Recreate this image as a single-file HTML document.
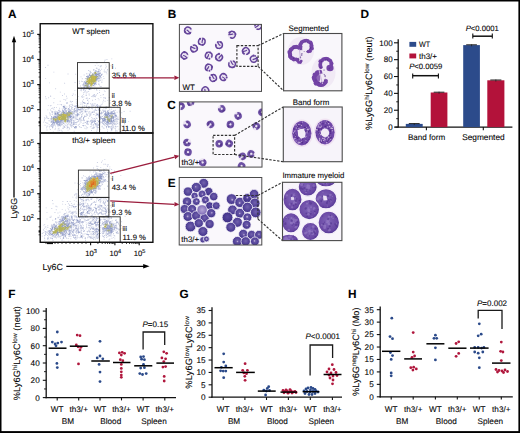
<!DOCTYPE html>
<html><head><meta charset="utf-8"><style>
html,body{margin:0;padding:0;background:#fff;}
svg{display:block;font-family:"Liberation Sans", sans-serif;text-rendering:geometricPrecision;}
text{stroke:#1c1c1c;stroke-width:0.1px;}
</style></head><body>
<svg width="520" height="433" viewBox="0 0 520 433">
<rect width="520" height="433" fill="#fff"/>
<rect x="0" y="0" width="520" height="1.5" fill="#000"/>
<rect x="0" y="0" width="1.5" height="433" fill="#000"/>
<rect x="518.4" y="0" width="1.6" height="433" fill="#000"/>
<rect x="0" y="431.1" width="520" height="1.9" fill="#000"/>
<text x="8.1" y="17.8" font-size="11.8" font-weight="bold" fill="#000">A</text>
<text x="167.7" y="17.7" font-size="11.8" font-weight="bold" fill="#000">B</text>
<text x="167.2" y="109" font-size="11.8" font-weight="bold" fill="#000">C</text>
<text x="167.8" y="187.4" font-size="11.8" font-weight="bold" fill="#000">E</text>
<text x="360.5" y="17.8" font-size="11.8" font-weight="bold" fill="#000">D</text>
<text x="8.3" y="298.1" font-size="11.8" font-weight="bold" fill="#000">F</text>
<text x="179.4" y="298.1" font-size="11.8" font-weight="bold" fill="#000">G</text>
<text x="348" y="298.1" font-size="11.8" font-weight="bold" fill="#000">H</text>
<path d="M93.24 81.78h.9v.9h-.9zM92.81 82.02h.9v.9h-.9zM91.8 75.5h.9v.9h-.9zM87.56 82.99h.9v.9h-.9zM87.49 87.44h.9v.9h-.9zM87.66 82.69h.9v.9h-.9zM84.47 84.56h.9v.9h-.9zM92.35 74.93h.9v.9h-.9zM92.19 73.78h.9v.9h-.9zM92.65 73.79h.9v.9h-.9zM87.87 86.5h.9v.9h-.9zM92.45 83.06h.9v.9h-.9zM93.24 82.15h.9v.9h-.9zM86.22 81.83h.9v.9h-.9zM92.93 74.14h.9v.9h-.9zM90.93 75.52h.9v.9h-.9zM93.05 75.67h.9v.9h-.9zM86.55 83.03h.9v.9h-.9zM97.12 76.4h.9v.9h-.9zM92.01 83.03h.9v.9h-.9zM91.27 75.32h.9v.9h-.9zM92.26 82.56h.9v.9h-.9zM87.57 78.47h.9v.9h-.9zM87.88 86.18h.9v.9h-.9zM86.98 86.51h.9v.9h-.9zM90.27 75.17h.9v.9h-.9zM86.57 78.95h.9v.9h-.9zM90.42 75.42h.9v.9h-.9zM87.38 84.65h.9v.9h-.9zM87.89 77.85h.9v.9h-.9zM87.67 82.07h.9v.9h-.9zM91.61 74.34h.9v.9h-.9zM87.9 83.12h.9v.9h-.9zM86.53 84.15h.9v.9h-.9zM86.06 86.44h.9v.9h-.9zM84.54 84.85h.9v.9h-.9zM86.49 86.08h.9v.9h-.9zM92.1 74.01h.9v.9h-.9zM90.53 75.16h.9v.9h-.9zM87.05 83.03h.9v.9h-.9zM87.3 84.3h.9v.9h-.9zM86.26 82.94h.9v.9h-.9zM86.72 86.46h.9v.9h-.9zM85.17 85.36h.9v.9h-.9zM87.93 83.84h.9v.9h-.9zM92.81 73.99h.9v.9h-.9zM88.04 76.28h.9v.9h-.9zM86.96 79.36h.9v.9h-.9zM89.8 76.81h.9v.9h-.9zM85.09 85.01h.9v.9h-.9zM92.38 74.33h.9v.9h-.9zM90.99 75.1h.9v.9h-.9zM86.44 78.61h.9v.9h-.9zM91.89 75.63h.9v.9h-.9zM96.27 75.91h.9v.9h-.9zM87.28 85.4h.9v.9h-.9zM89.88 75.7h.9v.9h-.9zM96.07 76.33h.9v.9h-.9zM89.23 77.37h.9v.9h-.9zM89.86 76.58h.9v.9h-.9zM87.82 81.79h.9v.9h-.9zM84.33 85.03h.9v.9h-.9zM96.9 76h.9v.9h-.9zM92.28 82.72h.9v.9h-.9zM86.49 83.95h.9v.9h-.9zM92.06 83.13h.9v.9h-.9zM89.55 77.35h.9v.9h-.9zM93.21 82.3h.9v.9h-.9zM88.34 76.7h.9v.9h-.9zM92.79 82.61h.9v.9h-.9zM93.04 75.32h.9v.9h-.9zM96.25 75.81h.9v.9h-.9zM92.56 74.67h.9v.9h-.9zM87.68 77.89h.9v.9h-.9zM85.16 85.24h.9v.9h-.9zM93.53 83.1h.9v.9h-.9zM93.9 82.71h.9v.9h-.9zM93.49 75.3h.9v.9h-.9zM89.86 76.22h.9v.9h-.9zM87.98 82.52h.9v.9h-.9zM87.7 85.89h.9v.9h-.9zM91.21 74.92h.9v.9h-.9zM96.03 77.62h.9v.9h-.9zM87.41 79.7h.9v.9h-.9zM86.35 77.77h.9v.9h-.9zM85.42 84.88h.9v.9h-.9zM86.65 84.51h.9v.9h-.9zM87.39 85.59h.9v.9h-.9zM93.04 82.39h.9v.9h-.9zM84.39 85.67h.9v.9h-.9zM85.21 85.15h.9v.9h-.9zM96.11 77.27h.9v.9h-.9zM96.34 77.25h.9v.9h-.9zM92.74 82.92h.9v.9h-.9zM89.41 77.58h.9v.9h-.9zM92.01 74.36h.9v.9h-.9zM88.98 77.53h.9v.9h-.9zM93.8 75.14h.9v.9h-.9zM86.03 82.41h.9v.9h-.9zM89.85 75.89h.9v.9h-.9zM86.3 87.69h.9v.9h-.9zM86.57 83.29h.9v.9h-.9zM86.79 86.91h.9v.9h-.9zM87.54 78.57h.9v.9h-.9zM86.28 85.36h.9v.9h-.9zM87.72 86.29h.9v.9h-.9zM85.65 84.59h.9v.9h-.9zM92.16 75.2h.9v.9h-.9zM96.52 76.74h.9v.9h-.9zM89.01 76.88h.9v.9h-.9zM87.62 79.67h.9v.9h-.9zM97.31 76.02h.9v.9h-.9zM96.26 76.28h.9v.9h-.9zM87.73 84.87h.9v.9h-.9zM86.74 77.78h.9v.9h-.9zM91.71 75.62h.9v.9h-.9zM55.87 120.82h.9v.9h-.9zM57.1 119.65h.9v.9h-.9zM66.36 113.26h.9v.9h-.9zM66.79 115.96h.9v.9h-.9zM53.77 118h.9v.9h-.9zM57.84 116.48h.9v.9h-.9zM52.53 119.15h.9v.9h-.9zM67.89 116.78h.9v.9h-.9zM57.14 115.73h.9v.9h-.9zM58.24 115.58h.9v.9h-.9zM70.11 111.97h.9v.9h-.9zM55.74 119.98h.9v.9h-.9zM58.64 115.19h.9v.9h-.9zM71.12 113.33h.9v.9h-.9zM68.54 113.05h.9v.9h-.9zM63.98 112.59h.9v.9h-.9zM55.35 120.74h.9v.9h-.9zM63.12 113.24h.9v.9h-.9zM54.79 120.18h.9v.9h-.9zM67.18 114.05h.9v.9h-.9zM62.09 113.61h.9v.9h-.9zM70.95 113.54h.9v.9h-.9zM61.29 113.93h.9v.9h-.9zM53.36 118.64h.9v.9h-.9zM66.5 113.28h.9v.9h-.9zM57.33 116.18h.9v.9h-.9zM60.85 114h.9v.9h-.9zM60.04 114.97h.9v.9h-.9zM60.44 114.43h.9v.9h-.9zM56.27 117.94h.9v.9h-.9zM57.03 116.49h.9v.9h-.9zM67.14 112.29h.9v.9h-.9zM66.11 115.16h.9v.9h-.9zM67.98 119.69h.9v.9h-.9zM59.02 114.92h.9v.9h-.9zM62.18 111.96h.9v.9h-.9zM69.22 111.77h.9v.9h-.9zM55.51 121.61h.9v.9h-.9zM59.81 114.03h.9v.9h-.9zM59.77 114.72h.9v.9h-.9zM57.7 116.8h.9v.9h-.9zM63.34 112.75h.9v.9h-.9zM54.54 120.23h.9v.9h-.9zM71.74 112.55h.9v.9h-.9zM66.94 112.65h.9v.9h-.9zM68.58 113.03h.9v.9h-.9zM67.62 115.36h.9v.9h-.9zM57.75 117.71h.9v.9h-.9zM57.36 118.62h.9v.9h-.9zM70.85 112.3h.9v.9h-.9zM58.3 114.73h.9v.9h-.9zM66.15 118.92h.9v.9h-.9zM69.01 113.68h.9v.9h-.9zM55.75 121.46h.9v.9h-.9zM67.22 114.69h.9v.9h-.9zM59.25 114h.9v.9h-.9zM56.51 116.86h.9v.9h-.9zM67.61 116.1h.9v.9h-.9zM57.48 117.72h.9v.9h-.9zM53.35 118.24h.9v.9h-.9zM57.52 116.05h.9v.9h-.9zM52.46 119.19h.9v.9h-.9zM62.84 112.82h.9v.9h-.9zM70.67 112.33h.9v.9h-.9zM67.5 117.43h.9v.9h-.9zM61.29 113.9h.9v.9h-.9zM53.11 118.55h.9v.9h-.9zM67.76 112.02h.9v.9h-.9zM57.62 117.59h.9v.9h-.9zM58.02 114.11h.9v.9h-.9zM59.28 114.72h.9v.9h-.9zM57.48 118.78h.9v.9h-.9zM57.73 118.51h.9v.9h-.9zM57.34 118.86h.9v.9h-.9zM67.34 116.42h.9v.9h-.9zM55.83 120.85h.9v.9h-.9zM54.62 119.99h.9v.9h-.9zM67.65 113.32h.9v.9h-.9zM70.52 112.53h.9v.9h-.9zM53.11 119.12h.9v.9h-.9zM66.2 114.17h.9v.9h-.9zM66.58 116.82h.9v.9h-.9zM60.65 114.84h.9v.9h-.9zM66.49 113.9h.9v.9h-.9zM54.97 121.37h.9v.9h-.9zM58.68 114.95h.9v.9h-.9zM66.7 112.46h.9v.9h-.9zM55.22 120.93h.9v.9h-.9zM67.47 116.3h.9v.9h-.9zM56.14 117.06h.9v.9h-.9zM60.91 115.49h.9v.9h-.9zM61.17 115.29h.9v.9h-.9zM63.42 112.67h.9v.9h-.9zM67.09 115.1h.9v.9h-.9zM66.34 116.75h.9v.9h-.9zM56.74 118.07h.9v.9h-.9zM69.99 113.34h.9v.9h-.9zM63.19 111.9h.9v.9h-.9zM59.49 114.52h.9v.9h-.9zM66.58 117.34h.9v.9h-.9zM60.82 115.26h.9v.9h-.9zM56.48 118.52h.9v.9h-.9zM54.74 120.86h.9v.9h-.9zM59.9 115.38h.9v.9h-.9zM69.75 113.67h.9v.9h-.9zM66.29 113.16h.9v.9h-.9zM67.39 118.81h.9v.9h-.9zM67.25 113.11h.9v.9h-.9zM56.84 116.95h.9v.9h-.9zM69.99 112.16h.9v.9h-.9zM57.88 119.4h.9v.9h-.9zM67.73 114.07h.9v.9h-.9zM66.65 115.85h.9v.9h-.9zM57.65 116.96h.9v.9h-.9zM67.8 114.05h.9v.9h-.9zM63.79 112.78h.9v.9h-.9zM52.23 117.93h.9v.9h-.9zM59.87 115.11h.9v.9h-.9zM66.52 113.64h.9v.9h-.9zM67.64 117.05h.9v.9h-.9zM57.14 118.53h.9v.9h-.9zM71.59 113.58h.9v.9h-.9zM57.26 118.12h.9v.9h-.9zM63.77 111.95h.9v.9h-.9zM53.73 119.34h.9v.9h-.9zM61.02 114.69h.9v.9h-.9zM70.82 112.27h.9v.9h-.9zM63.19 113.56h.9v.9h-.9zM67.88 119.54h.9v.9h-.9zM66.13 112.47h.9v.9h-.9zM62.81 112.39h.9v.9h-.9zM56.39 118.11h.9v.9h-.9zM69.47 112.55h.9v.9h-.9zM59.18 115.35h.9v.9h-.9zM60.9 114.75h.9v.9h-.9zM53.35 118.33h.9v.9h-.9zM67.79 114.1h.9v.9h-.9zM67.22 112.38h.9v.9h-.9zM67.65 118.37h.9v.9h-.9zM71.73 112.82h.9v.9h-.9zM66.93 116.3h.9v.9h-.9zM67.98 116.64h.9v.9h-.9zM68.97 112.65h.9v.9h-.9zM66.33 119.42h.9v.9h-.9zM67.44 113.9h.9v.9h-.9zM62.82 112.41h.9v.9h-.9zM67.93 117.88h.9v.9h-.9zM67 119.48h.9v.9h-.9zM63.26 111.96h.9v.9h-.9zM68.57 111.84h.9v.9h-.9zM67.33 118.33h.9v.9h-.9zM67.38 119.35h.9v.9h-.9zM67.12 115.28h.9v.9h-.9zM107.12 118.52h.9v.9h-.9zM110.37 114.98h.9v.9h-.9zM106.9 118.94h.9v.9h-.9zM110.47 114.88h.9v.9h-.9zM111.69 114.42h.9v.9h-.9zM109.76 118.67h.9v.9h-.9zM106.95 117.43h.9v.9h-.9zM107.48 118.63h.9v.9h-.9zM106.05 117.29h.9v.9h-.9zM105.65 117.22h.9v.9h-.9zM107.19 119.67h.9v.9h-.9zM106.44 119.2h.9v.9h-.9zM109.2 119.56h.9v.9h-.9zM108.22 120.01h.9v.9h-.9zM111.14 117.06h.9v.9h-.9zM104.54 116.76h.9v.9h-.9zM111.88 116.92h.9v.9h-.9zM109.24 118.91h.9v.9h-.9zM107.92 117.95h.9v.9h-.9zM107.41 119.69h.9v.9h-.9zM105.04 116.75h.9v.9h-.9zM107.19 118.27h.9v.9h-.9zM111.5 114.3h.9v.9h-.9zM105.77 116.35h.9v.9h-.9zM108.44 118.45h.9v.9h-.9zM107.83 119.5h.9v.9h-.9zM109.76 118.32h.9v.9h-.9zM106.98 117.4h.9v.9h-.9zM111.3 116.04h.9v.9h-.9zM111.75 114.96h.9v.9h-.9zM109.58 121.17h.9v.9h-.9zM104.26 116.17h.9v.9h-.9zM109.53 120.64h.9v.9h-.9zM108.95 118.9h.9v.9h-.9zM107.58 116.96h.9v.9h-.9zM107.1 115.73h.9v.9h-.9zM107.77 119.25h.9v.9h-.9zM108.62 119.42h.9v.9h-.9zM110.91 116.5h.9v.9h-.9zM109.82 120.94h.9v.9h-.9zM104.13 116.88h.9v.9h-.9zM109.93 117.83h.9v.9h-.9zM106.42 115.83h.9v.9h-.9zM110.8 116.96h.9v.9h-.9zM109.69 119.56h.9v.9h-.9zM108.72 120.44h.9v.9h-.9zM110.2 115.48h.9v.9h-.9zM109.88 117.78h.9v.9h-.9zM107.75 117.51h.9v.9h-.9zM108.71 121.02h.9v.9h-.9zM111.9 115.58h.9v.9h-.9zM109.63 120.16h.9v.9h-.9zM111.76 114.51h.9v.9h-.9zM104.82 116.86h.9v.9h-.9zM105.36 116.57h.9v.9h-.9zM104.4 116.41h.9v.9h-.9zM111.41 116.38h.9v.9h-.9zM109.01 119.17h.9v.9h-.9zM110.39 116.35h.9v.9h-.9zM110.6 115.93h.9v.9h-.9zM104.25 116.38h.9v.9h-.9zM106.58 119.42h.9v.9h-.9zM108.04 120.74h.9v.9h-.9zM111.83 115.23h.9v.9h-.9zM109.24 120.16h.9v.9h-.9zM108.01 120.27h.9v.9h-.9zM111.17 117.05h.9v.9h-.9zM107.36 119.57h.9v.9h-.9zM107.2 115.97h.9v.9h-.9zM108.13 119.26h.9v.9h-.9zM111.53 116.64h.9v.9h-.9zM106.54 119.62h.9v.9h-.9zM106.12 116.86h.9v.9h-.9zM108.61 119.37h.9v.9h-.9zM109.22 118.16h.9v.9h-.9zM106.85 117.21h.9v.9h-.9zM111.85 117.56h.9v.9h-.9zM106.84 116.36h.9v.9h-.9zM110.4 115.25h.9v.9h-.9zM61.9 113.85h.9v.9h-.9zM53.1 117.78h.9v.9h-.9zM55.13 120.15h.9v.9h-.9zM70.3 112.98h.9v.9h-.9zM66.04 113.75h.9v.9h-.9z" fill="#a4aa88"/>
<path d="M94.03 73.22h.9v.9h-.9zM95.98 75.91h.9v.9h-.9zM90.14 81.31h.9v.9h-.9zM95.84 73.4h.9v.9h-.9zM91.68 81.29h.9v.9h-.9zM94.11 80.04h.9v.9h-.9zM90.08 83.86h.9v.9h-.9zM90.83 79.59h.9v.9h-.9zM90.68 81.34h.9v.9h-.9zM88.61 83.05h.9v.9h-.9zM91.53 77.78h.9v.9h-.9zM95.04 79.82h.9v.9h-.9zM88.45 83.4h.9v.9h-.9zM94.56 80.78h.9v.9h-.9zM90.84 78.12h.9v.9h-.9zM87.27 81.27h.9v.9h-.9zM90.75 85.64h.9v.9h-.9zM92.23 80.22h.9v.9h-.9zM94.43 79.4h.9v.9h-.9zM86.51 81.13h.9v.9h-.9zM94.02 79.91h.9v.9h-.9zM95.88 77.7h.9v.9h-.9zM90.36 77h.9v.9h-.9zM94.68 77.84h.9v.9h-.9zM91.2 75.99h.9v.9h-.9zM89.55 82.34h.9v.9h-.9zM91.79 77.46h.9v.9h-.9zM90.41 80.12h.9v.9h-.9zM89.25 82.45h.9v.9h-.9zM94.38 80.1h.9v.9h-.9zM88.84 83.28h.9v.9h-.9zM93.71 80.36h.9v.9h-.9zM86.18 80.8h.9v.9h-.9zM91.36 77.61h.9v.9h-.9zM87.62 80.36h.9v.9h-.9zM95.9 80.7h.9v.9h-.9zM90.54 79.15h.9v.9h-.9zM94.19 73.61h.9v.9h-.9zM88.7 83.67h.9v.9h-.9zM87.7 81.55h.9v.9h-.9zM90.22 85.11h.9v.9h-.9zM94.1 81.45h.9v.9h-.9zM95.83 77.92h.9v.9h-.9zM88.39 81.78h.9v.9h-.9zM90.69 75.92h.9v.9h-.9zM94.07 73.52h.9v.9h-.9zM90.15 84.12h.9v.9h-.9zM88.2 82.6h.9v.9h-.9zM91.28 84.08h.9v.9h-.9zM93.62 80.6h.9v.9h-.9zM90.03 81.5h.9v.9h-.9zM94.21 81.31h.9v.9h-.9zM94.83 75.86h.9v.9h-.9zM87.85 81.67h.9v.9h-.9zM88.33 83.32h.9v.9h-.9zM92.54 79.98h.9v.9h-.9zM91.08 78.86h.9v.9h-.9zM91.38 85.57h.9v.9h-.9zM93.47 81.34h.9v.9h-.9zM89.57 81.98h.9v.9h-.9zM90.01 76.95h.9v.9h-.9zM94.57 80.5h.9v.9h-.9zM95.65 80.12h.9v.9h-.9zM90.34 84.54h.9v.9h-.9zM90.91 83.86h.9v.9h-.9zM90.54 77.55h.9v.9h-.9zM91.05 84.06h.9v.9h-.9zM92.68 81.21h.9v.9h-.9zM94.81 80.08h.9v.9h-.9zM93.99 80.59h.9v.9h-.9zM95.83 77.7h.9v.9h-.9zM91.53 79.35h.9v.9h-.9zM93.35 79.76h.9v.9h-.9zM91.09 80.97h.9v.9h-.9zM90.83 77.29h.9v.9h-.9zM95.39 72.1h.9v.9h-.9zM94.98 76.85h.9v.9h-.9zM89.03 81.83h.9v.9h-.9zM90.89 80.77h.9v.9h-.9zM93.54 80.95h.9v.9h-.9zM90.11 84.08h.9v.9h-.9zM95.18 77.98h.9v.9h-.9zM91.93 81.01h.9v.9h-.9zM90.42 85.52h.9v.9h-.9zM94.45 78.11h.9v.9h-.9zM95.19 76.44h.9v.9h-.9zM89.08 82.61h.9v.9h-.9zM94.77 80.82h.9v.9h-.9zM87.57 80.85h.9v.9h-.9zM92.19 81.18h.9v.9h-.9zM87.85 80.18h.9v.9h-.9zM88.2 82.3h.9v.9h-.9zM91.21 79.03h.9v.9h-.9zM91.64 78.52h.9v.9h-.9zM91.2 85.14h.9v.9h-.9zM90.12 76.86h.9v.9h-.9zM93.22 80.05h.9v.9h-.9zM91.96 78.93h.9v.9h-.9zM93.97 81.61h.9v.9h-.9zM93.6 79.98h.9v.9h-.9zM95.12 80.49h.9v.9h-.9zM92.58 81.69h.9v.9h-.9zM94.76 71.94h.9v.9h-.9zM89.08 83.2h.9v.9h-.9zM92.99 80.57h.9v.9h-.9zM86.28 81.11h.9v.9h-.9zM90.23 85.63h.9v.9h-.9zM91.53 80.73h.9v.9h-.9zM86.74 81.46h.9v.9h-.9zM91.96 79.39h.9v.9h-.9zM90.22 85.42h.9v.9h-.9zM94.37 78.68h.9v.9h-.9zM91 81.21h.9v.9h-.9zM93.26 80.73h.9v.9h-.9zM94.43 79.35h.9v.9h-.9zM88.58 83.36h.9v.9h-.9zM87.52 80.83h.9v.9h-.9zM87.93 81.68h.9v.9h-.9zM95.42 76.86h.9v.9h-.9zM95.74 76.95h.9v.9h-.9zM94.44 80.03h.9v.9h-.9zM95.74 73h.9v.9h-.9zM90.64 79.49h.9v.9h-.9zM91.23 78.67h.9v.9h-.9zM90.31 76.93h.9v.9h-.9zM95.36 78.61h.9v.9h-.9zM87.12 80.62h.9v.9h-.9zM90.19 79.98h.9v.9h-.9zM87.45 80.75h.9v.9h-.9zM91.27 79.4h.9v.9h-.9zM91.98 79.09h.9v.9h-.9zM91.18 75.86h.9v.9h-.9zM90.81 80.5h.9v.9h-.9zM91.21 77.64h.9v.9h-.9zM95.65 73.24h.9v.9h-.9zM91.49 77.96h.9v.9h-.9zM90.81 76.8h.9v.9h-.9zM94.85 80.86h.9v.9h-.9zM88.35 82.87h.9v.9h-.9zM94.98 79.78h.9v.9h-.9zM90.18 84.94h.9v.9h-.9zM92.49 81.61h.9v.9h-.9zM90.29 80.95h.9v.9h-.9zM91.07 80.83h.9v.9h-.9zM91.15 79.31h.9v.9h-.9zM86.33 80.61h.9v.9h-.9zM94.09 79.34h.9v.9h-.9zM88.29 82.82h.9v.9h-.9zM94.11 76.25h.9v.9h-.9zM91.97 83.92h.9v.9h-.9zM91.09 76.93h.9v.9h-.9zM91.45 76.41h.9v.9h-.9zM91.74 80.79h.9v.9h-.9zM94.12 77.82h.9v.9h-.9zM94.93 72.14h.9v.9h-.9zM94.15 73.36h.9v.9h-.9zM89.61 82.99h.9v.9h-.9zM95.12 79.05h.9v.9h-.9zM95.95 77.21h.9v.9h-.9zM95.39 73.03h.9v.9h-.9zM94.29 75.9h.9v.9h-.9zM92.69 80.72h.9v.9h-.9zM95.71 77.69h.9v.9h-.9zM94.81 79.53h.9v.9h-.9zM95.06 77.41h.9v.9h-.9zM95.4 72.16h.9v.9h-.9zM94.12 71.89h.9v.9h-.9zM95.07 76.55h.9v.9h-.9zM94.41 76.79h.9v.9h-.9zM90.59 76.34h.9v.9h-.9zM94.63 72.66h.9v.9h-.9zM94.53 81.63h.9v.9h-.9zM94.43 79.5h.9v.9h-.9zM91.69 80.24h.9v.9h-.9zM89.77 82.75h.9v.9h-.9zM91.63 79.81h.9v.9h-.9zM94.09 80.15h.9v.9h-.9zM95.87 76.67h.9v.9h-.9zM90.23 78.73h.9v.9h-.9zM95.11 76.76h.9v.9h-.9zM95.05 73.04h.9v.9h-.9zM95.69 75.86h.9v.9h-.9zM93.22 81.11h.9v.9h-.9zM93.06 80.02h.9v.9h-.9zM94.02 81.16h.9v.9h-.9zM91.77 79.36h.9v.9h-.9zM95.58 78.54h.9v.9h-.9zM95.7 77.5h.9v.9h-.9zM95.63 76.93h.9v.9h-.9zM63.44 116.99h.9v.9h-.9zM54.69 118.67h.9v.9h-.9zM61.48 117.76h.9v.9h-.9zM60.76 117.98h.9v.9h-.9zM64.76 115.98h.9v.9h-.9zM62.98 116.01h.9v.9h-.9zM61.7 116.23h.9v.9h-.9zM64.13 120.64h.9v.9h-.9zM60.16 118.87h.9v.9h-.9zM63.39 115.03h.9v.9h-.9zM63.42 115.21h.9v.9h-.9zM69.9 114.65h.9v.9h-.9zM69.14 114.33h.9v.9h-.9zM63.7 114.12h.9v.9h-.9zM64.1 117.26h.9v.9h-.9zM61.26 117.03h.9v.9h-.9zM62.91 117.1h.9v.9h-.9zM64.09 117.63h.9v.9h-.9zM63.75 117.15h.9v.9h-.9zM64.99 119.72h.9v.9h-.9zM64.07 116.33h.9v.9h-.9zM64.32 118.55h.9v.9h-.9zM63.93 114.29h.9v.9h-.9zM64.46 121.36h.9v.9h-.9zM63.89 117.99h.9v.9h-.9zM65.26 117.1h.9v.9h-.9zM60.57 116.07h.9v.9h-.9zM64.02 119.6h.9v.9h-.9zM62.56 117.8h.9v.9h-.9zM64.57 117.91h.9v.9h-.9zM62.23 114.69h.9v.9h-.9zM62.81 115.34h.9v.9h-.9zM61.36 117.03h.9v.9h-.9zM60.97 118.28h.9v.9h-.9zM68.09 115.46h.9v.9h-.9zM62.63 116.18h.9v.9h-.9zM62.63 116.66h.9v.9h-.9zM54.1 118.2h.9v.9h-.9zM60.62 118.38h.9v.9h-.9zM54.26 119.14h.9v.9h-.9zM61.16 118.07h.9v.9h-.9zM62.52 116.49h.9v.9h-.9zM61.71 119.33h.9v.9h-.9zM55.08 118.31h.9v.9h-.9zM62.47 114.71h.9v.9h-.9zM62.11 113.96h.9v.9h-.9zM64.07 120.68h.9v.9h-.9zM62.02 116.69h.9v.9h-.9zM64.94 119.32h.9v.9h-.9zM65.39 120.26h.9v.9h-.9zM64.19 119.99h.9v.9h-.9zM61.44 117.12h.9v.9h-.9zM61.3 117.26h.9v.9h-.9zM62.47 115.96h.9v.9h-.9zM65.53 116.6h.9v.9h-.9zM64.97 118.3h.9v.9h-.9zM63.63 115.98h.9v.9h-.9zM65.13 119.27h.9v.9h-.9zM62.88 119.46h.9v.9h-.9zM55.96 119.57h.9v.9h-.9zM64.28 117.99h.9v.9h-.9zM63.96 119.63h.9v.9h-.9zM68.49 114.93h.9v.9h-.9zM63.58 114.04h.9v.9h-.9zM64.31 120.76h.9v.9h-.9zM65.5 118.05h.9v.9h-.9zM63.7 117.08h.9v.9h-.9zM64.03 118.49h.9v.9h-.9zM65.57 116.24h.9v.9h-.9zM60.11 117.16h.9v.9h-.9zM60.91 118.13h.9v.9h-.9zM64.28 116.28h.9v.9h-.9zM61.42 118.2h.9v.9h-.9zM61.23 115.8h.9v.9h-.9zM61.94 119.07h.9v.9h-.9zM61.86 116.85h.9v.9h-.9zM62.02 117.53h.9v.9h-.9zM64.63 121.38h.9v.9h-.9zM61.47 116.4h.9v.9h-.9zM55.57 118.53h.9v.9h-.9zM61.4 118.43h.9v.9h-.9zM63.34 117.82h.9v.9h-.9zM60.92 119.23h.9v.9h-.9zM62.83 118.4h.9v.9h-.9zM62.44 118.19h.9v.9h-.9zM55.32 119.08h.9v.9h-.9zM64.85 116.88h.9v.9h-.9zM63.28 115.04h.9v.9h-.9zM68.56 115.11h.9v.9h-.9zM62.41 117.8h.9v.9h-.9zM63.87 118.98h.9v.9h-.9zM60.57 118.06h.9v.9h-.9zM64.35 116.26h.9v.9h-.9zM55.51 118.92h.9v.9h-.9zM62.91 115.65h.9v.9h-.9zM55.86 119.15h.9v.9h-.9zM60.96 116.26h.9v.9h-.9zM62.9 117.26h.9v.9h-.9zM62.04 115.61h.9v.9h-.9zM61.87 115.79h.9v.9h-.9zM65 118.59h.9v.9h-.9zM64.57 120.11h.9v.9h-.9zM64.52 115.86h.9v.9h-.9zM54.77 119.09h.9v.9h-.9zM62.95 116.76h.9v.9h-.9zM60.66 118.68h.9v.9h-.9zM64.49 119.61h.9v.9h-.9zM68.36 114.68h.9v.9h-.9zM63.08 118.98h.9v.9h-.9zM55.76 118.6h.9v.9h-.9zM55.54 119.61h.9v.9h-.9zM64.1 120.19h.9v.9h-.9zM63.72 114.38h.9v.9h-.9zM64.74 119.95h.9v.9h-.9zM62.02 114.01h.9v.9h-.9zM63.99 115.58h.9v.9h-.9zM61.33 116.23h.9v.9h-.9zM55.94 119.02h.9v.9h-.9zM61.69 118.6h.9v.9h-.9zM60.21 118.9h.9v.9h-.9zM65.24 118.47h.9v.9h-.9zM63.16 117.74h.9v.9h-.9zM60.07 119.24h.9v.9h-.9zM64.65 116.28h.9v.9h-.9zM62.33 115.02h.9v.9h-.9zM68.03 114.65h.9v.9h-.9zM62.8 118.25h.9v.9h-.9zM65.55 116.58h.9v.9h-.9zM61.7 117.43h.9v.9h-.9zM64.07 116.11h.9v.9h-.9zM61.69 119.61h.9v.9h-.9zM54.57 119.48h.9v.9h-.9zM64.44 121.12h.9v.9h-.9zM61.77 116.95h.9v.9h-.9zM69.65 114.34h.9v.9h-.9zM61.16 116.73h.9v.9h-.9zM62.61 117.06h.9v.9h-.9zM64.51 120.98h.9v.9h-.9zM60.12 116.46h.9v.9h-.9zM69.43 113.81h.9v.9h-.9zM61.45 115.87h.9v.9h-.9zM55.92 118.91h.9v.9h-.9zM65.4 121.59h.9v.9h-.9zM63.46 116.25h.9v.9h-.9zM65.49 119.58h.9v.9h-.9zM61.47 119.02h.9v.9h-.9zM65.84 116.16h.9v.9h-.9zM61.25 118.6h.9v.9h-.9zM68.66 114.54h.9v.9h-.9zM65.07 120.43h.9v.9h-.9zM63.33 118.19h.9v.9h-.9zM62.03 116.12h.9v.9h-.9zM63.56 118.35h.9v.9h-.9zM63.45 115.98h.9v.9h-.9zM69.51 114.38h.9v.9h-.9zM64.09 116.77h.9v.9h-.9zM63.15 117.73h.9v.9h-.9zM68.18 114.97h.9v.9h-.9zM64.73 117.7h.9v.9h-.9zM62.74 115.17h.9v.9h-.9zM64.86 118.55h.9v.9h-.9zM69.38 115.67h.9v.9h-.9zM68.26 114.07h.9v.9h-.9zM63.2 118.28h.9v.9h-.9zM62.93 114h.9v.9h-.9zM68.94 114.84h.9v.9h-.9zM63.12 119.08h.9v.9h-.9zM62.53 115h.9v.9h-.9zM69.99 115.42h.9v.9h-.9zM62.54 119.29h.9v.9h-.9zM65.59 116.2h.9v.9h-.9zM62.64 119.6h.9v.9h-.9zM64.28 115.85h.9v.9h-.9zM64.02 117.71h.9v.9h-.9zM69.61 115.26h.9v.9h-.9z" fill="#b4b25a"/>
<path d="M92.78 85.17h.9v.9h-.9zM85.84 88.28h.9v.9h-.9zM83.71 86.88h.9v.9h-.9zM83.86 85.94h.9v.9h-.9zM98.28 74.02h.9v.9h-.9zM85.54 86.1h.9v.9h-.9zM88.08 86.2h.9v.9h-.9zM88.01 86.47h.9v.9h-.9zM98.27 78.11h.9v.9h-.9zM99.75 69.9h.9v.9h-.9zM92.05 73.28h.9v.9h-.9zM83.84 88.51h.9v.9h-.9zM83.39 83.29h.9v.9h-.9zM84.63 87.72h.9v.9h-.9zM97.61 71.05h.9v.9h-.9zM83.27 83.55h.9v.9h-.9zM93.98 83.84h.9v.9h-.9zM93.4 85.29h.9v.9h-.9zM89.65 84.12h.9v.9h-.9zM82.92 88.94h.9v.9h-.9zM85.33 88.27h.9v.9h-.9zM94.63 71.19h.9v.9h-.9zM101.1 74.93h.9v.9h-.9zM88.56 85.96h.9v.9h-.9zM84.16 87.16h.9v.9h-.9zM88.32 84.98h.9v.9h-.9zM82.7 85.21h.9v.9h-.9zM88.96 86.22h.9v.9h-.9zM90.22 73.39h.9v.9h-.9zM99.02 78.32h.9v.9h-.9zM96.74 71.65h.9v.9h-.9zM93.49 73.18h.9v.9h-.9zM80.73 88.07h.9v.9h-.9zM99.57 75.51h.9v.9h-.9zM83.22 89.51h.9v.9h-.9zM93.65 72.19h.9v.9h-.9zM98.97 78.29h.9v.9h-.9zM83.14 83.3h.9v.9h-.9zM97.94 71.11h.9v.9h-.9zM99.12 74.58h.9v.9h-.9zM83.94 85.64h.9v.9h-.9zM89.78 84.08h.9v.9h-.9zM84.26 87.13h.9v.9h-.9zM84.39 91.64h.9v.9h-.9zM89.75 83.98h.9v.9h-.9zM83.12 83.74h.9v.9h-.9zM85.89 86.18h.9v.9h-.9zM80.65 88.93h.9v.9h-.9zM90.62 71.89h.9v.9h-.9zM93.71 94.03h.9v.9h-.9zM84.4 91.62h.9v.9h-.9zM88.33 85.03h.9v.9h-.9zM96.78 71.42h.9v.9h-.9zM93.7 72.7h.9v.9h-.9zM93.18 84.44h.9v.9h-.9zM99.28 78.33h.9v.9h-.9zM80.84 88.87h.9v.9h-.9zM101.54 74.22h.9v.9h-.9zM95.44 70.11h.9v.9h-.9zM89.56 70.63h.9v.9h-.9zM83.21 85.6h.9v.9h-.9zM97.85 81.2h.9v.9h-.9zM90.38 71.96h.9v.9h-.9zM96.05 79.94h.9v.9h-.9zM82.7 86.89h.9v.9h-.9zM94.83 70.79h.9v.9h-.9zM88.2 69.97h.9v.9h-.9zM92.21 84.94h.9v.9h-.9zM100.32 74.86h.9v.9h-.9zM89.8 71.56h.9v.9h-.9zM85.89 87.18h.9v.9h-.9zM96.37 79.98h.9v.9h-.9zM98.36 70.53h.9v.9h-.9zM84.27 81.58h.9v.9h-.9zM84.24 81.08h.9v.9h-.9zM101 74.11h.9v.9h-.9zM83.19 84.17h.9v.9h-.9zM97.6 70.93h.9v.9h-.9zM98.74 75.11h.9v.9h-.9zM83.59 81.97h.9v.9h-.9zM98.64 71.38h.9v.9h-.9zM85.36 80.49h.9v.9h-.9zM95.85 70.79h.9v.9h-.9zM62.49 121.39h.9v.9h-.9zM56.43 115.38h.9v.9h-.9zM70.47 117.9h.9v.9h-.9zM57.49 123.92h.9v.9h-.9zM50.97 121.77h.9v.9h-.9zM75.81 114.76h.9v.9h-.9zM59.26 109.9h.9v.9h-.9zM60.66 112.79h.9v.9h-.9zM70.5 109.8h.9v.9h-.9zM61.04 113.18h.9v.9h-.9zM71.01 118.53h.9v.9h-.9zM71.27 121.69h.9v.9h-.9zM68.35 121.06h.9v.9h-.9zM58.96 122.92h.9v.9h-.9zM51.33 121.83h.9v.9h-.9zM57.3 115.62h.9v.9h-.9zM71.74 114.43h.9v.9h-.9zM60.22 123.45h.9v.9h-.9zM59.51 111.16h.9v.9h-.9zM75.49 110.11h.9v.9h-.9zM51.51 120.9h.9v.9h-.9zM55.68 114.56h.9v.9h-.9zM50.76 120.61h.9v.9h-.9zM70.01 115h.9v.9h-.9zM51.4 120.56h.9v.9h-.9zM52.56 124.38h.9v.9h-.9zM53.52 124.79h.9v.9h-.9zM55.36 121.86h.9v.9h-.9zM70.13 114.24h.9v.9h-.9zM52.14 126.55h.9v.9h-.9zM57.03 124.71h.9v.9h-.9zM56.92 113.8h.9v.9h-.9zM53.78 124.28h.9v.9h-.9zM62.15 121.88h.9v.9h-.9zM77.24 110.81h.9v.9h-.9zM57.72 124.27h.9v.9h-.9zM61.66 123.98h.9v.9h-.9zM63.31 122.7h.9v.9h-.9zM57.56 114.74h.9v.9h-.9zM72.29 111.14h.9v.9h-.9zM77.17 108.04h.9v.9h-.9zM62.88 122.6h.9v.9h-.9zM52.21 127.29h.9v.9h-.9zM61.36 111.87h.9v.9h-.9zM60.94 122.27h.9v.9h-.9zM54.41 121.87h.9v.9h-.9zM51.07 117.38h.9v.9h-.9zM57.01 115.35h.9v.9h-.9zM70.37 115.21h.9v.9h-.9zM51.97 123.03h.9v.9h-.9zM51.16 124.11h.9v.9h-.9zM50.93 117.86h.9v.9h-.9zM58.13 122.01h.9v.9h-.9zM69.42 121.84h.9v.9h-.9zM74.59 116.79h.9v.9h-.9zM60.77 122.63h.9v.9h-.9zM51.38 117.24h.9v.9h-.9zM51.07 118.77h.9v.9h-.9zM55.38 113.95h.9v.9h-.9zM61.14 113.16h.9v.9h-.9zM73.61 111.18h.9v.9h-.9zM70.83 123.13h.9v.9h-.9zM75.58 114.84h.9v.9h-.9zM51.59 124.34h.9v.9h-.9zM59.1 122.79h.9v.9h-.9zM72.86 122.91h.9v.9h-.9zM87.56 107.41h.9v.9h-.9zM86.06 105.96h.9v.9h-.9zM69.34 121.09h.9v.9h-.9zM50.44 118.61h.9v.9h-.9zM75.76 106.45h.9v.9h-.9zM54.43 113.82h.9v.9h-.9zM51.4 125.49h.9v.9h-.9zM81.55 109.01h.9v.9h-.9zM77.9 113.58h.9v.9h-.9zM73.41 121.32h.9v.9h-.9zM51.65 121.6h.9v.9h-.9zM62.08 120.22h.9v.9h-.9zM79.58 118.19h.9v.9h-.9zM75.81 122.25h.9v.9h-.9zM51.1 116.07h.9v.9h-.9zM50.68 117.92h.9v.9h-.9zM68.14 122.53h.9v.9h-.9zM52.38 124.29h.9v.9h-.9zM80.59 116.97h.9v.9h-.9zM87.43 103.34h.9v.9h-.9zM54.41 123.41h.9v.9h-.9zM55.71 114.03h.9v.9h-.9zM68.89 108.76h.9v.9h-.9zM70.48 120.86h.9v.9h-.9zM74.2 107.98h.9v.9h-.9zM77.44 104.82h.9v.9h-.9zM52.56 126.37h.9v.9h-.9zM61.69 123.7h.9v.9h-.9zM72.35 124.51h.9v.9h-.9zM74.49 109.65h.9v.9h-.9zM58.01 110.17h.9v.9h-.9zM81.92 110.91h.9v.9h-.9zM81.15 116.43h.9v.9h-.9zM63.59 119.76h.9v.9h-.9zM74.57 110.85h.9v.9h-.9zM55.88 122.17h.9v.9h-.9zM80.27 108.83h.9v.9h-.9zM68.67 108.78h.9v.9h-.9zM70.66 118.05h.9v.9h-.9zM51.35 125.33h.9v.9h-.9zM73.58 113.07h.9v.9h-.9zM50.05 125.38h.9v.9h-.9zM75.93 110.67h.9v.9h-.9zM61.35 111.77h.9v.9h-.9zM63.74 126.99h.9v.9h-.9zM60.74 124.53h.9v.9h-.9zM79.68 119.55h.9v.9h-.9zM70.94 120.16h.9v.9h-.9zM60.4 121.8h.9v.9h-.9zM75.72 107.06h.9v.9h-.9zM74.07 108.86h.9v.9h-.9zM73.7 122.33h.9v.9h-.9zM72.94 124.07h.9v.9h-.9zM68.35 120.8h.9v.9h-.9zM54.44 122.07h.9v.9h-.9zM80.83 110.43h.9v.9h-.9zM59.69 123.59h.9v.9h-.9zM58.87 111.6h.9v.9h-.9zM52.65 124.71h.9v.9h-.9zM68.44 122.51h.9v.9h-.9zM75.21 122.33h.9v.9h-.9zM59.11 121.82h.9v.9h-.9zM70.58 105.98h.9v.9h-.9zM74.9 110.64h.9v.9h-.9zM74.58 116.36h.9v.9h-.9zM60.31 122.27h.9v.9h-.9zM74.16 106.18h.9v.9h-.9zM97.42 123.77h.9v.9h-.9zM67.18 126.94h.9v.9h-.9zM91.83 112.09h.9v.9h-.9zM91.12 123.64h.9v.9h-.9zM77.05 112.79h.9v.9h-.9zM99.35 114.43h.9v.9h-.9zM89.22 106.78h.9v.9h-.9zM83.67 107.68h.9v.9h-.9zM99.61 112.65h.9v.9h-.9zM91.21 123.27h.9v.9h-.9zM66.6 127.69h.9v.9h-.9zM75.31 105.74h.9v.9h-.9zM74.67 114.24h.9v.9h-.9zM82.06 107.41h.9v.9h-.9zM72.96 122.61h.9v.9h-.9zM75.8 117.63h.9v.9h-.9zM91.9 111.94h.9v.9h-.9zM98.16 115.39h.9v.9h-.9zM97.75 124.06h.9v.9h-.9zM81.28 115.71h.9v.9h-.9zM73.81 110.52h.9v.9h-.9zM83.61 117.21h.9v.9h-.9zM94.22 123.19h.9v.9h-.9zM70.56 106.15h.9v.9h-.9zM78.77 118.96h.9v.9h-.9zM68.22 109.14h.9v.9h-.9zM87.4 121.09h.9v.9h-.9zM93.54 127.44h.9v.9h-.9zM83.03 116.93h.9v.9h-.9zM92.72 127.48h.9v.9h-.9zM96.77 105.55h.9v.9h-.9zM84.71 111.6h.9v.9h-.9zM76.76 110.63h.9v.9h-.9zM83.09 117.94h.9v.9h-.9zM96.93 106.07h.9v.9h-.9zM62.57 122.48h.9v.9h-.9zM73.81 123.39h.9v.9h-.9zM75.65 108.21h.9v.9h-.9zM90.48 121.14h.9v.9h-.9zM96.85 126.84h.9v.9h-.9zM70.43 120.13h.9v.9h-.9zM80.79 110.66h.9v.9h-.9zM70.44 124.01h.9v.9h-.9zM98.58 112.85h.9v.9h-.9zM83.12 125.28h.9v.9h-.9zM93.65 119.88h.9v.9h-.9zM80.77 110.39h.9v.9h-.9zM95.63 125.2h.9v.9h-.9zM72.69 122.53h.9v.9h-.9zM98.85 108.27h.9v.9h-.9zM62.68 120.76h.9v.9h-.9zM76.33 111.77h.9v.9h-.9zM99.52 108.25h.9v.9h-.9zM72.96 120.14h.9v.9h-.9zM96.89 125.36h.9v.9h-.9zM77.44 109.75h.9v.9h-.9zM94.44 121.05h.9v.9h-.9zM71.24 122.44h.9v.9h-.9zM94.79 123.17h.9v.9h-.9zM87.14 121.69h.9v.9h-.9zM71.33 119.47h.9v.9h-.9zM87.04 120.77h.9v.9h-.9zM97.86 106.64h.9v.9h-.9zM87.22 114.69h.9v.9h-.9zM91.69 121.5h.9v.9h-.9zM96.62 126.55h.9v.9h-.9zM83.24 119.59h.9v.9h-.9zM77 113.44h.9v.9h-.9zM90.28 120.31h.9v.9h-.9zM91.35 105.68h.9v.9h-.9zM94.15 118.34h.9v.9h-.9zM93.37 126.38h.9v.9h-.9zM70.68 111.04h.9v.9h-.9zM90.91 121.94h.9v.9h-.9zM84.89 110.62h.9v.9h-.9zM76.42 105.3h.9v.9h-.9zM91.9 122.07h.9v.9h-.9zM70.01 119.12h.9v.9h-.9zM77.23 118.66h.9v.9h-.9zM79.05 117.77h.9v.9h-.9zM95.65 125.57h.9v.9h-.9zM99.46 110.09h.9v.9h-.9zM98.33 116.61h.9v.9h-.9zM81.78 108.22h.9v.9h-.9zM81.28 116.03h.9v.9h-.9zM85.8 111.46h.9v.9h-.9zM94.25 120.62h.9v.9h-.9zM73 113.39h.9v.9h-.9zM69.32 119.93h.9v.9h-.9zM70.71 125.47h.9v.9h-.9zM91.56 105.32h.9v.9h-.9zM72.89 111.9h.9v.9h-.9zM86.92 107.03h.9v.9h-.9zM86.4 120.85h.9v.9h-.9zM71.91 111.56h.9v.9h-.9zM76.59 109.63h.9v.9h-.9zM68.46 109.57h.9v.9h-.9zM86.38 123.33h.9v.9h-.9zM83.57 107.38h.9v.9h-.9zM86.92 114.61h.9v.9h-.9zM90.46 112.81h.9v.9h-.9zM63.33 123.01h.9v.9h-.9zM72.08 111.18h.9v.9h-.9zM70.36 124.77h.9v.9h-.9zM97.95 124.82h.9v.9h-.9zM62.56 127.69h.9v.9h-.9zM73.82 123.91h.9v.9h-.9zM84.11 115.86h.9v.9h-.9zM66.74 125.85h.9v.9h-.9zM74.08 111.54h.9v.9h-.9zM88.8 107.56h.9v.9h-.9zM93.14 127.53h.9v.9h-.9zM71.16 107.6h.9v.9h-.9zM74.6 105.97h.9v.9h-.9zM71.47 125.61h.9v.9h-.9zM97.33 107.11h.9v.9h-.9zM62.93 120.67h.9v.9h-.9zM82.53 125h.9v.9h-.9zM91.65 111.74h.9v.9h-.9zM94.11 122.15h.9v.9h-.9zM92.58 121.58h.9v.9h-.9zM82.86 118.71h.9v.9h-.9zM63.81 126.12h.9v.9h-.9zM98.6 112.28h.9v.9h-.9zM76.53 119.02h.9v.9h-.9zM80.61 108.21h.9v.9h-.9zM90.35 123.65h.9v.9h-.9zM68.35 119.75h.9v.9h-.9zM96.81 127.51h.9v.9h-.9zM75.54 122.07h.9v.9h-.9zM73.74 121.55h.9v.9h-.9zM80.71 111.52h.9v.9h-.9zM96.14 123.78h.9v.9h-.9zM93.73 110.44h.9v.9h-.9zM86.58 122.53h.9v.9h-.9zM84.17 116.04h.9v.9h-.9zM77.72 108.95h.9v.9h-.9zM96 117.93h.9v.9h-.9zM76.25 105.44h.9v.9h-.9zM68.02 108.11h.9v.9h-.9zM86.21 114.46h.9v.9h-.9zM76.48 109.03h.9v.9h-.9zM96.67 107.11h.9v.9h-.9zM92.86 120.81h.9v.9h-.9zM87.49 123.6h.9v.9h-.9zM95.01 119.61h.9v.9h-.9zM100.76 118.12h.9v.9h-.9zM104.56 110.4h.9v.9h-.9zM112.25 110.91h.9v.9h-.9zM107.8 126.09h.9v.9h-.9zM106.02 127.36h.9v.9h-.9zM109.86 116.15h.9v.9h-.9zM108.35 123.68h.9v.9h-.9zM112.28 124.64h.9v.9h-.9zM101.58 118.42h.9v.9h-.9zM109.11 116.6h.9v.9h-.9zM112.95 118.25h.9v.9h-.9zM102.43 123.16h.9v.9h-.9zM110.79 122.59h.9v.9h-.9zM100.62 117.35h.9v.9h-.9zM106.09 126.08h.9v.9h-.9zM100.12 118.26h.9v.9h-.9zM110.77 123.31h.9v.9h-.9zM108.89 126.25h.9v.9h-.9zM104.87 123.38h.9v.9h-.9zM111.46 111.35h.9v.9h-.9zM103.65 110.98h.9v.9h-.9zM103 123.27h.9v.9h-.9zM98.42 114.73h.9v.9h-.9zM114.62 115.93h.9v.9h-.9zM114.05 112.56h.9v.9h-.9zM105.9 121.53h.9v.9h-.9zM115.82 117.98h.9v.9h-.9zM110.33 126.51h.9v.9h-.9zM112.23 122.5h.9v.9h-.9zM114.76 118.98h.9v.9h-.9zM108.05 116.02h.9v.9h-.9zM108.29 121.74h.9v.9h-.9zM106.53 123.76h.9v.9h-.9zM116.52 119.32h.9v.9h-.9zM105.16 111.6h.9v.9h-.9zM106.05 123.83h.9v.9h-.9zM102.11 122.29h.9v.9h-.9zM112.89 110.41h.9v.9h-.9zM107.85 110.61h.9v.9h-.9zM102.58 110.15h.9v.9h-.9zM101.1 111.98h.9v.9h-.9zM107.11 110.61h.9v.9h-.9zM98.73 110.11h.9v.9h-.9zM115.81 116.34h.9v.9h-.9zM106.8 124.49h.9v.9h-.9zM110.7 111.19h.9v.9h-.9zM103.79 121.79h.9v.9h-.9zM113.94 123.86h.9v.9h-.9zM101.88 116h.9v.9h-.9zM114.4 116.21h.9v.9h-.9zM105.25 110.75h.9v.9h-.9zM114.65 117.24h.9v.9h-.9zM108.73 126.07h.9v.9h-.9zM113.6 111.25h.9v.9h-.9zM106.99 111.31h.9v.9h-.9zM114.73 119.55h.9v.9h-.9zM104.47 121.62h.9v.9h-.9zM112.02 124.19h.9v.9h-.9zM99.8 116.33h.9v.9h-.9zM105.36 122.98h.9v.9h-.9zM112.78 118.04h.9v.9h-.9zM107.26 124.18h.9v.9h-.9zM104.07 123.67h.9v.9h-.9zM112.75 117.71h.9v.9h-.9zM107.56 124.76h.9v.9h-.9zM109.29 122.73h.9v.9h-.9zM112.44 122.16h.9v.9h-.9zM112.7 122.22h.9v.9h-.9zM110.4 111.69h.9v.9h-.9zM98.85 115.21h.9v.9h-.9zM108.45 117.26h.9v.9h-.9zM113.21 123.24h.9v.9h-.9zM111.43 122.44h.9v.9h-.9zM108.61 122.64h.9v.9h-.9zM110.63 128.14h.9v.9h-.9zM114.81 125.76h.9v.9h-.9zM96.17 104.84h.9v.9h-.9zM113.84 122.53h.9v.9h-.9zM98.64 110.58h.9v.9h-.9zM100.04 118.95h.9v.9h-.9zM93.75 111.55h.9v.9h-.9zM99.43 117.19h.9v.9h-.9zM100.03 116.98h.9v.9h-.9zM95.12 121.09h.9v.9h-.9zM117.37 117.87h.9v.9h-.9zM113.57 110.24h.9v.9h-.9zM102.74 110.27h.9v.9h-.9zM100.54 113.03h.9v.9h-.9zM104.83 120.67h.9v.9h-.9zM100.26 117.68h.9v.9h-.9zM116.71 119.02h.9v.9h-.9zM98.9 116.43h.9v.9h-.9zM93.92 120.87h.9v.9h-.9zM108.19 117.69h.9v.9h-.9zM100.46 116.58h.9v.9h-.9zM104.44 110.36h.9v.9h-.9zM111.67 126.58h.9v.9h-.9zM115.65 126.45h.9v.9h-.9zM114.63 113.2h.9v.9h-.9zM110.13 122.31h.9v.9h-.9zM103.05 111.64h.9v.9h-.9zM105.22 120.86h.9v.9h-.9zM113.07 125.68h.9v.9h-.9zM104.76 119.77h.9v.9h-.9zM111.84 122.29h.9v.9h-.9zM109.75 123.1h.9v.9h-.9zM110.75 126.35h.9v.9h-.9zM116.45 119.69h.9v.9h-.9zM101.6 118.02h.9v.9h-.9zM108.31 126.98h.9v.9h-.9zM92.35 95.53h.9v.9h-.9zM86.91 103.07h.9v.9h-.9zM88.37 106.3h.9v.9h-.9zM93.51 95.12h.9v.9h-.9zM87.81 102.69h.9v.9h-.9zM91.54 103.81h.9v.9h-.9zM96.95 103.91h.9v.9h-.9zM82.84 102.04h.9v.9h-.9zM84.81 90.32h.9v.9h-.9zM92.12 120.44h.9v.9h-.9zM82.19 105.83h.9v.9h-.9zM76.42 105.11h.9v.9h-.9zM92.4 111.38h.9v.9h-.9zM91.44 119.72h.9v.9h-.9zM97.96 126.97h.9v.9h-.9zM91.29 119.91h.9v.9h-.9zM101.44 113.13h.9v.9h-.9zM71.81 114h.9v.9h-.9zM113.55 119.31h.9v.9h-.9zM116.37 119.54h.9v.9h-.9zM95.13 123.33h.9v.9h-.9zM66.87 102.56h.9v.9h-.9zM70.88 122.16h.9v.9h-.9zM95.37 122.91h.9v.9h-.9zM51.18 121.28h.9v.9h-.9zM111.5 127.96h.9v.9h-.9zM97.71 105.47h.9v.9h-.9zM78.69 118.94h.9v.9h-.9zM83.71 101.95h.9v.9h-.9zM66.52 102.31h.9v.9h-.9zM85.48 116.08h.9v.9h-.9zM114.73 127.63h.9v.9h-.9zM82.46 125.15h.9v.9h-.9zM94.82 124.2h.9v.9h-.9zM82.91 118.21h.9v.9h-.9zM71.18 120.43h.9v.9h-.9zM85.3 110.81h.9v.9h-.9zM66.29 102.84h.9v.9h-.9zM76.87 118.98h.9v.9h-.9zM83.6 117.22h.9v.9h-.9zM86.05 106.88h.9v.9h-.9zM111.05 128.99h.9v.9h-.9zM98.06 109.24h.9v.9h-.9zM83.83 102.99h.9v.9h-.9zM114.69 112.47h.9v.9h-.9z" fill="#a9b1d3"/>
<path d="M90.83 83.53h.9v.9h-.9zM92.44 77.31h.9v.9h-.9zM93.92 77.87h.9v.9h-.9zM88.49 78.69h.9v.9h-.9zM89.31 81.13h.9v.9h-.9zM93.29 78.82h.9v.9h-.9zM88.31 79h.9v.9h-.9zM89.22 79.46h.9v.9h-.9zM93.94 77.85h.9v.9h-.9zM90.65 82.95h.9v.9h-.9zM93.55 77.28h.9v.9h-.9zM88.6 79.94h.9v.9h-.9zM91.62 82h.9v.9h-.9zM93.9 76.86h.9v.9h-.9zM92.35 76.83h.9v.9h-.9zM92.29 76.86h.9v.9h-.9zM92.51 77.14h.9v.9h-.9zM89.22 81.47h.9v.9h-.9zM93.1 79.49h.9v.9h-.9zM88.79 78.75h.9v.9h-.9zM92.64 78.03h.9v.9h-.9zM93.74 78.23h.9v.9h-.9zM89.8 80.17h.9v.9h-.9zM92.69 77.56h.9v.9h-.9zM92.15 79.33h.9v.9h-.9zM89.63 78.88h.9v.9h-.9zM89.34 79.15h.9v.9h-.9zM89.91 80.35h.9v.9h-.9zM89.09 80.18h.9v.9h-.9zM89.19 80.82h.9v.9h-.9zM92.04 78.65h.9v.9h-.9zM93.38 76.57h.9v.9h-.9zM88.69 78.7h.9v.9h-.9zM91.14 83.54h.9v.9h-.9zM88.69 78.42h.9v.9h-.9zM93.37 78.09h.9v.9h-.9zM93.22 76.71h.9v.9h-.9zM93.46 79.52h.9v.9h-.9zM92.64 78.27h.9v.9h-.9zM92.33 77.28h.9v.9h-.9zM93.18 76.23h.9v.9h-.9zM92.48 79.12h.9v.9h-.9zM88.69 79.07h.9v.9h-.9zM88.96 81.63h.9v.9h-.9zM89.14 78.23h.9v.9h-.9zM88.87 79.46h.9v.9h-.9zM92.23 79.28h.9v.9h-.9zM93.51 76.72h.9v.9h-.9zM88.65 81.42h.9v.9h-.9zM88.7 81.11h.9v.9h-.9zM91.31 82.13h.9v.9h-.9zM93.5 79.13h.9v.9h-.9zM93.25 78.02h.9v.9h-.9zM89.08 79.82h.9v.9h-.9zM88.61 79.33h.9v.9h-.9zM89.65 81.25h.9v.9h-.9zM91.35 83.23h.9v.9h-.9zM93.98 76.1h.9v.9h-.9zM93.65 76.77h.9v.9h-.9zM93.41 77.92h.9v.9h-.9zM93.78 78.98h.9v.9h-.9zM93.36 79.69h.9v.9h-.9zM93.9 78.4h.9v.9h-.9zM92.48 79.49h.9v.9h-.9zM93.65 77.94h.9v.9h-.9zM91.61 82.03h.9v.9h-.9zM92.81 77.85h.9v.9h-.9zM91.55 82.48h.9v.9h-.9zM91.25 83.6h.9v.9h-.9zM90.98 83.57h.9v.9h-.9zM91.55 83.09h.9v.9h-.9zM93.52 79.49h.9v.9h-.9zM93.65 76.15h.9v.9h-.9zM89.7 79.12h.9v.9h-.9zM92.39 78.87h.9v.9h-.9zM89.93 79.58h.9v.9h-.9zM92.84 77.69h.9v.9h-.9zM89.91 80.52h.9v.9h-.9zM92.06 78.35h.9v.9h-.9zM89.08 79.9h.9v.9h-.9zM92.01 77.18h.9v.9h-.9zM92.89 77.71h.9v.9h-.9zM92.4 78.13h.9v.9h-.9zM91.51 83.57h.9v.9h-.9zM93.03 78.61h.9v.9h-.9zM92.35 79h.9v.9h-.9zM92.71 78.03h.9v.9h-.9zM90.66 83.53h.9v.9h-.9zM88.02 81.48h.9v.9h-.9zM90.23 83.08h.9v.9h-.9zM92.05 77.93h.9v.9h-.9zM88.8 81.46h.9v.9h-.9zM89.86 80.43h.9v.9h-.9zM89.84 79.26h.9v.9h-.9zM88.63 81.57h.9v.9h-.9zM93.82 78.28h.9v.9h-.9zM89.41 78.84h.9v.9h-.9zM93.77 77.26h.9v.9h-.9zM90.99 83.45h.9v.9h-.9zM88.84 79.3h.9v.9h-.9zM91.12 82.05h.9v.9h-.9zM91.67 83.04h.9v.9h-.9zM90.46 82.72h.9v.9h-.9zM88.06 79.89h.9v.9h-.9zM88.63 80.03h.9v.9h-.9zM92.23 79.25h.9v.9h-.9zM92.02 75.88h.9v.9h-.9zM89.07 79.62h.9v.9h-.9zM93.29 77.28h.9v.9h-.9zM92.81 76.57h.9v.9h-.9zM92.09 79.38h.9v.9h-.9zM89.19 78.81h.9v.9h-.9zM92.82 76.12h.9v.9h-.9zM93.91 79.22h.9v.9h-.9zM88.69 78.07h.9v.9h-.9zM91.77 83.41h.9v.9h-.9zM93.23 79.26h.9v.9h-.9zM92.7 78.66h.9v.9h-.9zM92.35 75.78h.9v.9h-.9zM92.09 76.92h.9v.9h-.9zM93.25 78.86h.9v.9h-.9zM92.95 77.68h.9v.9h-.9zM92.19 79.04h.9v.9h-.9zM92.95 78.97h.9v.9h-.9zM89.81 79.59h.9v.9h-.9zM89.34 77.89h.9v.9h-.9zM90.97 81.82h.9v.9h-.9zM92.48 79.4h.9v.9h-.9zM89.65 81.39h.9v.9h-.9zM90.49 82.75h.9v.9h-.9zM93.25 76.92h.9v.9h-.9zM93.99 76.44h.9v.9h-.9zM89.83 79.83h.9v.9h-.9zM58.99 118.75h.9v.9h-.9zM58.46 117.63h.9v.9h-.9zM64.48 114.98h.9v.9h-.9zM59.61 118.61h.9v.9h-.9zM64.08 114.22h.9v.9h-.9zM59.21 118.75h.9v.9h-.9zM65.69 114.37h.9v.9h-.9zM64.26 114.76h.9v.9h-.9zM65.34 114.6h.9v.9h-.9zM65.66 115.28h.9v.9h-.9zM58.89 118.58h.9v.9h-.9zM58.56 118.58h.9v.9h-.9zM64.97 115.28h.9v.9h-.9zM65.04 115.6h.9v.9h-.9zM58.62 118.08h.9v.9h-.9zM65.09 114.27h.9v.9h-.9zM58.22 116.96h.9v.9h-.9zM59.63 119.52h.9v.9h-.9zM65.73 114.44h.9v.9h-.9zM65.9 115.37h.9v.9h-.9zM58.77 117.56h.9v.9h-.9zM59.25 119.23h.9v.9h-.9zM59.27 119.62h.9v.9h-.9zM58.31 116.72h.9v.9h-.9zM58.86 117.43h.9v.9h-.9zM59.56 117.85h.9v.9h-.9zM59.1 118.63h.9v.9h-.9zM65.13 114.74h.9v.9h-.9zM64.48 114.99h.9v.9h-.9zM59.56 118.18h.9v.9h-.9zM58.3 116.48h.9v.9h-.9zM65.99 115.05h.9v.9h-.9zM64.17 114.73h.9v.9h-.9zM58.39 117.64h.9v.9h-.9zM58.87 119.63h.9v.9h-.9zM64.17 115.5h.9v.9h-.9zM59.84 116.77h.9v.9h-.9zM58.35 118.23h.9v.9h-.9zM58.46 117.18h.9v.9h-.9zM59.62 117.71h.9v.9h-.9zM58.85 117.73h.9v.9h-.9zM58.26 119.39h.9v.9h-.9zM59.99 116.47h.9v.9h-.9zM58.38 116.57h.9v.9h-.9zM59.44 117.4h.9v.9h-.9zM59.4 116.52h.9v.9h-.9zM58.99 118.08h.9v.9h-.9zM58.48 117.35h.9v.9h-.9zM59.13 116.51h.9v.9h-.9zM58.64 117.85h.9v.9h-.9zM59.74 117.43h.9v.9h-.9zM58.22 117.5h.9v.9h-.9zM64.53 114.62h.9v.9h-.9zM65.27 114.72h.9v.9h-.9zM65.21 114.41h.9v.9h-.9zM59.01 119.44h.9v.9h-.9zM59.47 117.22h.9v.9h-.9zM58.51 116.91h.9v.9h-.9zM65.81 113.79h.9v.9h-.9zM64.46 114.05h.9v.9h-.9zM65.84 115.49h.9v.9h-.9zM58.27 117.58h.9v.9h-.9zM59.91 119.04h.9v.9h-.9zM65.82 114.09h.9v.9h-.9zM58.58 116.2h.9v.9h-.9zM65.7 113.99h.9v.9h-.9zM58.66 118.59h.9v.9h-.9zM64.76 115.13h.9v.9h-.9zM65.47 114.48h.9v.9h-.9zM65.96 114.94h.9v.9h-.9zM58.52 116.27h.9v.9h-.9zM59.84 117.19h.9v.9h-.9zM65.04 115.42h.9v.9h-.9zM65.65 113.82h.9v.9h-.9zM65.27 114.48h.9v.9h-.9zM59.87 116.54h.9v.9h-.9zM64.38 114.93h.9v.9h-.9z" fill="#c4b646"/>
<path d="M96.01 78.74h.9v.9h-.9zM85.59 83.48h.9v.9h-.9zM84.7 83.32h.9v.9h-.9zM95.51 74.36h.9v.9h-.9zM96.01 75.7h.9v.9h-.9zM98.11 77.6h.9v.9h-.9zM98.02 75.72h.9v.9h-.9zM97.64 71.82h.9v.9h-.9zM96 73.45h.9v.9h-.9zM95.53 81.92h.9v.9h-.9zM88.83 88.12h.9v.9h-.9zM94.82 74.1h.9v.9h-.9zM87.74 76.91h.9v.9h-.9zM96.22 79.02h.9v.9h-.9zM97.23 78.49h.9v.9h-.9zM98.79 72.94h.9v.9h-.9zM98.01 73.5h.9v.9h-.9zM89.01 74.42h.9v.9h-.9zM88.98 73.85h.9v.9h-.9zM95.53 83.43h.9v.9h-.9zM84.44 83.39h.9v.9h-.9zM85.9 82.89h.9v.9h-.9zM96.3 75.6h.9v.9h-.9zM94.26 82.88h.9v.9h-.9zM97.9 73.69h.9v.9h-.9zM89.96 75.26h.9v.9h-.9zM89.78 75.63h.9v.9h-.9zM87.81 76.5h.9v.9h-.9zM97.74 74.41h.9v.9h-.9zM97.98 75.48h.9v.9h-.9zM85.58 83.47h.9v.9h-.9zM94.59 74.7h.9v.9h-.9zM94.31 82.66h.9v.9h-.9zM96 73.81h.9v.9h-.9zM88.69 88.98h.9v.9h-.9zM87.99 75.95h.9v.9h-.9zM95.52 74.09h.9v.9h-.9zM85.18 82.89h.9v.9h-.9zM96.14 73.43h.9v.9h-.9zM88.86 75h.9v.9h-.9zM96.55 78.36h.9v.9h-.9zM87.13 75.73h.9v.9h-.9zM88.67 88.02h.9v.9h-.9zM94.86 74.39h.9v.9h-.9zM89.43 89.2h.9v.9h-.9zM95.12 82.68h.9v.9h-.9zM96.03 75.09h.9v.9h-.9zM96.72 73.33h.9v.9h-.9zM84.86 81.89h.9v.9h-.9zM99.89 75.9h.9v.9h-.9zM89.79 88.45h.9v.9h-.9zM96.03 78.84h.9v.9h-.9zM96.68 73.98h.9v.9h-.9zM94.79 73.86h.9v.9h-.9zM99.93 73.22h.9v.9h-.9zM95.06 82.83h.9v.9h-.9zM97.83 79.67h.9v.9h-.9zM85.04 82.34h.9v.9h-.9zM89.02 73.75h.9v.9h-.9zM97.21 73.66h.9v.9h-.9zM94.86 73.93h.9v.9h-.9zM99.57 71.75h.9v.9h-.9zM98.35 77.27h.9v.9h-.9zM96.9 73.69h.9v.9h-.9zM99.22 73.34h.9v.9h-.9zM97.22 74.26h.9v.9h-.9zM87.3 77.11h.9v.9h-.9zM94.77 75.02h.9v.9h-.9zM87.66 77.42h.9v.9h-.9zM89.25 87.81h.9v.9h-.9zM98.14 73.29h.9v.9h-.9zM94.86 74.45h.9v.9h-.9zM96.33 74.99h.9v.9h-.9zM96.9 77.77h.9v.9h-.9zM86.02 75.91h.9v.9h-.9zM98.83 75.7h.9v.9h-.9zM99.65 76.78h.9v.9h-.9zM94.06 83.66h.9v.9h-.9zM89.07 74.45h.9v.9h-.9zM86.75 75.98h.9v.9h-.9zM53.2 122.54h.9v.9h-.9zM68.8 115.79h.9v.9h-.9zM53.36 122.6h.9v.9h-.9zM67.53 120.96h.9v.9h-.9zM60.93 120.47h.9v.9h-.9zM60.52 119.96h.9v.9h-.9zM54.59 117.31h.9v.9h-.9zM60.2 121.53h.9v.9h-.9zM53.14 116.98h.9v.9h-.9zM53.47 117.05h.9v.9h-.9zM68.56 116.12h.9v.9h-.9zM52.56 122h.9v.9h-.9zM70.14 115.71h.9v.9h-.9zM58.83 124.56h.9v.9h-.9zM67.35 120.88h.9v.9h-.9zM56.58 120.32h.9v.9h-.9zM68 111.39h.9v.9h-.9zM57.26 121.12h.9v.9h-.9zM64.41 111.72h.9v.9h-.9zM65.46 111.47h.9v.9h-.9zM58.37 120.92h.9v.9h-.9zM69.69 109.74h.9v.9h-.9zM53.4 116.45h.9v.9h-.9zM58.35 123.89h.9v.9h-.9zM55.21 113.65h.9v.9h-.9zM56.34 123.1h.9v.9h-.9zM56.76 113.37h.9v.9h-.9zM67.9 119.85h.9v.9h-.9zM65.42 111.7h.9v.9h-.9zM57.82 121.76h.9v.9h-.9zM60.3 120.15h.9v.9h-.9zM53.9 121.67h.9v.9h-.9zM57.22 122.38h.9v.9h-.9zM56.72 122.37h.9v.9h-.9zM55.93 116.34h.9v.9h-.9zM57.82 113.34h.9v.9h-.9zM67.04 120h.9v.9h-.9zM54.79 116.31h.9v.9h-.9zM53.5 122.16h.9v.9h-.9zM60.54 119.75h.9v.9h-.9zM59.91 120.57h.9v.9h-.9zM62.39 111.38h.9v.9h-.9zM57.58 113.36h.9v.9h-.9zM56.11 121.37h.9v.9h-.9zM60.57 121.15h.9v.9h-.9zM63.29 107.52h.9v.9h-.9zM54.67 116.85h.9v.9h-.9zM70.15 116.47h.9v.9h-.9zM61.72 120.5h.9v.9h-.9zM56.78 122.08h.9v.9h-.9zM70.6 116.25h.9v.9h-.9zM63.4 111.55h.9v.9h-.9zM52.92 121.32h.9v.9h-.9zM55.11 115.86h.9v.9h-.9zM59.9 120.42h.9v.9h-.9zM53.83 122.79h.9v.9h-.9zM69.45 110.76h.9v.9h-.9zM58.63 124.55h.9v.9h-.9zM65.64 110.73h.9v.9h-.9zM65.08 107.74h.9v.9h-.9zM57.28 120.31h.9v.9h-.9zM58.49 125.02h.9v.9h-.9zM65.81 110.15h.9v.9h-.9zM53.9 115.82h.9v.9h-.9zM67.53 119.83h.9v.9h-.9zM64.78 112.91h.9v.9h-.9zM57.35 120.25h.9v.9h-.9zM52.6 116.8h.9v.9h-.9zM68.67 117.34h.9v.9h-.9zM52.42 120.32h.9v.9h-.9zM58.66 121.01h.9v.9h-.9zM58.12 120.17h.9v.9h-.9zM70.98 115.78h.9v.9h-.9zM56.18 120.81h.9v.9h-.9zM68.87 116.81h.9v.9h-.9zM53.21 122.06h.9v.9h-.9zM60.99 119.71h.9v.9h-.9zM53.38 117.65h.9v.9h-.9zM56.81 112.28h.9v.9h-.9zM53.18 119.93h.9v.9h-.9zM53.9 122.87h.9v.9h-.9zM66.86 120.56h.9v.9h-.9zM77.15 115.46h.9v.9h-.9zM56.52 121.82h.9v.9h-.9zM56.11 122.8h.9v.9h-.9zM54.67 112.65h.9v.9h-.9zM58.84 120.97h.9v.9h-.9zM63.87 106.06h.9v.9h-.9zM55.3 113.17h.9v.9h-.9zM62.77 106.26h.9v.9h-.9zM52.32 120.64h.9v.9h-.9zM55.51 117.17h.9v.9h-.9zM54.24 112.38h.9v.9h-.9zM79.44 109.7h.9v.9h-.9zM64.59 109.9h.9v.9h-.9zM68.54 117.6h.9v.9h-.9zM70.35 115.81h.9v.9h-.9zM56.71 112.59h.9v.9h-.9zM77.24 114.79h.9v.9h-.9zM64.62 108.4h.9v.9h-.9zM62.92 110.53h.9v.9h-.9zM52.67 122.55h.9v.9h-.9zM79.53 109.32h.9v.9h-.9zM68.03 110.63h.9v.9h-.9zM52.79 121.1h.9v.9h-.9zM58.89 121.24h.9v.9h-.9zM55.64 117.38h.9v.9h-.9zM72.25 117.66h.9v.9h-.9zM69.45 116.02h.9v.9h-.9zM62.14 110.34h.9v.9h-.9zM64.02 112.23h.9v.9h-.9zM72.43 117.54h.9v.9h-.9zM55.13 112.44h.9v.9h-.9zM57.55 111.81h.9v.9h-.9zM65.85 113.65h.9v.9h-.9zM53.35 122.39h.9v.9h-.9zM57.52 112.94h.9v.9h-.9zM64.23 112.93h.9v.9h-.9zM56.58 112.95h.9v.9h-.9zM62.02 110.41h.9v.9h-.9zM63.23 110.51h.9v.9h-.9zM64 107.06h.9v.9h-.9zM69.99 117.09h.9v.9h-.9zM65.64 112.86h.9v.9h-.9zM54.71 113.6h.9v.9h-.9zM58.88 123.72h.9v.9h-.9zM64.56 108.36h.9v.9h-.9zM75.35 127.17h.9v.9h-.9zM64.27 108.93h.9v.9h-.9zM98.47 120.46h.9v.9h-.9zM68.26 116.09h.9v.9h-.9zM76.98 114.17h.9v.9h-.9zM63 106.23h.9v.9h-.9zM76.58 115.51h.9v.9h-.9zM66.2 120.65h.9v.9h-.9zM97.67 114.38h.9v.9h-.9zM62.92 106.09h.9v.9h-.9zM68.06 110.76h.9v.9h-.9zM64.51 108.26h.9v.9h-.9zM72.47 117.36h.9v.9h-.9zM74.07 127.33h.9v.9h-.9zM77.87 114.29h.9v.9h-.9zM79.15 108.89h.9v.9h-.9zM96.25 114.68h.9v.9h-.9zM75.12 125.92h.9v.9h-.9zM65.86 111.41h.9v.9h-.9zM75.91 126.89h.9v.9h-.9zM72.72 116.31h.9v.9h-.9zM99.17 120.47h.9v.9h-.9zM79.48 109.17h.9v.9h-.9zM66.25 120.48h.9v.9h-.9zM72.99 116.48h.9v.9h-.9zM71.15 115.92h.9v.9h-.9zM75.56 126.62h.9v.9h-.9zM78.02 108.79h.9v.9h-.9zM70.57 116.88h.9v.9h-.9zM74.29 126.8h.9v.9h-.9zM67.02 121.47h.9v.9h-.9zM76.51 113.84h.9v.9h-.9zM73.26 116.81h.9v.9h-.9zM99.45 121.3h.9v.9h-.9zM68.56 110.75h.9v.9h-.9zM65.66 107.98h.9v.9h-.9zM98.15 121.28h.9v.9h-.9zM75.94 126.23h.9v.9h-.9zM65.42 112.71h.9v.9h-.9zM102.15 119.88h.9v.9h-.9zM110.97 119.61h.9v.9h-.9zM114.21 114.72h.9v.9h-.9zM111.73 112.31h.9v.9h-.9zM108.17 114.23h.9v.9h-.9zM110.23 112.44h.9v.9h-.9zM102.06 120.91h.9v.9h-.9zM110.89 119.48h.9v.9h-.9zM107.5 122.48h.9v.9h-.9zM110.52 118.89h.9v.9h-.9zM105.01 113.63h.9v.9h-.9zM107.18 120.22h.9v.9h-.9zM106.87 122.43h.9v.9h-.9zM102.11 119.44h.9v.9h-.9zM112.9 120.56h.9v.9h-.9zM109.03 114.97h.9v.9h-.9zM107.95 111.98h.9v.9h-.9zM102.1 118.31h.9v.9h-.9zM113.78 112.73h.9v.9h-.9zM109.16 115.35h.9v.9h-.9zM107.24 115.03h.9v.9h-.9zM108.06 112.79h.9v.9h-.9zM104.38 114.25h.9v.9h-.9zM113.18 117.49h.9v.9h-.9zM113.07 119.99h.9v.9h-.9zM110.3 120.66h.9v.9h-.9zM110.65 121.39h.9v.9h-.9zM106.73 115.34h.9v.9h-.9zM107.93 121.99h.9v.9h-.9zM106.54 121.37h.9v.9h-.9zM111.81 112.75h.9v.9h-.9zM110.91 117.73h.9v.9h-.9zM112.61 113.62h.9v.9h-.9zM106.38 114.12h.9v.9h-.9zM107.58 121.78h.9v.9h-.9zM105.01 114.57h.9v.9h-.9zM104.53 115.65h.9v.9h-.9zM99.22 120.34h.9v.9h-.9zM105.96 113.92h.9v.9h-.9zM107.12 122.16h.9v.9h-.9zM104.54 113.96h.9v.9h-.9zM112.12 115.97h.9v.9h-.9zM111.15 120.15h.9v.9h-.9zM103.29 119.71h.9v.9h-.9zM108.01 113.96h.9v.9h-.9zM113.48 120.36h.9v.9h-.9zM110.56 118.09h.9v.9h-.9zM112.13 116.6h.9v.9h-.9zM115.84 115.52h.9v.9h-.9zM107.91 113.48h.9v.9h-.9zM102.48 118.32h.9v.9h-.9zM111.61 118.29h.9v.9h-.9zM115.71 115.11h.9v.9h-.9zM113.55 120.89h.9v.9h-.9zM106.58 115.12h.9v.9h-.9zM107.2 120.73h.9v.9h-.9zM110.77 120.71h.9v.9h-.9zM104.57 118.35h.9v.9h-.9zM107.41 113.69h.9v.9h-.9zM102.65 119.25h.9v.9h-.9zM111.04 117.8h.9v.9h-.9zM104.11 119.57h.9v.9h-.9zM109.55 113.65h.9v.9h-.9zM113.18 119.85h.9v.9h-.9zM107.29 112.21h.9v.9h-.9zM115.1 115.42h.9v.9h-.9zM113.2 116.54h.9v.9h-.9zM102.46 118.64h.9v.9h-.9zM111.44 121.16h.9v.9h-.9zM104.63 117.89h.9v.9h-.9zM110.58 120.51h.9v.9h-.9zM96.64 113.71h.9v.9h-.9zM113.91 120.9h.9v.9h-.9zM113.81 113.68h.9v.9h-.9zM115 114.6h.9v.9h-.9zM112.5 120.5h.9v.9h-.9zM112.86 117.54h.9v.9h-.9zM107.94 114.46h.9v.9h-.9zM107.6 123.11h.9v.9h-.9zM102.92 117.81h.9v.9h-.9zM110.76 119.04h.9v.9h-.9zM113.08 119.81h.9v.9h-.9zM108.67 113.44h.9v.9h-.9zM109.06 113.2h.9v.9h-.9zM103.86 120.35h.9v.9h-.9zM106.92 120.88h.9v.9h-.9zM112.9 116.62h.9v.9h-.9zM105.47 115.18h.9v.9h-.9zM103.69 117.75h.9v.9h-.9zM107.19 120.51h.9v.9h-.9zM106.25 114.75h.9v.9h-.9zM107.22 121.03h.9v.9h-.9zM106.86 114.46h.9v.9h-.9zM104.73 113.19h.9v.9h-.9zM103.7 120.44h.9v.9h-.9zM111.8 120.75h.9v.9h-.9zM107.62 113.59h.9v.9h-.9zM111.4 112.05h.9v.9h-.9zM105.23 112.26h.9v.9h-.9zM110.13 112.7h.9v.9h-.9zM104.88 113.04h.9v.9h-.9zM105.05 119.04h.9v.9h-.9zM105.84 113.49h.9v.9h-.9zM106.51 121.23h.9v.9h-.9zM107.38 119.98h.9v.9h-.9zM104.18 113.59h.9v.9h-.9zM106.16 122.44h.9v.9h-.9zM110.75 112.62h.9v.9h-.9zM102.81 119.77h.9v.9h-.9zM104.01 118.77h.9v.9h-.9zM112.23 113.17h.9v.9h-.9zM99.26 120.31h.9v.9h-.9zM105.47 113.99h.9v.9h-.9zM110.49 120.05h.9v.9h-.9zM97.7 114.2h.9v.9h-.9zM103.89 120.01h.9v.9h-.9zM113.39 117.17h.9v.9h-.9zM105.96 112.39h.9v.9h-.9zM112.64 116.08h.9v.9h-.9zM106.08 114.11h.9v.9h-.9zM105.78 114.38h.9v.9h-.9zM105.56 113.45h.9v.9h-.9zM107.88 122.72h.9v.9h-.9zM97.56 113.84h.9v.9h-.9zM115.41 114.62h.9v.9h-.9zM113.02 113.41h.9v.9h-.9zM110.21 113.67h.9v.9h-.9zM104.83 114.67h.9v.9h-.9zM104.71 119.69h.9v.9h-.9zM106.77 122.24h.9v.9h-.9zM106.45 114.95h.9v.9h-.9zM109.15 115.58h.9v.9h-.9zM111.06 118.12h.9v.9h-.9zM96.49 114.25h.9v.9h-.9zM108 112.23h.9v.9h-.9zM103.13 120.82h.9v.9h-.9zM57.55 122.87h.9v.9h-.9zM110.99 113.51h.9v.9h-.9zM108.46 115.67h.9v.9h-.9zM64.63 109h.9v.9h-.9zM56.79 123.63h.9v.9h-.9zM108.35 112.36h.9v.9h-.9zM69.6 111.68h.9v.9h-.9zM59.75 124.82h.9v.9h-.9zM106.99 112.77h.9v.9h-.9zM113.1 112.98h.9v.9h-.9zM99.12 120.67h.9v.9h-.9zM109.79 113.13h.9v.9h-.9zM79.91 109.45h.9v.9h-.9zM57.71 112.05h.9v.9h-.9z" fill="#909bc6"/>
<path d="M86.3 87.9h.9v.9h-.9zM87.73 88.25h.9v.9h-.9zM81.91 84.26h.9v.9h-.9zM102.84 75.91h.9v.9h-.9zM85.48 78.26h.9v.9h-.9zM89.3 73.59h.9v.9h-.9zM107.01 69.06h.9v.9h-.9zM82.31 81.12h.9v.9h-.9zM101.18 68.79h.9v.9h-.9zM99.05 68.79h.9v.9h-.9zM80.85 90.33h.9v.9h-.9zM94.5 85.61h.9v.9h-.9zM80.5 90.08h.9v.9h-.9zM92.99 68.91h.9v.9h-.9zM80.01 85.48h.9v.9h-.9zM87.41 75.6h.9v.9h-.9zM97.98 69.57h.9v.9h-.9zM103.69 71.18h.9v.9h-.9zM87.86 75.36h.9v.9h-.9zM79.09 82.84h.9v.9h-.9zM81.82 78.3h.9v.9h-.9zM103.96 60.83h.9v.9h-.9zM94.83 65.15h.9v.9h-.9zM100.56 77.51h.9v.9h-.9zM101.62 79.56h.9v.9h-.9zM85.94 95.05h.9v.9h-.9zM77.85 95.88h.9v.9h-.9zM80.57 76.45h.9v.9h-.9zM110.54 65.34h.9v.9h-.9zM99.63 86.15h.9v.9h-.9zM96.07 84.13h.9v.9h-.9zM100.73 77.11h.9v.9h-.9zM76 101.4h.9v.9h-.9zM104.7 59.59h.9v.9h-.9zM80.86 87.17h.9v.9h-.9zM105.7 72.06h.9v.9h-.9zM74.82 94.45h.9v.9h-.9zM114.96 67.84h.9v.9h-.9zM78.86 80.82h.9v.9h-.9zM103.91 69.56h.9v.9h-.9zM98.26 69.08h.9v.9h-.9zM105.38 71.24h.9v.9h-.9zM100.62 64.91h.9v.9h-.9zM100.84 65.55h.9v.9h-.9zM95.05 84.2h.9v.9h-.9zM86.15 73.33h.9v.9h-.9zM84.89 78.11h.9v.9h-.9zM83.18 93.82h.9v.9h-.9zM101.41 82.06h.9v.9h-.9zM82.93 89.7h.9v.9h-.9zM105.87 66.32h.9v.9h-.9zM103.9 71.56h.9v.9h-.9zM100.01 79.76h.9v.9h-.9zM111.36 58.38h.9v.9h-.9zM90.17 86.78h.9v.9h-.9zM96.48 62.52h.9v.9h-.9zM105.45 64.55h.9v.9h-.9zM96.31 67.58h.9v.9h-.9zM99.36 79.99h.9v.9h-.9zM100.67 86.08h.9v.9h-.9zM105.19 67.56h.9v.9h-.9zM103.51 78.08h.9v.9h-.9zM98.04 83.86h.9v.9h-.9zM95.87 67.99h.9v.9h-.9zM98.93 84.55h.9v.9h-.9zM91.44 86.71h.9v.9h-.9zM98.19 83.48h.9v.9h-.9zM100.23 66.3h.9v.9h-.9zM101.38 81.48h.9v.9h-.9zM97.32 68.44h.9v.9h-.9zM98.58 81.35h.9v.9h-.9zM75.8 99.35h.9v.9h-.9zM106.38 73.43h.9v.9h-.9zM94.07 69.4h.9v.9h-.9zM106.5 59.05h.9v.9h-.9zM99.72 65.85h.9v.9h-.9zM97.71 64.97h.9v.9h-.9zM101.71 73.48h.9v.9h-.9zM95 95.59h.9v.9h-.9zM93.05 69.83h.9v.9h-.9zM98.42 83.43h.9v.9h-.9zM77.06 85.93h.9v.9h-.9zM88.6 93.49h.9v.9h-.9zM83.68 74.51h.9v.9h-.9zM87.51 73.45h.9v.9h-.9zM106.79 70.46h.9v.9h-.9zM88.22 91.07h.9v.9h-.9zM81.15 80.84h.9v.9h-.9zM77.97 87.02h.9v.9h-.9zM57.61 125.84h.9v.9h-.9zM43.21 121.65h.9v.9h-.9zM60.19 111.08h.9v.9h-.9zM53.53 115.6h.9v.9h-.9zM55 125.62h.9v.9h-.9zM64.65 107.38h.9v.9h-.9zM59.77 125.89h.9v.9h-.9zM59.85 113.45h.9v.9h-.9zM55.41 110.93h.9v.9h-.9zM67.38 124.09h.9v.9h-.9zM57.75 128.59h.9v.9h-.9zM58.52 127.75h.9v.9h-.9zM72.51 117.75h.9v.9h-.9zM68.57 117.79h.9v.9h-.9zM55.78 123.86h.9v.9h-.9zM47.96 118.09h.9v.9h-.9zM55.07 127.66h.9v.9h-.9zM49.78 114.89h.9v.9h-.9zM52.17 110.99h.9v.9h-.9zM63.47 125.51h.9v.9h-.9zM72.74 114.95h.9v.9h-.9zM47.46 122.69h.9v.9h-.9zM65.36 125.1h.9v.9h-.9zM68.73 118.5h.9v.9h-.9zM46.58 126.34h.9v.9h-.9zM64.63 105.62h.9v.9h-.9zM71.9 95.01h.9v.9h-.9zM60.69 129.76h.9v.9h-.9zM78.9 114.24h.9v.9h-.9zM52.83 131.49h.9v.9h-.9zM45.65 115.17h.9v.9h-.9zM49.74 113.91h.9v.9h-.9zM49.46 120.38h.9v.9h-.9zM85.17 102.87h.9v.9h-.9zM54.11 107.09h.9v.9h-.9zM74.38 105.53h.9v.9h-.9zM62.65 128h.9v.9h-.9zM48.26 118.02h.9v.9h-.9zM69.21 128.56h.9v.9h-.9zM46.09 127.4h.9v.9h-.9zM59.29 112.23h.9v.9h-.9zM69 104.75h.9v.9h-.9zM50.88 126.02h.9v.9h-.9zM69.92 100.71h.9v.9h-.9zM44.22 119.3h.9v.9h-.9zM74.5 112.02h.9v.9h-.9zM72.02 104.84h.9v.9h-.9zM70.96 101.6h.9v.9h-.9zM46.46 122.73h.9v.9h-.9zM45.38 121.98h.9v.9h-.9zM61.21 104.53h.9v.9h-.9zM47.85 105.22h.9v.9h-.9zM46.32 115.98h.9v.9h-.9zM49.65 112.93h.9v.9h-.9zM51.79 114.01h.9v.9h-.9zM75.39 128.01h.9v.9h-.9zM83.63 122.31h.9v.9h-.9zM62.28 108.95h.9v.9h-.9zM81.92 103.48h.9v.9h-.9zM72.16 108.74h.9v.9h-.9zM48.51 120.23h.9v.9h-.9zM61.1 104.06h.9v.9h-.9zM63.52 104.65h.9v.9h-.9zM52.44 107.53h.9v.9h-.9zM66.4 106.62h.9v.9h-.9zM66.09 95.86h.9v.9h-.9zM80.52 102.52h.9v.9h-.9zM53.86 111.37h.9v.9h-.9zM63.54 99.12h.9v.9h-.9zM72.32 115.51h.9v.9h-.9zM51.23 110.65h.9v.9h-.9zM70.47 104.26h.9v.9h-.9zM69.06 107.28h.9v.9h-.9zM44.26 117.34h.9v.9h-.9zM49.15 127.41h.9v.9h-.9zM52.08 111.91h.9v.9h-.9zM71.18 107.74h.9v.9h-.9zM72.49 105.3h.9v.9h-.9zM55.98 107.21h.9v.9h-.9zM44.69 118.14h.9v.9h-.9zM64.61 107.5h.9v.9h-.9zM46 117.38h.9v.9h-.9zM53.38 108.82h.9v.9h-.9zM54.87 110.66h.9v.9h-.9zM44.07 120.42h.9v.9h-.9zM47.37 109.38h.9v.9h-.9zM61.72 108.47h.9v.9h-.9zM75.54 105.18h.9v.9h-.9zM54.6 128.74h.9v.9h-.9zM68.99 104.81h.9v.9h-.9zM44.61 124.78h.9v.9h-.9zM89.94 103.36h.9v.9h-.9zM46.48 117.1h.9v.9h-.9zM62.65 125.42h.9v.9h-.9zM80.8 120h.9v.9h-.9zM67.54 129.64h.9v.9h-.9zM58.72 109.43h.9v.9h-.9zM68.86 105.82h.9v.9h-.9zM69.81 123.81h.9v.9h-.9zM64.6 122.38h.9v.9h-.9zM48.72 124.33h.9v.9h-.9zM51.37 108.09h.9v.9h-.9zM74.44 119.87h.9v.9h-.9zM80.95 114.07h.9v.9h-.9zM59.2 107.82h.9v.9h-.9zM72.78 93.48h.9v.9h-.9zM86.37 104.51h.9v.9h-.9zM65.38 99.46h.9v.9h-.9zM50.1 109.57h.9v.9h-.9zM89.53 113.89h.9v.9h-.9zM52.31 112.66h.9v.9h-.9zM74.79 123.95h.9v.9h-.9zM70.55 126.16h.9v.9h-.9zM56.53 111.34h.9v.9h-.9zM78.93 112.32h.9v.9h-.9zM91.38 107.99h.9v.9h-.9zM80.63 122.16h.9v.9h-.9zM95.03 106.19h.9v.9h-.9zM88.96 115.85h.9v.9h-.9zM84.42 124.94h.9v.9h-.9zM84.02 119.85h.9v.9h-.9zM84.44 115.61h.9v.9h-.9zM87.89 108h.9v.9h-.9zM93.49 114.08h.9v.9h-.9zM80.57 107.1h.9v.9h-.9zM83.23 109.13h.9v.9h-.9zM84.92 108.9h.9v.9h-.9zM92.26 127.73h.9v.9h-.9zM90.61 126.09h.9v.9h-.9zM86.77 108.67h.9v.9h-.9zM90.31 115.46h.9v.9h-.9zM80.82 127.09h.9v.9h-.9zM85.62 108.89h.9v.9h-.9zM84.82 125.45h.9v.9h-.9zM95.63 109.82h.9v.9h-.9zM86.23 113.36h.9v.9h-.9zM76.05 126.57h.9v.9h-.9zM66.82 122.14h.9v.9h-.9zM96.48 122.44h.9v.9h-.9zM68.84 127.51h.9v.9h-.9zM93.23 125.17h.9v.9h-.9zM66.71 124.48h.9v.9h-.9zM87.83 112.69h.9v.9h-.9zM66.46 108.44h.9v.9h-.9zM85.86 114.27h.9v.9h-.9zM67.31 109.5h.9v.9h-.9zM91.26 119.64h.9v.9h-.9zM82.61 123.09h.9v.9h-.9zM76.76 107.63h.9v.9h-.9zM91.29 117.11h.9v.9h-.9zM82.45 112.51h.9v.9h-.9zM77.44 120.96h.9v.9h-.9zM85.31 122.03h.9v.9h-.9zM98.64 106.78h.9v.9h-.9zM95.7 117.57h.9v.9h-.9zM86.73 110.73h.9v.9h-.9zM89.83 126.41h.9v.9h-.9zM79.52 126.87h.9v.9h-.9zM78.14 107.39h.9v.9h-.9zM64.5 124.17h.9v.9h-.9zM76.57 116.51h.9v.9h-.9zM91.52 127.79h.9v.9h-.9zM83.64 105.63h.9v.9h-.9zM80.36 120.82h.9v.9h-.9zM97.76 107.76h.9v.9h-.9zM83.85 110.49h.9v.9h-.9zM93 124.07h.9v.9h-.9zM95.71 105.16h.9v.9h-.9zM94.18 126.91h.9v.9h-.9zM84.12 105.34h.9v.9h-.9zM68.15 126.74h.9v.9h-.9zM87.62 124.12h.9v.9h-.9zM64.54 126.79h.9v.9h-.9zM96.43 109.94h.9v.9h-.9zM84.31 127.68h.9v.9h-.9zM82.52 109.16h.9v.9h-.9zM72.2 106.98h.9v.9h-.9zM78.71 124.1h.9v.9h-.9zM94.71 108.92h.9v.9h-.9zM82.36 120.18h.9v.9h-.9zM89.33 110.91h.9v.9h-.9zM73.1 126.05h.9v.9h-.9zM80.58 119.15h.9v.9h-.9zM95.46 106.77h.9v.9h-.9zM88.22 108.57h.9v.9h-.9zM90.45 113.89h.9v.9h-.9zM84.98 122.01h.9v.9h-.9zM87.18 127.28h.9v.9h-.9zM75.45 118.5h.9v.9h-.9zM81.44 115.48h.9v.9h-.9zM85.6 105.42h.9v.9h-.9zM76.08 124.22h.9v.9h-.9zM89.6 114.87h.9v.9h-.9zM79.82 111.85h.9v.9h-.9zM74.56 118.15h.9v.9h-.9zM92.25 118.3h.9v.9h-.9zM80 117.58h.9v.9h-.9zM74.33 119.73h.9v.9h-.9zM88.1 120.83h.9v.9h-.9zM78.22 119.74h.9v.9h-.9zM83.64 120.24h.9v.9h-.9zM80.53 118.56h.9v.9h-.9zM93.16 114.05h.9v.9h-.9zM68.78 124.45h.9v.9h-.9zM91.52 124.78h.9v.9h-.9zM77.76 121.18h.9v.9h-.9zM93.39 118.56h.9v.9h-.9zM88.79 121.41h.9v.9h-.9zM80.03 112.61h.9v.9h-.9zM79.42 122.69h.9v.9h-.9zM88.99 112.66h.9v.9h-.9zM77.8 124.81h.9v.9h-.9zM88.17 117.85h.9v.9h-.9zM70.74 109.15h.9v.9h-.9zM94.84 109.8h.9v.9h-.9zM78.45 120.57h.9v.9h-.9zM81.96 113.55h.9v.9h-.9zM71.21 127.19h.9v.9h-.9zM72.33 119.59h.9v.9h-.9zM92.08 108.46h.9v.9h-.9zM77.11 121.71h.9v.9h-.9zM105.79 108.09h.9v.9h-.9zM113.63 114.97h.9v.9h-.9zM121.2 116.88h.9v.9h-.9zM117.32 122.68h.9v.9h-.9zM113.22 127.37h.9v.9h-.9zM108.84 108.51h.9v.9h-.9zM116.78 130.59h.9v.9h-.9zM116.93 121.2h.9v.9h-.9zM116.19 123.82h.9v.9h-.9zM96.88 120.06h.9v.9h-.9zM108.79 111.69h.9v.9h-.9zM119.05 111.7h.9v.9h-.9zM109.47 109.53h.9v.9h-.9zM104.78 125.37h.9v.9h-.9zM111.68 124.85h.9v.9h-.9zM102.09 112.32h.9v.9h-.9zM103.31 114.76h.9v.9h-.9zM115.16 109.73h.9v.9h-.9zM103.95 124.72h.9v.9h-.9zM101.11 111.49h.9v.9h-.9zM115 123.85h.9v.9h-.9zM115.81 121.53h.9v.9h-.9zM109.36 123.95h.9v.9h-.9zM111.88 123.9h.9v.9h-.9zM121.45 130.62h.9v.9h-.9zM85.65 128.24h.9v.9h-.9zM110.28 102.61h.9v.9h-.9zM121.95 125.85h.9v.9h-.9zM101.61 121.3h.9v.9h-.9zM121.27 125.38h.9v.9h-.9zM101.05 122.22h.9v.9h-.9zM96.71 129.2h.9v.9h-.9zM115.18 120.78h.9v.9h-.9zM103.59 127.79h.9v.9h-.9zM114.65 128.14h.9v.9h-.9zM118.93 123.6h.9v.9h-.9zM115.59 104.64h.9v.9h-.9zM107.12 131.27h.9v.9h-.9zM121.31 112.3h.9v.9h-.9zM91.07 130.05h.9v.9h-.9zM105.14 108.37h.9v.9h-.9zM104.34 107.02h.9v.9h-.9zM121.18 117.16h.9v.9h-.9zM118.53 128.68h.9v.9h-.9zM124.32 123.69h.9v.9h-.9zM96.27 112.76h.9v.9h-.9zM122.29 129.61h.9v.9h-.9zM96.32 131.24h.9v.9h-.9zM114.75 122.63h.9v.9h-.9zM111.35 130.06h.9v.9h-.9zM109.53 124.15h.9v.9h-.9zM99.54 122.85h.9v.9h-.9zM103.51 108.31h.9v.9h-.9zM95.98 114.04h.9v.9h-.9zM100.2 121.94h.9v.9h-.9zM118.2 119.02h.9v.9h-.9zM108.14 109.97h.9v.9h-.9zM114.32 103.17h.9v.9h-.9zM125.15 130.99h.9v.9h-.9zM110.57 130.42h.9v.9h-.9zM129.69 110.86h.9v.9h-.9zM100.95 113.72h.9v.9h-.9zM103.07 106.88h.9v.9h-.9zM96.5 118.1h.9v.9h-.9zM102.7 127.47h.9v.9h-.9zM103.13 123.99h.9v.9h-.9zM123.65 111.09h.9v.9h-.9zM112.38 126.79h.9v.9h-.9zM125.84 128.23h.9v.9h-.9zM107.13 129.43h.9v.9h-.9zM101.6 126.24h.9v.9h-.9zM99.35 123.68h.9v.9h-.9zM112.1 128.58h.9v.9h-.9zM118.84 110.62h.9v.9h-.9zM117.37 116.46h.9v.9h-.9zM116.64 111.74h.9v.9h-.9zM101.87 125.72h.9v.9h-.9zM128.21 121.21h.9v.9h-.9zM124.05 122.79h.9v.9h-.9zM114.97 129.46h.9v.9h-.9zM114.56 123.09h.9v.9h-.9zM86.95 100.02h.9v.9h-.9zM90.64 88.73h.9v.9h-.9zM99.2 90.21h.9v.9h-.9zM85.51 94.91h.9v.9h-.9zM96.23 88.99h.9v.9h-.9zM86.03 91.68h.9v.9h-.9zM101.87 103.4h.9v.9h-.9zM95.9 88.67h.9v.9h-.9zM102.58 94.42h.9v.9h-.9zM99.22 105.66h.9v.9h-.9zM104.67 90.88h.9v.9h-.9zM93.81 88.69h.9v.9h-.9zM80.37 103.92h.9v.9h-.9zM108.99 103.14h.9v.9h-.9zM86.66 97.43h.9v.9h-.9zM103.89 90.4h.9v.9h-.9zM85.78 93.57h.9v.9h-.9zM94.81 96.44h.9v.9h-.9zM99.05 92.06h.9v.9h-.9zM82.3 100.55h.9v.9h-.9zM82.09 101.43h.9v.9h-.9zM93.39 104.54h.9v.9h-.9zM104.62 100.81h.9v.9h-.9zM83.42 96.4h.9v.9h-.9zM108.8 97.03h.9v.9h-.9zM83.07 99.18h.9v.9h-.9zM89 98.11h.9v.9h-.9zM96.41 89.95h.9v.9h-.9zM100.28 94.92h.9v.9h-.9zM92.16 99.87h.9v.9h-.9zM103.05 93.91h.9v.9h-.9zM82.39 96.5h.9v.9h-.9zM103.85 106.92h.9v.9h-.9zM106.18 88.27h.9v.9h-.9zM87.37 100.15h.9v.9h-.9zM86.89 91.58h.9v.9h-.9zM105.58 106.14h.9v.9h-.9zM92 103.59h.9v.9h-.9zM95.92 94.53h.9v.9h-.9zM103.57 97.62h.9v.9h-.9zM99.42 105.52h.9v.9h-.9zM100.46 96.95h.9v.9h-.9zM92.48 105.86h.9v.9h-.9zM94.9 103.46h.9v.9h-.9zM104.79 97.28h.9v.9h-.9zM105.13 98.01h.9v.9h-.9zM97.73 97.88h.9v.9h-.9zM97.14 93.11h.9v.9h-.9zM88.79 94.65h.9v.9h-.9zM93.93 96.12h.9v.9h-.9zM85.69 98.13h.9v.9h-.9zM94.09 104.64h.9v.9h-.9zM81.74 97.21h.9v.9h-.9zM87.47 98.61h.9v.9h-.9zM88.27 101.43h.9v.9h-.9zM93.74 103.19h.9v.9h-.9zM99.78 106.48h.9v.9h-.9zM98.58 99.38h.9v.9h-.9zM102.48 101.62h.9v.9h-.9zM84.03 102.04h.9v.9h-.9zM82.94 92.16h.9v.9h-.9zM111.03 108.66h.9v.9h-.9zM110.42 105.97h.9v.9h-.9zM115.36 130.73h.9v.9h-.9zM48.83 125.98h.9v.9h-.9zM50.69 105.15h.9v.9h-.9zM46.68 125.57h.9v.9h-.9zM116.97 105.98h.9v.9h-.9zM66.41 122.77h.9v.9h-.9zM50.18 95.47h.9v.9h-.9zM81.07 96.2h.9v.9h-.9zM100.38 104.77h.9v.9h-.9zM95.61 112.87h.9v.9h-.9zM66.52 97.85h.9v.9h-.9zM49.89 105.25h.9v.9h-.9zM73.08 109.58h.9v.9h-.9zM57.42 130.41h.9v.9h-.9zM81.9 95.34h.9v.9h-.9zM50.21 96.16h.9v.9h-.9zM94.96 115.38h.9v.9h-.9zM65.02 99.63h.9v.9h-.9zM96.62 130.14h.9v.9h-.9zM48.2 97.23h.9v.9h-.9zM82.44 110.22h.9v.9h-.9zM116.81 123.08h.9v.9h-.9zM119.32 121.89h.9v.9h-.9zM46.55 129.6h.9v.9h-.9zM51.17 111.64h.9v.9h-.9zM58.63 130.45h.9v.9h-.9zM77.51 107.17h.9v.9h-.9zM109.78 99.97h.9v.9h-.9zM118.01 101.85h.9v.9h-.9zM45.65 98.29h.9v.9h-.9zM47.02 117.97h.9v.9h-.9zM90.98 95.94h.9v.9h-.9zM49.1 112.39h.9v.9h-.9zM76.08 121.78h.9v.9h-.9zM92.82 104.77h.9v.9h-.9zM58.93 129.66h.9v.9h-.9zM56.44 111.69h.9v.9h-.9zM59.7 104.14h.9v.9h-.9zM106.47 106.29h.9v.9h-.9zM73.73 130.86h.9v.9h-.9zM117.44 116.54h.9v.9h-.9zM72.07 101.02h.9v.9h-.9zM62.11 95.01h.9v.9h-.9zM107.29 99.9h.9v.9h-.9zM45.01 96.25h.9v.9h-.9zM101.33 115.65h.9v.9h-.9zM113.52 106.73h.9v.9h-.9zM69.83 101.23h.9v.9h-.9zM102.34 109.39h.9v.9h-.9zM99.48 129.2h.9v.9h-.9zM103.39 97.02h.9v.9h-.9zM94.92 99.02h.9v.9h-.9zM86 126.56h.9v.9h-.9zM53.66 98.16h.9v.9h-.9zM92.67 96.34h.9v.9h-.9zM49.96 121.71h.9v.9h-.9zM53.33 102.27h.9v.9h-.9zM59.73 100.75h.9v.9h-.9zM103.05 99.85h.9v.9h-.9zM49.86 129.04h.9v.9h-.9zM114 102.61h.9v.9h-.9zM116.52 121.24h.9v.9h-.9zM78.92 125.99h.9v.9h-.9zM117.33 126.11h.9v.9h-.9zM93.57 111.93h.9v.9h-.9zM97.28 122.69h.9v.9h-.9zM101.4 103.88h.9v.9h-.9zM117.48 107.42h.9v.9h-.9zM88.44 111.5h.9v.9h-.9zM115.48 130.04h.9v.9h-.9zM61.67 130.74h.9v.9h-.9zM57.42 104.22h.9v.9h-.9zM100.3 106.12h.9v.9h-.9zM95.04 108.6h.9v.9h-.9zM76.17 103.32h.9v.9h-.9zM96.05 110h.9v.9h-.9zM86.26 97.8h.9v.9h-.9zM75.27 73.75h.9v.9h-.9zM71.67 103.75h.9v.9h-.9zM64.11 93.58h.9v.9h-.9zM59.85 91.65h.9v.9h-.9zM45.06 67.11h.9v.9h-.9zM64.2 82.8h.9v.9h-.9zM74.59 82.12h.9v.9h-.9zM75.78 101.66h.9v.9h-.9zM74.45 90.15h.9v.9h-.9zM67.58 73.58h.9v.9h-.9zM53.4 71.66h.9v.9h-.9zM47.53 64.82h.9v.9h-.9zM49.01 82.45h.9v.9h-.9zM55.2 88.24h.9v.9h-.9zM45.18 77.96h.9v.9h-.9z" fill="#c6cbe0"/>
<rect x="77.5" y="62.6" width="31.7" height="25.6" fill="none" stroke="#2a2a2a" stroke-width="0.9"/>
<rect x="77.5" y="88.2" width="31.7" height="19.1" fill="none" stroke="#2a2a2a" stroke-width="0.9"/>
<rect x="99.6" y="107.3" width="20.6" height="25.7" fill="none" stroke="#2a2a2a" stroke-width="0.9"/>
<rect x="40.2" y="23.7" width="112.7" height="109.3" fill="none" stroke="#111" stroke-width="1.4"/>
<line x1="37.2" y1="34.4" x2="40.2" y2="34.4" stroke="#111" stroke-width="1.2"/>
<line x1="38.6" y1="51.94" x2="40.2" y2="51.94" stroke="#111" stroke-width="0.8"/>
<line x1="38.6" y1="47.52" x2="40.2" y2="47.52" stroke="#111" stroke-width="0.8"/>
<line x1="38.6" y1="44.39" x2="40.2" y2="44.39" stroke="#111" stroke-width="0.8"/>
<line x1="38.6" y1="41.96" x2="40.2" y2="41.96" stroke="#111" stroke-width="0.8"/>
<line x1="38.6" y1="39.97" x2="40.2" y2="39.97" stroke="#111" stroke-width="0.8"/>
<line x1="38.6" y1="38.29" x2="40.2" y2="38.29" stroke="#111" stroke-width="0.8"/>
<line x1="38.6" y1="36.83" x2="40.2" y2="36.83" stroke="#111" stroke-width="0.8"/>
<line x1="38.6" y1="35.55" x2="40.2" y2="35.55" stroke="#111" stroke-width="0.8"/>
<text x="22.2" y="36.9" font-size="7.7">10<tspan font-size="5.6" dy="-3.4">5</tspan></text>
<line x1="37.2" y1="59.5" x2="40.2" y2="59.5" stroke="#111" stroke-width="1.2"/>
<line x1="38.6" y1="77.04" x2="40.2" y2="77.04" stroke="#111" stroke-width="0.8"/>
<line x1="38.6" y1="72.62" x2="40.2" y2="72.62" stroke="#111" stroke-width="0.8"/>
<line x1="38.6" y1="69.49" x2="40.2" y2="69.49" stroke="#111" stroke-width="0.8"/>
<line x1="38.6" y1="67.06" x2="40.2" y2="67.06" stroke="#111" stroke-width="0.8"/>
<line x1="38.6" y1="65.07" x2="40.2" y2="65.07" stroke="#111" stroke-width="0.8"/>
<line x1="38.6" y1="63.39" x2="40.2" y2="63.39" stroke="#111" stroke-width="0.8"/>
<line x1="38.6" y1="61.93" x2="40.2" y2="61.93" stroke="#111" stroke-width="0.8"/>
<line x1="38.6" y1="60.65" x2="40.2" y2="60.65" stroke="#111" stroke-width="0.8"/>
<text x="22.2" y="62" font-size="7.7">10<tspan font-size="5.6" dy="-3.4">4</tspan></text>
<line x1="37.2" y1="84.6" x2="40.2" y2="84.6" stroke="#111" stroke-width="1.2"/>
<line x1="38.6" y1="102.14" x2="40.2" y2="102.14" stroke="#111" stroke-width="0.8"/>
<line x1="38.6" y1="97.72" x2="40.2" y2="97.72" stroke="#111" stroke-width="0.8"/>
<line x1="38.6" y1="94.59" x2="40.2" y2="94.59" stroke="#111" stroke-width="0.8"/>
<line x1="38.6" y1="92.16" x2="40.2" y2="92.16" stroke="#111" stroke-width="0.8"/>
<line x1="38.6" y1="90.17" x2="40.2" y2="90.17" stroke="#111" stroke-width="0.8"/>
<line x1="38.6" y1="88.49" x2="40.2" y2="88.49" stroke="#111" stroke-width="0.8"/>
<line x1="38.6" y1="87.03" x2="40.2" y2="87.03" stroke="#111" stroke-width="0.8"/>
<line x1="38.6" y1="85.75" x2="40.2" y2="85.75" stroke="#111" stroke-width="0.8"/>
<text x="22.2" y="87.1" font-size="7.7">10<tspan font-size="5.6" dy="-3.4">3</tspan></text>
<line x1="37.2" y1="109.7" x2="40.2" y2="109.7" stroke="#111" stroke-width="1.2"/>
<text x="22.2" y="112.2" font-size="7.7">10<tspan font-size="5.6" dy="-3.4">2</tspan></text>
<line x1="38.6" y1="117.7" x2="40.2" y2="117.7" stroke="#111" stroke-width="0.8"/>
<line x1="38.6" y1="125.7" x2="40.2" y2="125.7" stroke="#111" stroke-width="0.8"/>
<rect x="38.6" y="121.2" width="1.6" height="2.2" fill="#111"/>
<text x="72.2" y="34.1" font-size="7.9">WT spleen</text>
<text x="111.8" y="69.2" font-size="6.8">i</text>
<text x="111.8" y="77.6" font-size="7.7">35.6 %</text>
<text x="111.8" y="97.6" font-size="6.8">ii</text>
<text x="111.8" y="106" font-size="7.7">3.8 %</text>
<text x="121.4" y="122.9" font-size="6.8">iii</text>
<text x="121.4" y="131.3" font-size="7.7">11.0 %</text>
<path d="M92.9 184.55h.9v.9h-.9zM92.13 184.5h.9v.9h-.9zM92.71 184.47h.9v.9h-.9zM91.36 185.39h.9v.9h-.9zM91.18 183.59h.9v.9h-.9zM91.92 185.52h.9v.9h-.9zM91.53 184.15h.9v.9h-.9zM90.89 184.24h.9v.9h-.9zM92.64 183.58h.9v.9h-.9zM90.27 184.33h.9v.9h-.9zM92.57 181.07h.9v.9h-.9zM92.55 181.52h.9v.9h-.9zM90.85 183.78h.9v.9h-.9zM92.65 184.59h.9v.9h-.9zM92.58 182.54h.9v.9h-.9zM91.78 185.03h.9v.9h-.9zM90.53 186.71h.9v.9h-.9zM93.2 184.45h.9v.9h-.9zM91.56 183.34h.9v.9h-.9zM90.72 186.66h.9v.9h-.9zM92.09 184.61h.9v.9h-.9zM92.97 182.76h.9v.9h-.9zM90.64 185h.9v.9h-.9zM93.56 183h.9v.9h-.9zM93.15 183.16h.9v.9h-.9zM91.36 184.4h.9v.9h-.9zM91.98 186.34h.9v.9h-.9zM92.56 181.93h.9v.9h-.9zM93.61 183.03h.9v.9h-.9zM92.13 181.28h.9v.9h-.9zM92.78 184.7h.9v.9h-.9zM93.43 182.15h.9v.9h-.9zM91.14 184.29h.9v.9h-.9zM92.21 181.91h.9v.9h-.9zM92.63 182.43h.9v.9h-.9zM92.55 181.11h.9v.9h-.9zM90.99 185.19h.9v.9h-.9zM93.95 181.29h.9v.9h-.9zM93.51 184.3h.9v.9h-.9zM91.83 183.63h.9v.9h-.9zM92.96 181.76h.9v.9h-.9zM91.89 185h.9v.9h-.9zM93.86 183.31h.9v.9h-.9zM92.28 184.8h.9v.9h-.9zM92.18 183.29h.9v.9h-.9zM90.58 183.57h.9v.9h-.9zM93.7 183.8h.9v.9h-.9zM90.55 185.68h.9v.9h-.9zM91.38 185.33h.9v.9h-.9zM92.66 183.22h.9v.9h-.9zM90.16 184.28h.9v.9h-.9zM91.98 185.12h.9v.9h-.9zM91.14 183.14h.9v.9h-.9zM93.71 184.72h.9v.9h-.9zM93.69 183.82h.9v.9h-.9zM93.32 181.79h.9v.9h-.9zM92.14 182.5h.9v.9h-.9zM92.19 183.48h.9v.9h-.9zM90.67 186.21h.9v.9h-.9zM93.25 183.81h.9v.9h-.9zM90.64 185.25h.9v.9h-.9zM91.39 185.68h.9v.9h-.9zM91.86 184.24h.9v.9h-.9zM91.34 183.05h.9v.9h-.9zM90.56 183.08h.9v.9h-.9zM93.32 182.62h.9v.9h-.9zM90.02 183.54h.9v.9h-.9zM91.69 185.95h.9v.9h-.9zM93.14 183.37h.9v.9h-.9zM90.26 186.12h.9v.9h-.9zM92.12 184.48h.9v.9h-.9zM92.95 182.08h.9v.9h-.9zM90.02 183.94h.9v.9h-.9zM92.39 182.06h.9v.9h-.9zM93.51 183.1h.9v.9h-.9zM90.46 186.56h.9v.9h-.9zM90.17 186.99h.9v.9h-.9zM93.97 181.64h.9v.9h-.9zM90.17 186.83h.9v.9h-.9zM91.1 183.97h.9v.9h-.9zM90.9 186.35h.9v.9h-.9zM93.98 182.41h.9v.9h-.9zM92.54 184.78h.9v.9h-.9zM92.88 182.87h.9v.9h-.9zM91.75 184.27h.9v.9h-.9zM93.93 182.58h.9v.9h-.9zM90.54 186.41h.9v.9h-.9zM91.67 183.44h.9v.9h-.9zM90.08 185.63h.9v.9h-.9zM91.4 185.07h.9v.9h-.9zM92.97 183.4h.9v.9h-.9zM91.02 183.98h.9v.9h-.9zM92.14 184.8h.9v.9h-.9zM92.45 181.77h.9v.9h-.9zM91.81 186.27h.9v.9h-.9zM90.42 184.26h.9v.9h-.9zM90.84 184.18h.9v.9h-.9zM90.21 183.09h.9v.9h-.9zM90.48 184.08h.9v.9h-.9zM90.38 183.41h.9v.9h-.9zM93.41 183.18h.9v.9h-.9zM92.38 184.41h.9v.9h-.9zM91.48 184.82h.9v.9h-.9zM91.17 183.2h.9v.9h-.9zM93.4 183.68h.9v.9h-.9zM93.28 182.73h.9v.9h-.9zM93.72 183.86h.9v.9h-.9zM93.12 181.16h.9v.9h-.9zM91.97 183.19h.9v.9h-.9zM92.93 184.5h.9v.9h-.9zM91.72 186.48h.9v.9h-.9zM91.61 185.04h.9v.9h-.9zM93.62 184.1h.9v.9h-.9zM90.59 185.89h.9v.9h-.9zM90.4 183.08h.9v.9h-.9zM93.39 183.42h.9v.9h-.9zM93.41 181.71h.9v.9h-.9zM92.67 181.7h.9v.9h-.9zM93.84 183.72h.9v.9h-.9zM93.19 184.3h.9v.9h-.9zM93.58 182.74h.9v.9h-.9zM91.47 183.98h.9v.9h-.9zM93.37 182.7h.9v.9h-.9zM93.32 182.74h.9v.9h-.9zM92.66 181.53h.9v.9h-.9zM91.63 184.19h.9v.9h-.9zM93.74 183.87h.9v.9h-.9zM91.42 183.43h.9v.9h-.9zM92.3 184.86h.9v.9h-.9zM91.64 185.14h.9v.9h-.9zM91.13 185.36h.9v.9h-.9zM93.22 183.28h.9v.9h-.9zM92.63 183.5h.9v.9h-.9zM91.56 184.47h.9v.9h-.9zM90.91 184.93h.9v.9h-.9zM93.4 181.23h.9v.9h-.9zM91.98 185.55h.9v.9h-.9zM91.75 183.15h.9v.9h-.9zM90.98 186.99h.9v.9h-.9zM92.15 182.13h.9v.9h-.9zM93.34 182.23h.9v.9h-.9zM90.9 185.89h.9v.9h-.9zM92.76 184.51h.9v.9h-.9zM90.58 186.06h.9v.9h-.9zM91.34 183.05h.9v.9h-.9zM90.05 186.36h.9v.9h-.9zM92.98 183.83h.9v.9h-.9zM92.84 182.38h.9v.9h-.9zM91.89 186.88h.9v.9h-.9zM92.22 184.13h.9v.9h-.9zM91.24 185.34h.9v.9h-.9zM93.88 182.35h.9v.9h-.9zM90.89 184.87h.9v.9h-.9zM92.09 183.03h.9v.9h-.9zM91.25 186.26h.9v.9h-.9zM93.04 183.31h.9v.9h-.9zM93.99 182.31h.9v.9h-.9zM90.46 186.94h.9v.9h-.9zM91.05 183.25h.9v.9h-.9zM90.71 186.99h.9v.9h-.9zM91.76 184.56h.9v.9h-.9zM92.87 183.48h.9v.9h-.9zM90.23 183.93h.9v.9h-.9zM92.16 181.87h.9v.9h-.9zM91.73 183.11h.9v.9h-.9z" fill="#dc6a24"/>
<path d="M94.55 178.75h.9v.9h-.9zM89.62 189.75h.9v.9h-.9zM88.04 189.19h.9v.9h-.9zM86.47 182.13h.9v.9h-.9zM91.19 178.46h.9v.9h-.9zM90.9 178.6h.9v.9h-.9zM95.03 177.92h.9v.9h-.9zM94.28 178.12h.9v.9h-.9zM91.49 178.34h.9v.9h-.9zM87.36 182.07h.9v.9h-.9zM88.79 179.85h.9v.9h-.9zM94.62 188.65h.9v.9h-.9zM95.03 177.21h.9v.9h-.9zM92.54 187.88h.9v.9h-.9zM85.91 186.5h.9v.9h-.9zM90.65 177.85h.9v.9h-.9zM89.04 189.75h.9v.9h-.9zM93.84 187.59h.9v.9h-.9zM89.65 189.48h.9v.9h-.9zM89.87 180.76h.9v.9h-.9zM94.77 188.41h.9v.9h-.9zM98.24 180.89h.9v.9h-.9zM99.55 180.36h.9v.9h-.9zM87.65 181.31h.9v.9h-.9zM98.45 180.73h.9v.9h-.9zM86.09 181.74h.9v.9h-.9zM90.54 178.08h.9v.9h-.9zM90.27 177.05h.9v.9h-.9zM84.1 185.17h.9v.9h-.9zM92.84 188.23h.9v.9h-.9zM85.03 185.69h.9v.9h-.9zM93.62 188.39h.9v.9h-.9zM87.17 182.93h.9v.9h-.9zM88.43 190.52h.9v.9h-.9zM94.48 177.25h.9v.9h-.9zM89.79 179.94h.9v.9h-.9zM93.42 187.36h.9v.9h-.9zM94.21 177.64h.9v.9h-.9zM89.86 180.09h.9v.9h-.9zM92.05 187.65h.9v.9h-.9zM94.77 178.44h.9v.9h-.9zM95.75 188.42h.9v.9h-.9zM94.35 187.22h.9v.9h-.9zM86.75 182.51h.9v.9h-.9zM90.9 177.79h.9v.9h-.9zM84.89 185.44h.9v.9h-.9zM90.79 178.81h.9v.9h-.9zM84.57 185.15h.9v.9h-.9zM98.15 180.32h.9v.9h-.9zM94.47 188.28h.9v.9h-.9zM88.94 179.78h.9v.9h-.9zM88.35 180.92h.9v.9h-.9zM86.63 182.4h.9v.9h-.9zM98.68 179.58h.9v.9h-.9zM88.46 190.92h.9v.9h-.9zM99.59 179.88h.9v.9h-.9zM88.85 179.54h.9v.9h-.9zM87.17 182.82h.9v.9h-.9zM95.62 187.57h.9v.9h-.9zM89.49 190.32h.9v.9h-.9zM95.19 187.17h.9v.9h-.9zM89.57 179.34h.9v.9h-.9zM85.23 186.93h.9v.9h-.9zM84.6 186.7h.9v.9h-.9zM98.57 180.49h.9v.9h-.9zM87.11 182.34h.9v.9h-.9zM92.4 187.56h.9v.9h-.9zM85.29 186.45h.9v.9h-.9zM89.56 180.24h.9v.9h-.9zM98.39 180.19h.9v.9h-.9zM92.87 188.32h.9v.9h-.9zM95.53 188.03h.9v.9h-.9zM88.88 190.29h.9v.9h-.9zM87.53 182.32h.9v.9h-.9zM94.08 177.6h.9v.9h-.9zM94.06 187.82h.9v.9h-.9zM89.24 180.54h.9v.9h-.9zM91.6 177.26h.9v.9h-.9zM94.24 187.12h.9v.9h-.9zM95.47 187.67h.9v.9h-.9zM84.22 186.76h.9v.9h-.9zM88.73 189.46h.9v.9h-.9zM91.31 177.63h.9v.9h-.9zM93.93 187.98h.9v.9h-.9zM94.66 187.58h.9v.9h-.9zM92.12 187.53h.9v.9h-.9zM98.78 179.2h.9v.9h-.9zM95.24 178.94h.9v.9h-.9zM84.72 186.64h.9v.9h-.9zM94.25 187.36h.9v.9h-.9zM94.57 177.73h.9v.9h-.9zM93.11 188.11h.9v.9h-.9zM89.4 180.14h.9v.9h-.9zM95.72 178.1h.9v.9h-.9zM87.58 182.12h.9v.9h-.9zM95.19 178.6h.9v.9h-.9zM90.87 177.91h.9v.9h-.9zM88.1 190.59h.9v.9h-.9zM94.83 178.02h.9v.9h-.9zM98.54 179.79h.9v.9h-.9zM89.19 190.44h.9v.9h-.9zM89.38 179.65h.9v.9h-.9zM99.98 179.82h.9v.9h-.9zM87.38 182.28h.9v.9h-.9zM65.93 225.11h.9v.9h-.9zM55.28 228.17h.9v.9h-.9zM56.6 227.8h.9v.9h-.9zM68.43 226.34h.9v.9h-.9zM68.61 225.93h.9v.9h-.9zM57.75 228.31h.9v.9h-.9zM62.35 224.65h.9v.9h-.9zM68.52 225.73h.9v.9h-.9zM54.09 227.95h.9v.9h-.9zM65.61 227.99h.9v.9h-.9zM63.94 223.38h.9v.9h-.9zM56.99 228.43h.9v.9h-.9zM57.5 227.13h.9v.9h-.9zM60.55 225.45h.9v.9h-.9zM62.96 224.84h.9v.9h-.9zM62.39 229.74h.9v.9h-.9zM65.91 227.35h.9v.9h-.9zM63.72 223.88h.9v.9h-.9zM63.86 229.62h.9v.9h-.9zM55.27 228.36h.9v.9h-.9zM61.26 226.39h.9v.9h-.9zM58.44 232.06h.9v.9h-.9zM60.58 225.82h.9v.9h-.9zM65.02 224.67h.9v.9h-.9zM62.85 230.61h.9v.9h-.9zM59.86 232.24h.9v.9h-.9zM69.99 225.32h.9v.9h-.9zM56.77 227.82h.9v.9h-.9zM65.18 226.12h.9v.9h-.9zM64.24 226.65h.9v.9h-.9zM61.5 225.44h.9v.9h-.9zM63.55 224.67h.9v.9h-.9zM64.31 228.53h.9v.9h-.9zM61.65 225.28h.9v.9h-.9zM65.89 226.88h.9v.9h-.9zM65.35 224.61h.9v.9h-.9zM65.04 228.9h.9v.9h-.9zM63.58 222.82h.9v.9h-.9zM63.99 230.95h.9v.9h-.9zM55.27 227.66h.9v.9h-.9zM64.94 223.43h.9v.9h-.9zM59.22 232.21h.9v.9h-.9zM63.77 223.69h.9v.9h-.9zM57.67 228.17h.9v.9h-.9zM64.04 223.85h.9v.9h-.9zM59.52 231.18h.9v.9h-.9zM59.08 231.97h.9v.9h-.9zM57.75 228.54h.9v.9h-.9zM62.34 221.24h.9v.9h-.9zM54.39 228.28h.9v.9h-.9zM63.86 229.02h.9v.9h-.9zM56.99 228.52h.9v.9h-.9zM65.25 223.99h.9v.9h-.9zM59.89 233h.9v.9h-.9zM63.52 230.19h.9v.9h-.9zM62.52 221.23h.9v.9h-.9zM64.19 228.01h.9v.9h-.9zM63.05 222.76h.9v.9h-.9zM56.64 227.75h.9v.9h-.9zM55.69 227.19h.9v.9h-.9zM60.82 225.63h.9v.9h-.9zM64.07 223.74h.9v.9h-.9zM57 228.52h.9v.9h-.9zM55.66 228.52h.9v.9h-.9zM62.46 229.41h.9v.9h-.9zM55.07 228.05h.9v.9h-.9zM60.4 225.98h.9v.9h-.9zM64.73 228.28h.9v.9h-.9zM63.58 224.61h.9v.9h-.9zM68.81 226.33h.9v.9h-.9zM62.44 222.26h.9v.9h-.9zM69.92 226h.9v.9h-.9zM68.05 226.34h.9v.9h-.9zM59.25 231.53h.9v.9h-.9zM59.86 231.48h.9v.9h-.9zM65.74 223.64h.9v.9h-.9zM64.38 224.21h.9v.9h-.9zM54.08 228.77h.9v.9h-.9zM58.84 231.4h.9v.9h-.9zM62.04 222.87h.9v.9h-.9zM56.92 228.07h.9v.9h-.9zM58 232.39h.9v.9h-.9zM61.46 226.75h.9v.9h-.9zM64.28 226.63h.9v.9h-.9zM63.05 221.57h.9v.9h-.9zM61.94 226.85h.9v.9h-.9zM60.96 226.49h.9v.9h-.9zM59.55 231.16h.9v.9h-.9zM54.46 227.25h.9v.9h-.9zM65 227.64h.9v.9h-.9zM62.37 221.72h.9v.9h-.9zM63.88 221.13h.9v.9h-.9zM61.11 225.45h.9v.9h-.9zM65.02 226.84h.9v.9h-.9zM64.75 227.78h.9v.9h-.9zM56.67 227.53h.9v.9h-.9zM68.61 225.43h.9v.9h-.9zM62.17 224.23h.9v.9h-.9zM64.63 218.1h.9v.9h-.9zM65.64 223.87h.9v.9h-.9zM62.45 223.72h.9v.9h-.9zM62.66 222.73h.9v.9h-.9zM64.24 223.92h.9v.9h-.9zM59.75 231.53h.9v.9h-.9zM64.25 217.48h.9v.9h-.9zM55.93 228.31h.9v.9h-.9zM65.94 226.78h.9v.9h-.9zM64.99 228.49h.9v.9h-.9zM62.78 230.38h.9v.9h-.9zM65.15 227.27h.9v.9h-.9zM64.47 226.93h.9v.9h-.9zM65.8 218.89h.9v.9h-.9zM62.7 223.18h.9v.9h-.9zM68.94 226.29h.9v.9h-.9zM63.03 230.73h.9v.9h-.9zM64.7 218.18h.9v.9h-.9zM64.36 217.07h.9v.9h-.9zM63.48 229.07h.9v.9h-.9zM64.16 226.56h.9v.9h-.9zM68.96 225.65h.9v.9h-.9zM63.01 222.4h.9v.9h-.9zM65.67 228.88h.9v.9h-.9zM65.56 218.65h.9v.9h-.9zM64.25 225.85h.9v.9h-.9zM68.89 226.95h.9v.9h-.9zM65.55 217.78h.9v.9h-.9zM108.26 229.7h.9v.9h-.9zM110.85 223.54h.9v.9h-.9zM111.59 223.81h.9v.9h-.9zM107.17 224.5h.9v.9h-.9zM105.58 224.34h.9v.9h-.9zM108.61 230.64h.9v.9h-.9zM108.6 229.8h.9v.9h-.9zM111.22 223.22h.9v.9h-.9zM110.77 226.31h.9v.9h-.9zM109.8 229.78h.9v.9h-.9zM106.75 229.36h.9v.9h-.9zM107.84 225h.9v.9h-.9zM104.31 223.9h.9v.9h-.9zM111.36 225.07h.9v.9h-.9zM107.38 230.9h.9v.9h-.9zM107.92 230.78h.9v.9h-.9zM110.5 223.86h.9v.9h-.9zM108.47 229.05h.9v.9h-.9zM106.73 223.6h.9v.9h-.9zM105.23 224.19h.9v.9h-.9zM107.17 229.66h.9v.9h-.9zM106.3 229.96h.9v.9h-.9zM108.47 229.32h.9v.9h-.9zM104.47 224.41h.9v.9h-.9zM111.62 225.24h.9v.9h-.9zM110.22 225.23h.9v.9h-.9zM110.67 223.98h.9v.9h-.9zM110.24 223.39h.9v.9h-.9zM108.8 230.29h.9v.9h-.9zM109.9 230.41h.9v.9h-.9zM109.25 229.17h.9v.9h-.9zM110.07 226.82h.9v.9h-.9zM107.93 230.07h.9v.9h-.9zM108.69 230.97h.9v.9h-.9zM107.71 224.58h.9v.9h-.9zM111.01 223.59h.9v.9h-.9zM107.51 230.08h.9v.9h-.9zM105.03 223.6h.9v.9h-.9zM111.36 223.88h.9v.9h-.9zM106.65 224.61h.9v.9h-.9zM105.58 223.66h.9v.9h-.9zM109.56 230.26h.9v.9h-.9zM111.88 226.52h.9v.9h-.9zM107.77 230.79h.9v.9h-.9zM105.35 224.26h.9v.9h-.9zM108.35 229.36h.9v.9h-.9zM111.44 225.67h.9v.9h-.9zM106.65 224.37h.9v.9h-.9zM106.98 223.13h.9v.9h-.9zM111.9 226.75h.9v.9h-.9zM106.43 224.59h.9v.9h-.9zM106.68 229.81h.9v.9h-.9zM105.92 224.02h.9v.9h-.9zM104.44 223.86h.9v.9h-.9zM110.4 225.98h.9v.9h-.9zM106.41 223.78h.9v.9h-.9zM108.4 229.23h.9v.9h-.9zM105.23 223.89h.9v.9h-.9zM107.61 229.7h.9v.9h-.9zM110.07 225.9h.9v.9h-.9zM111.49 224.22h.9v.9h-.9zM110.82 224.4h.9v.9h-.9zM64.97 228.03h.9v.9h-.9zM106.72 224.41h.9v.9h-.9zM105.84 223.5h.9v.9h-.9zM65 226.48h.9v.9h-.9zM64 223.34h.9v.9h-.9zM64.37 217.26h.9v.9h-.9zM65.11 218.44h.9v.9h-.9zM65.13 217.06h.9v.9h-.9zM64.62 226.7h.9v.9h-.9z" fill="#a4aa88"/>
<path d="M94.53 180.89h.9v.9h-.9zM93.27 177.81h.9v.9h-.9zM90.36 188.38h.9v.9h-.9zM88.17 184.05h.9v.9h-.9zM88.83 184.64h.9v.9h-.9zM94.29 180.06h.9v.9h-.9zM89.23 184.69h.9v.9h-.9zM95.91 186.15h.9v.9h-.9zM95.22 180.09h.9v.9h-.9zM88.94 181.45h.9v.9h-.9zM89.55 183.91h.9v.9h-.9zM91.82 187.27h.9v.9h-.9zM95.56 179.53h.9v.9h-.9zM95.04 186.62h.9v.9h-.9zM92.3 186.14h.9v.9h-.9zM94.1 180.57h.9v.9h-.9zM90.74 187.53h.9v.9h-.9zM90.61 180.28h.9v.9h-.9zM95.32 179.92h.9v.9h-.9zM88.81 182.35h.9v.9h-.9zM90.12 180.43h.9v.9h-.9zM88.4 182.32h.9v.9h-.9zM89.09 181.73h.9v.9h-.9zM88.55 181.99h.9v.9h-.9zM94.22 186.24h.9v.9h-.9zM94.59 180.86h.9v.9h-.9zM91.2 188.93h.9v.9h-.9zM92.3 185.11h.9v.9h-.9zM93.65 186.03h.9v.9h-.9zM88.94 184.84h.9v.9h-.9zM91.16 180.06h.9v.9h-.9zM94.36 186.73h.9v.9h-.9zM91.89 180.63h.9v.9h-.9zM94.9 186.05h.9v.9h-.9zM93.84 178.75h.9v.9h-.9zM94.95 180.67h.9v.9h-.9zM90.7 187.34h.9v.9h-.9zM89.05 184.78h.9v.9h-.9zM97.87 178.72h.9v.9h-.9zM92.68 186.19h.9v.9h-.9zM89.74 181.93h.9v.9h-.9zM89.86 182.07h.9v.9h-.9zM92.76 178.05h.9v.9h-.9zM95.54 179.54h.9v.9h-.9zM92.37 186.19h.9v.9h-.9zM94.33 185.49h.9v.9h-.9zM89.53 181.21h.9v.9h-.9zM90.28 188.15h.9v.9h-.9zM88.96 182.61h.9v.9h-.9zM94.64 180.15h.9v.9h-.9zM88.23 181.67h.9v.9h-.9zM89.81 183.83h.9v.9h-.9zM89.19 184.4h.9v.9h-.9zM88.24 183.95h.9v.9h-.9zM93.03 186.35h.9v.9h-.9zM90.67 187.61h.9v.9h-.9zM97.38 177.02h.9v.9h-.9zM95.57 185.69h.9v.9h-.9zM96.49 178.21h.9v.9h-.9zM93.87 178.04h.9v.9h-.9zM94.84 180.13h.9v.9h-.9zM94.08 185.56h.9v.9h-.9zM91.65 179.89h.9v.9h-.9zM92.9 177.98h.9v.9h-.9zM90.84 179.71h.9v.9h-.9zM97.65 177.65h.9v.9h-.9zM93.5 178.86h.9v.9h-.9zM97.55 177.98h.9v.9h-.9zM92.89 185.98h.9v.9h-.9zM94.44 185.12h.9v.9h-.9zM95.06 179.79h.9v.9h-.9zM91.01 187.26h.9v.9h-.9zM88.03 183.09h.9v.9h-.9zM89.77 184.43h.9v.9h-.9zM90.94 188.18h.9v.9h-.9zM88.54 184.89h.9v.9h-.9zM96 180.95h.9v.9h-.9zM97.28 177.25h.9v.9h-.9zM90.13 188.98h.9v.9h-.9zM94.93 179.47h.9v.9h-.9zM93.78 186.22h.9v.9h-.9zM97.13 177.94h.9v.9h-.9zM91.22 187.1h.9v.9h-.9zM88.45 183.11h.9v.9h-.9zM89.76 183.59h.9v.9h-.9zM90.04 179.19h.9v.9h-.9zM94.91 179.51h.9v.9h-.9zM92.47 185.43h.9v.9h-.9zM93.94 178.69h.9v.9h-.9zM89.64 184.14h.9v.9h-.9zM91.28 187.84h.9v.9h-.9zM90.98 179.99h.9v.9h-.9zM91.03 179.65h.9v.9h-.9zM95.52 179.71h.9v.9h-.9zM89.8 184.05h.9v.9h-.9zM94.4 180.25h.9v.9h-.9zM93.52 185.37h.9v.9h-.9zM91.53 188.34h.9v.9h-.9zM92.27 178.25h.9v.9h-.9zM90.14 179.71h.9v.9h-.9zM94.71 179.3h.9v.9h-.9zM93.6 185.47h.9v.9h-.9zM90.56 180.06h.9v.9h-.9zM90.45 188.68h.9v.9h-.9zM90.52 187.88h.9v.9h-.9zM91.09 179.71h.9v.9h-.9zM88.3 181.85h.9v.9h-.9zM89.97 183.54h.9v.9h-.9zM93.31 186.71h.9v.9h-.9zM97.09 178.76h.9v.9h-.9zM88.18 182.99h.9v.9h-.9zM90.43 180.29h.9v.9h-.9zM96.37 178.37h.9v.9h-.9zM96.41 177.21h.9v.9h-.9zM93.26 178.18h.9v.9h-.9zM90.15 187.06h.9v.9h-.9zM90.15 187.74h.9v.9h-.9zM96.2 177.21h.9v.9h-.9zM94.63 185.73h.9v.9h-.9zM97.53 178.88h.9v.9h-.9zM96.96 177.88h.9v.9h-.9zM90.62 179.81h.9v.9h-.9zM91.89 188.84h.9v.9h-.9zM92.35 186.5h.9v.9h-.9zM89.05 184.4h.9v.9h-.9zM96.69 177.7h.9v.9h-.9zM89.98 182.13h.9v.9h-.9zM92.78 185.33h.9v.9h-.9zM97.06 178.32h.9v.9h-.9zM88.67 183.81h.9v.9h-.9zM95.6 180.92h.9v.9h-.9zM88.58 183.41h.9v.9h-.9zM91.86 179.25h.9v.9h-.9zM89.02 181.23h.9v.9h-.9zM91.81 180.93h.9v.9h-.9zM93.13 178.15h.9v.9h-.9zM93.19 186.53h.9v.9h-.9zM90.72 188.58h.9v.9h-.9zM89.63 183.2h.9v.9h-.9zM94.32 179.4h.9v.9h-.9zM89.29 184.76h.9v.9h-.9zM93.79 178.25h.9v.9h-.9zM91.76 187.65h.9v.9h-.9zM88.18 183.85h.9v.9h-.9zM88.44 184.87h.9v.9h-.9zM90.32 180.76h.9v.9h-.9zM96.09 177.71h.9v.9h-.9zM93.62 177.41h.9v.9h-.9zM90.29 187.22h.9v.9h-.9zM88.93 184.19h.9v.9h-.9zM95.73 186.79h.9v.9h-.9zM95.03 186.47h.9v.9h-.9zM93.55 178.26h.9v.9h-.9zM88.18 182.39h.9v.9h-.9zM95.94 185.27h.9v.9h-.9zM91.93 188.35h.9v.9h-.9zM88.45 182.64h.9v.9h-.9zM93.16 177.88h.9v.9h-.9zM88.76 181.01h.9v.9h-.9zM92.74 186.94h.9v.9h-.9zM93.18 185.27h.9v.9h-.9zM94.51 180.13h.9v.9h-.9zM92.31 177.52h.9v.9h-.9zM90.24 180.98h.9v.9h-.9zM94.92 186.53h.9v.9h-.9zM89.45 182.33h.9v.9h-.9zM95.03 180.06h.9v.9h-.9zM93 185.37h.9v.9h-.9zM91 180.17h.9v.9h-.9zM92.26 185.48h.9v.9h-.9zM90.68 188.94h.9v.9h-.9zM92.48 178.11h.9v.9h-.9zM96.69 177.92h.9v.9h-.9zM94.69 186.05h.9v.9h-.9zM97.33 178.93h.9v.9h-.9zM93.82 177.98h.9v.9h-.9zM88.81 181.58h.9v.9h-.9zM92.78 185.76h.9v.9h-.9zM96.56 178.1h.9v.9h-.9zM91.44 179.86h.9v.9h-.9zM88.1 181.9h.9v.9h-.9zM96.11 178.11h.9v.9h-.9zM94.44 180.29h.9v.9h-.9zM94.78 185.24h.9v.9h-.9zM95.76 186.08h.9v.9h-.9zM90.8 179.55h.9v.9h-.9zM94.97 186.06h.9v.9h-.9zM95.6 181h.9v.9h-.9zM89.17 182.27h.9v.9h-.9zM95.41 179.25h.9v.9h-.9zM93.65 177.08h.9v.9h-.9zM91.55 179.85h.9v.9h-.9zM97.23 178.46h.9v.9h-.9zM89.82 181.24h.9v.9h-.9zM93.5 177.68h.9v.9h-.9zM92.76 177.39h.9v.9h-.9zM94.76 186.46h.9v.9h-.9zM94.26 185.23h.9v.9h-.9zM89.58 182.21h.9v.9h-.9zM97.61 178.5h.9v.9h-.9zM93 186.88h.9v.9h-.9zM91.95 179.46h.9v.9h-.9zM91.39 180.19h.9v.9h-.9zM92.76 186.05h.9v.9h-.9zM94.56 185.5h.9v.9h-.9z" fill="#ccae40"/>
<path d="M95.52 182h.9v.9h-.9zM89.61 185.64h.9v.9h-.9zM95.12 183.21h.9v.9h-.9zM94.43 184.99h.9v.9h-.9zM90.8 182.81h.9v.9h-.9zM94.44 181.7h.9v.9h-.9zM95.62 182.57h.9v.9h-.9zM88.27 185.02h.9v.9h-.9zM93.51 179.69h.9v.9h-.9zM89.92 185.29h.9v.9h-.9zM94.9 182.3h.9v.9h-.9zM91.89 182.18h.9v.9h-.9zM94.79 182.13h.9v.9h-.9zM94.24 182.49h.9v.9h-.9zM94.64 184.57h.9v.9h-.9zM94.93 181.83h.9v.9h-.9zM92.99 180.39h.9v.9h-.9zM95.23 181.1h.9v.9h-.9zM95.48 182.86h.9v.9h-.9zM88.34 185.39h.9v.9h-.9zM92.4 180.2h.9v.9h-.9zM94.81 181.75h.9v.9h-.9zM92.4 180.83h.9v.9h-.9zM88.17 186.06h.9v.9h-.9zM92.77 180.27h.9v.9h-.9zM92.37 179.32h.9v.9h-.9zM91.93 181.21h.9v.9h-.9zM93.32 179.07h.9v.9h-.9zM94.7 181.54h.9v.9h-.9zM93.41 179.18h.9v.9h-.9zM93.72 179.69h.9v.9h-.9zM95.75 183.73h.9v.9h-.9zM91.46 182.36h.9v.9h-.9zM92.6 180.38h.9v.9h-.9zM88.68 185.52h.9v.9h-.9zM89.44 185.06h.9v.9h-.9zM91.95 182.48h.9v.9h-.9zM95.16 181.1h.9v.9h-.9zM95.09 184.44h.9v.9h-.9zM93.39 180.06h.9v.9h-.9zM91.09 181h.9v.9h-.9zM95.88 184.5h.9v.9h-.9zM95.56 181.59h.9v.9h-.9zM88.92 186.36h.9v.9h-.9zM91.01 181.81h.9v.9h-.9zM94.75 184.51h.9v.9h-.9zM93.15 180.6h.9v.9h-.9zM90.2 182.69h.9v.9h-.9zM95.72 182.98h.9v.9h-.9zM94.19 184.12h.9v.9h-.9zM95.51 181.14h.9v.9h-.9zM91.18 182.63h.9v.9h-.9zM93.47 180.62h.9v.9h-.9zM91.36 181.97h.9v.9h-.9zM94.89 184.26h.9v.9h-.9zM91.97 182.02h.9v.9h-.9zM90.89 181.1h.9v.9h-.9zM95.69 182.02h.9v.9h-.9zM93.15 179.15h.9v.9h-.9zM95.41 184.6h.9v.9h-.9zM95.37 183.43h.9v.9h-.9zM94.83 183.25h.9v.9h-.9zM94.47 183.61h.9v.9h-.9zM88.45 185.85h.9v.9h-.9zM90.26 182.33h.9v.9h-.9zM88.98 186.41h.9v.9h-.9zM94.01 181.17h.9v.9h-.9zM93.64 180.32h.9v.9h-.9zM90.02 182.62h.9v.9h-.9zM94.21 181.34h.9v.9h-.9zM94.07 181.43h.9v.9h-.9zM90.3 181.69h.9v.9h-.9zM90.45 182.27h.9v.9h-.9zM95.69 181.72h.9v.9h-.9zM95.66 184.4h.9v.9h-.9zM95.61 184.56h.9v.9h-.9zM95.73 183.62h.9v.9h-.9zM91.59 181.65h.9v.9h-.9zM95.3 183.9h.9v.9h-.9zM88.14 186.8h.9v.9h-.9zM88.44 185.59h.9v.9h-.9zM94.37 182.36h.9v.9h-.9zM91.13 182.49h.9v.9h-.9zM93.44 180.89h.9v.9h-.9zM93.72 179.85h.9v.9h-.9zM91.08 181.27h.9v.9h-.9zM94.91 183.37h.9v.9h-.9zM92.31 180.06h.9v.9h-.9zM89.31 186.36h.9v.9h-.9zM95.46 181.5h.9v.9h-.9zM94.79 183.8h.9v.9h-.9zM94.95 183.32h.9v.9h-.9zM95.72 184.71h.9v.9h-.9zM90.38 181.66h.9v.9h-.9zM91.2 182.37h.9v.9h-.9zM91.83 181.6h.9v.9h-.9zM93.85 180.44h.9v.9h-.9zM92.99 180.07h.9v.9h-.9zM88.62 186.83h.9v.9h-.9zM94.06 183.19h.9v.9h-.9zM95.12 183.07h.9v.9h-.9zM94.14 183.68h.9v.9h-.9zM91.04 182.44h.9v.9h-.9zM92.99 180h.9v.9h-.9zM91.93 181.4h.9v.9h-.9zM94.36 183.71h.9v.9h-.9zM94.58 183.88h.9v.9h-.9zM95.46 184.83h.9v.9h-.9zM90.68 182.38h.9v.9h-.9zM88.53 185.01h.9v.9h-.9zM93.98 179.03h.9v.9h-.9zM88.67 185.78h.9v.9h-.9zM95.2 182.23h.9v.9h-.9zM90.32 182.46h.9v.9h-.9zM93.67 180.03h.9v.9h-.9zM91.4 182.16h.9v.9h-.9zM91.53 182.19h.9v.9h-.9zM95.28 183.47h.9v.9h-.9zM91.67 181.51h.9v.9h-.9zM89.11 186.79h.9v.9h-.9zM89.58 186.56h.9v.9h-.9zM89.89 185.81h.9v.9h-.9zM91.58 181.98h.9v.9h-.9zM92.66 180.25h.9v.9h-.9zM92.96 180.26h.9v.9h-.9zM90.74 181.05h.9v.9h-.9zM89.07 186.15h.9v.9h-.9zM89.41 185.34h.9v.9h-.9zM88.47 186.17h.9v.9h-.9zM95.19 184.84h.9v.9h-.9zM88.7 186.23h.9v.9h-.9zM93.83 179.06h.9v.9h-.9zM94.55 182.02h.9v.9h-.9zM89.9 186.33h.9v.9h-.9zM93.44 179.37h.9v.9h-.9zM88.58 186.45h.9v.9h-.9zM94.72 184.6h.9v.9h-.9zM95.72 184.9h.9v.9h-.9zM94.91 182.2h.9v.9h-.9zM93.74 179.76h.9v.9h-.9zM89.56 185.54h.9v.9h-.9zM95.03 181.01h.9v.9h-.9zM93.55 180.95h.9v.9h-.9zM90.88 181.16h.9v.9h-.9zM95.26 183.64h.9v.9h-.9zM89.98 185.85h.9v.9h-.9zM95.29 181.42h.9v.9h-.9zM94.22 182.38h.9v.9h-.9zM89.23 185.77h.9v.9h-.9zM88.79 185.69h.9v.9h-.9z" fill="#dc8a2c"/>
<path d="M98.61 178.76h.9v.9h-.9zM91.42 192.36h.9v.9h-.9zM97 176.04h.9v.9h-.9zM96.89 185.6h.9v.9h-.9zM85.97 180.26h.9v.9h-.9zM95.6 175.73h.9v.9h-.9zM85.06 183.08h.9v.9h-.9zM90.83 190.17h.9v.9h-.9zM84.49 188.48h.9v.9h-.9zM94.53 176.62h.9v.9h-.9zM84.51 187.89h.9v.9h-.9zM98.5 182.64h.9v.9h-.9zM97.61 186.02h.9v.9h-.9zM84.66 184.33h.9v.9h-.9zM84.29 183.04h.9v.9h-.9zM99.3 183.14h.9v.9h-.9zM101.16 177.99h.9v.9h-.9zM81.22 188.67h.9v.9h-.9zM87.45 180.23h.9v.9h-.9zM84.11 180.09h.9v.9h-.9zM98.45 178.74h.9v.9h-.9zM98.61 183.03h.9v.9h-.9zM95.12 176.84h.9v.9h-.9zM91.18 189.32h.9v.9h-.9zM98.87 176.08h.9v.9h-.9zM95.21 176.1h.9v.9h-.9zM99.11 183.11h.9v.9h-.9zM100.31 176.79h.9v.9h-.9zM87.5 179.05h.9v.9h-.9zM88.43 193.31h.9v.9h-.9zM98.85 175.37h.9v.9h-.9zM94.52 176.76h.9v.9h-.9zM88 178.53h.9v.9h-.9zM80.53 187.71h.9v.9h-.9zM95.53 176.33h.9v.9h-.9zM98.96 184.96h.9v.9h-.9zM100.44 175.58h.9v.9h-.9zM91.13 191.31h.9v.9h-.9zM92.5 175.5h.9v.9h-.9zM98.35 178.23h.9v.9h-.9zM90.92 189.18h.9v.9h-.9zM90.92 190.27h.9v.9h-.9zM85.23 183.61h.9v.9h-.9zM90.96 190.46h.9v.9h-.9zM89.76 177.48h.9v.9h-.9zM98.35 178.28h.9v.9h-.9zM85.51 184.55h.9v.9h-.9zM99.61 181.47h.9v.9h-.9zM96.02 186.54h.9v.9h-.9zM99.79 176.19h.9v.9h-.9zM94.05 176.33h.9v.9h-.9zM99.77 177.56h.9v.9h-.9zM98.97 182.06h.9v.9h-.9zM97.32 185.76h.9v.9h-.9zM90.91 191.27h.9v.9h-.9zM99.78 177.99h.9v.9h-.9zM100.74 175.06h.9v.9h-.9zM101.19 173.94h.9v.9h-.9zM92.24 176.2h.9v.9h-.9zM85.87 188.02h.9v.9h-.9zM98.88 177.73h.9v.9h-.9zM85.12 188.18h.9v.9h-.9zM99.28 182.2h.9v.9h-.9zM98.46 181.36h.9v.9h-.9zM97.62 185.23h.9v.9h-.9zM100.17 177.5h.9v.9h-.9zM101.09 176.01h.9v.9h-.9zM100.65 176.55h.9v.9h-.9zM84.55 187.72h.9v.9h-.9zM100.2 177.78h.9v.9h-.9zM86 188.93h.9v.9h-.9zM86.74 179.74h.9v.9h-.9zM100.25 175.3h.9v.9h-.9zM85.63 188.81h.9v.9h-.9zM93.66 175.48h.9v.9h-.9zM93.18 176.6h.9v.9h-.9zM90.07 192.72h.9v.9h-.9zM89.99 178.1h.9v.9h-.9zM89.18 178.86h.9v.9h-.9zM85.5 184.88h.9v.9h-.9zM97.95 175.51h.9v.9h-.9zM99 176.52h.9v.9h-.9zM85.26 180.68h.9v.9h-.9zM88.35 177.13h.9v.9h-.9zM101.4 176.76h.9v.9h-.9zM88.89 194.73h.9v.9h-.9zM88.49 178.64h.9v.9h-.9zM100.7 178.18h.9v.9h-.9zM90.64 192.14h.9v.9h-.9zM99.48 176.62h.9v.9h-.9zM89.37 177.47h.9v.9h-.9zM98.3 184.43h.9v.9h-.9zM87.34 180.92h.9v.9h-.9zM84.54 188.52h.9v.9h-.9zM100.69 174.03h.9v.9h-.9zM88.72 193.31h.9v.9h-.9zM88.45 194.92h.9v.9h-.9zM101.57 178.79h.9v.9h-.9zM93.54 176.76h.9v.9h-.9zM99.26 181.7h.9v.9h-.9zM98.06 183h.9v.9h-.9zM97.87 175.98h.9v.9h-.9zM80.73 187.68h.9v.9h-.9zM98.96 175.64h.9v.9h-.9zM99.78 175.55h.9v.9h-.9zM90.49 190.18h.9v.9h-.9zM87.44 179.13h.9v.9h-.9zM96.86 175.61h.9v.9h-.9zM101.53 176.55h.9v.9h-.9zM89.3 194.1h.9v.9h-.9zM91.89 191.94h.9v.9h-.9zM97.26 186.34h.9v.9h-.9zM94.16 175.61h.9v.9h-.9zM100.11 173.51h.9v.9h-.9zM88.91 177.63h.9v.9h-.9zM98.25 177.45h.9v.9h-.9zM98.32 183.22h.9v.9h-.9zM88.41 193.87h.9v.9h-.9zM101.95 174.53h.9v.9h-.9zM91.96 192.35h.9v.9h-.9zM90.06 191.28h.9v.9h-.9zM101.63 173.56h.9v.9h-.9zM98.72 182.76h.9v.9h-.9zM99.39 175.72h.9v.9h-.9zM95.94 175.69h.9v.9h-.9zM88.67 177.96h.9v.9h-.9zM97.92 176.53h.9v.9h-.9zM84.1 187.46h.9v.9h-.9zM100.44 175.05h.9v.9h-.9zM85.98 183.23h.9v.9h-.9zM97.22 175.27h.9v.9h-.9zM96.85 185.2h.9v.9h-.9zM99.09 181.79h.9v.9h-.9zM80.5 188.88h.9v.9h-.9zM93.9 176.69h.9v.9h-.9zM99.92 177.8h.9v.9h-.9zM91.5 192.65h.9v.9h-.9zM81.83 187.5h.9v.9h-.9zM85.83 179.93h.9v.9h-.9zM99.14 183.17h.9v.9h-.9zM101.33 178.19h.9v.9h-.9zM84.77 180.26h.9v.9h-.9zM81.42 188.61h.9v.9h-.9zM84.21 180.09h.9v.9h-.9zM87.29 180.72h.9v.9h-.9zM100.25 174.52h.9v.9h-.9zM51.76 230.97h.9v.9h-.9zM56.75 233.93h.9v.9h-.9zM50.53 230.34h.9v.9h-.9zM55.07 225.44h.9v.9h-.9zM64.21 221.51h.9v.9h-.9zM56.32 231.53h.9v.9h-.9zM57.85 232.38h.9v.9h-.9zM65.81 221.59h.9v.9h-.9zM65.74 221.27h.9v.9h-.9zM67.6 224.87h.9v.9h-.9zM64.98 221.02h.9v.9h-.9zM54.96 226.26h.9v.9h-.9zM66.06 224.18h.9v.9h-.9zM54.72 225.74h.9v.9h-.9zM63.73 225.23h.9v.9h-.9zM61.34 231.75h.9v.9h-.9zM66.07 224.68h.9v.9h-.9zM60.48 231.49h.9v.9h-.9zM64.02 229.2h.9v.9h-.9zM53.87 228.96h.9v.9h-.9zM66.62 220.94h.9v.9h-.9zM62.07 225.01h.9v.9h-.9zM61.51 232.83h.9v.9h-.9zM64.51 230.98h.9v.9h-.9zM64.22 222h.9v.9h-.9zM70.78 221.59h.9v.9h-.9zM64.8 222.9h.9v.9h-.9zM56.01 234.29h.9v.9h-.9zM49.66 231.02h.9v.9h-.9zM67.02 220.97h.9v.9h-.9zM54.79 226.54h.9v.9h-.9zM57.39 231.8h.9v.9h-.9zM68.5 223.09h.9v.9h-.9zM68.23 224.68h.9v.9h-.9zM55.71 225.55h.9v.9h-.9zM49.89 231.27h.9v.9h-.9zM51.87 234.29h.9v.9h-.9zM53.95 227.05h.9v.9h-.9zM62.25 233.32h.9v.9h-.9zM67.02 225.01h.9v.9h-.9zM52.34 228.49h.9v.9h-.9zM66.35 225.48h.9v.9h-.9zM51.86 229.39h.9v.9h-.9zM57.09 231.75h.9v.9h-.9zM49.43 232.61h.9v.9h-.9zM66.63 223.13h.9v.9h-.9zM56.89 233.55h.9v.9h-.9zM52.15 227.62h.9v.9h-.9zM60.44 231.19h.9v.9h-.9zM51.64 228.61h.9v.9h-.9zM66.31 223.12h.9v.9h-.9zM53.7 227.14h.9v.9h-.9zM57.75 232.07h.9v.9h-.9zM67.41 225.64h.9v.9h-.9zM50.18 228.34h.9v.9h-.9zM68.14 224.4h.9v.9h-.9zM62.47 226.79h.9v.9h-.9zM51.12 234.28h.9v.9h-.9zM63.31 225.43h.9v.9h-.9zM56.34 234.16h.9v.9h-.9zM61.29 233h.9v.9h-.9zM65.25 229.86h.9v.9h-.9zM56.27 234.68h.9v.9h-.9zM68.49 229.32h.9v.9h-.9zM51.14 230.38h.9v.9h-.9zM64.61 230.23h.9v.9h-.9zM68.71 223.94h.9v.9h-.9zM50.75 228.81h.9v.9h-.9zM72.47 219.88h.9v.9h-.9zM72.48 224.52h.9v.9h-.9zM57.1 232.6h.9v.9h-.9zM50.43 233.02h.9v.9h-.9zM62.2 218.2h.9v.9h-.9zM66.35 226.87h.9v.9h-.9zM61.84 219.38h.9v.9h-.9zM57.11 231.1h.9v.9h-.9zM73.84 223.21h.9v.9h-.9zM51.76 230.9h.9v.9h-.9zM61.06 220.54h.9v.9h-.9zM50.76 233.88h.9v.9h-.9zM62.44 234.66h.9v.9h-.9zM68.75 230.24h.9v.9h-.9zM59.71 222.45h.9v.9h-.9zM63.18 219.7h.9v.9h-.9zM67.22 220.51h.9v.9h-.9zM50.21 230.44h.9v.9h-.9zM67.49 223.45h.9v.9h-.9zM67.07 225.74h.9v.9h-.9zM49.67 232.44h.9v.9h-.9zM50.08 227.88h.9v.9h-.9zM48.87 231.75h.9v.9h-.9zM68.17 223.72h.9v.9h-.9zM69.3 233.07h.9v.9h-.9zM65.56 221.19h.9v.9h-.9zM51.9 233.27h.9v.9h-.9zM62.06 218.97h.9v.9h-.9zM65.78 216.35h.9v.9h-.9zM51.26 228.96h.9v.9h-.9zM57.19 233.61h.9v.9h-.9zM62.17 225.94h.9v.9h-.9zM58.66 221.11h.9v.9h-.9zM66.03 215.15h.9v.9h-.9zM63.13 233.45h.9v.9h-.9zM63.12 219.4h.9v.9h-.9zM67.75 215.97h.9v.9h-.9zM69.98 230.65h.9v.9h-.9zM64.24 222.96h.9v.9h-.9zM73.4 224.09h.9v.9h-.9zM66.96 215.34h.9v.9h-.9zM76.61 220.58h.9v.9h-.9zM67.43 215.65h.9v.9h-.9zM73.88 224.67h.9v.9h-.9zM78 231.55h.9v.9h-.9zM60.35 219.58h.9v.9h-.9zM52.09 227.12h.9v.9h-.9zM67.32 226.37h.9v.9h-.9zM51.84 227.24h.9v.9h-.9zM51.68 229.27h.9v.9h-.9zM60.6 219.63h.9v.9h-.9zM52.32 227.92h.9v.9h-.9zM51.97 233.75h.9v.9h-.9zM58.46 222.43h.9v.9h-.9zM51.17 229.27h.9v.9h-.9zM80.95 213.78h.9v.9h-.9zM56.35 233.22h.9v.9h-.9zM48.84 231.43h.9v.9h-.9zM67.77 225.08h.9v.9h-.9zM63.55 234.52h.9v.9h-.9zM54.07 226.9h.9v.9h-.9zM56.45 232.11h.9v.9h-.9zM80.9 213.73h.9v.9h-.9zM71.79 222.07h.9v.9h-.9zM76.75 219.85h.9v.9h-.9zM63.75 225.74h.9v.9h-.9zM63.06 217.05h.9v.9h-.9zM67.78 224.87h.9v.9h-.9zM60.84 231.15h.9v.9h-.9zM76.98 220.15h.9v.9h-.9zM69.35 233.52h.9v.9h-.9zM55.75 225.39h.9v.9h-.9zM59.88 222.72h.9v.9h-.9zM87.65 212.9h.9v.9h-.9zM58.45 222.81h.9v.9h-.9zM68.46 230.76h.9v.9h-.9zM67.22 220.81h.9v.9h-.9zM66.5 220.18h.9v.9h-.9zM72.47 223.5h.9v.9h-.9zM70.63 222.63h.9v.9h-.9zM60.23 231.78h.9v.9h-.9zM62.09 217.39h.9v.9h-.9zM51.71 230.77h.9v.9h-.9zM71.87 222.72h.9v.9h-.9zM60.17 219.32h.9v.9h-.9zM50.46 233.72h.9v.9h-.9zM69.1 223.15h.9v.9h-.9zM62.09 234.25h.9v.9h-.9zM98.2 230.01h.9v.9h-.9zM98.99 226.43h.9v.9h-.9zM68.26 234.16h.9v.9h-.9zM97.25 233.56h.9v.9h-.9zM62.5 226.74h.9v.9h-.9zM80.63 235.24h.9v.9h-.9zM76.92 219.47h.9v.9h-.9zM77.44 220.08h.9v.9h-.9zM81.18 236.61h.9v.9h-.9zM64.62 216.99h.9v.9h-.9zM99.59 230.67h.9v.9h-.9zM81 235.69h.9v.9h-.9zM80.4 236.49h.9v.9h-.9zM71.48 222.13h.9v.9h-.9zM99.94 219.09h.9v.9h-.9zM81.12 235.61h.9v.9h-.9zM68.28 234.1h.9v.9h-.9zM64.22 230.87h.9v.9h-.9zM67.06 226.39h.9v.9h-.9zM72.16 219.16h.9v.9h-.9zM73.78 219.21h.9v.9h-.9zM98.51 220.98h.9v.9h-.9zM63.79 218.36h.9v.9h-.9zM81.11 236.09h.9v.9h-.9zM78.7 232.1h.9v.9h-.9zM67.25 225.01h.9v.9h-.9zM77.84 220.67h.9v.9h-.9zM68.82 234.38h.9v.9h-.9zM62.09 233.33h.9v.9h-.9zM78.34 232.14h.9v.9h-.9zM73.91 219.08h.9v.9h-.9zM63.8 219.1h.9v.9h-.9zM69.2 233.48h.9v.9h-.9zM77.12 220.4h.9v.9h-.9zM68.35 223.51h.9v.9h-.9zM99.61 229.42h.9v.9h-.9zM99.85 220.44h.9v.9h-.9zM94.63 222.05h.9v.9h-.9zM78.89 232.07h.9v.9h-.9zM77.5 219.75h.9v.9h-.9zM62.73 226.71h.9v.9h-.9zM94.2 222.48h.9v.9h-.9zM65.15 216.46h.9v.9h-.9zM98.56 226.66h.9v.9h-.9zM94.96 221.29h.9v.9h-.9zM98.74 226.56h.9v.9h-.9zM66.62 220.03h.9v.9h-.9zM66.84 216.31h.9v.9h-.9zM80.89 236.57h.9v.9h-.9zM98.66 229.75h.9v.9h-.9zM70.52 221.38h.9v.9h-.9zM67.51 220.24h.9v.9h-.9zM62.26 217.91h.9v.9h-.9zM98.21 230.28h.9v.9h-.9zM62.21 219.96h.9v.9h-.9zM77.46 219.76h.9v.9h-.9zM68.18 233.65h.9v.9h-.9zM99.94 219.31h.9v.9h-.9zM64.57 216.07h.9v.9h-.9zM78.47 231.98h.9v.9h-.9zM67.54 224h.9v.9h-.9zM78.15 231.25h.9v.9h-.9zM67.19 223.8h.9v.9h-.9zM94.44 221.82h.9v.9h-.9zM95.37 221.89h.9v.9h-.9zM73.32 220.15h.9v.9h-.9zM62.14 234.9h.9v.9h-.9zM68.68 233.72h.9v.9h-.9zM72.82 224.82h.9v.9h-.9zM96.61 234.03h.9v.9h-.9zM64 219.05h.9v.9h-.9zM73.02 219.79h.9v.9h-.9zM63.41 234.15h.9v.9h-.9zM99.1 219.99h.9v.9h-.9zM110.92 227.63h.9v.9h-.9zM107 227.43h.9v.9h-.9zM111.58 231.1h.9v.9h-.9zM102.61 227.33h.9v.9h-.9zM111.67 228.49h.9v.9h-.9zM111.92 231.55h.9v.9h-.9zM109.15 232.38h.9v.9h-.9zM111.91 228.34h.9v.9h-.9zM110.68 231.54h.9v.9h-.9zM108.32 227.31h.9v.9h-.9zM111.3 230.32h.9v.9h-.9zM108.49 227.87h.9v.9h-.9zM106.65 227.3h.9v.9h-.9zM104.61 230.26h.9v.9h-.9zM110.86 232.33h.9v.9h-.9zM108.76 232.38h.9v.9h-.9zM108.27 232.75h.9v.9h-.9zM111.25 231.15h.9v.9h-.9zM106.7 226.85h.9v.9h-.9zM105.24 222.74h.9v.9h-.9zM111.57 228.51h.9v.9h-.9zM108.26 231.04h.9v.9h-.9zM106.35 227.6h.9v.9h-.9zM107.39 226.41h.9v.9h-.9zM99.51 226.57h.9v.9h-.9zM107.61 227.65h.9v.9h-.9zM110.51 229.7h.9v.9h-.9zM109.66 227.8h.9v.9h-.9zM109.51 226.59h.9v.9h-.9zM105.97 227.73h.9v.9h-.9zM102.35 228.76h.9v.9h-.9zM105.7 228.4h.9v.9h-.9zM108.51 221.24h.9v.9h-.9zM111.36 231.9h.9v.9h-.9zM103.19 227.13h.9v.9h-.9zM108.1 225.51h.9v.9h-.9zM109.29 222.42h.9v.9h-.9zM105.96 230.66h.9v.9h-.9zM109.07 222.19h.9v.9h-.9zM105.89 227.37h.9v.9h-.9zM108.38 228.31h.9v.9h-.9zM105.78 222.21h.9v.9h-.9zM107.49 225.16h.9v.9h-.9zM109.7 227.28h.9v.9h-.9zM110.57 230.32h.9v.9h-.9zM104.23 221.46h.9v.9h-.9zM105.34 227.93h.9v.9h-.9zM102.25 228.35h.9v.9h-.9zM107.6 228.74h.9v.9h-.9zM110.2 231.77h.9v.9h-.9zM105.91 221.75h.9v.9h-.9zM108.14 231.16h.9v.9h-.9zM108.6 226.41h.9v.9h-.9zM108.53 227.33h.9v.9h-.9zM108.11 227.41h.9v.9h-.9zM110.63 229.81h.9v.9h-.9zM110.26 229.58h.9v.9h-.9zM109.89 231.23h.9v.9h-.9zM104.35 221.27h.9v.9h-.9zM103.63 228.05h.9v.9h-.9zM108.97 222.93h.9v.9h-.9zM109.31 222.35h.9v.9h-.9zM106.87 228.08h.9v.9h-.9zM107.55 228.05h.9v.9h-.9zM106.92 227.73h.9v.9h-.9zM109.38 225.11h.9v.9h-.9zM111.99 229.51h.9v.9h-.9zM109.44 225.38h.9v.9h-.9zM103.56 227.28h.9v.9h-.9zM110.68 228.42h.9v.9h-.9zM110.23 229.91h.9v.9h-.9zM109.77 228.66h.9v.9h-.9zM110.08 228.44h.9v.9h-.9zM104.55 228.31h.9v.9h-.9zM106.82 226.72h.9v.9h-.9zM110.57 231.7h.9v.9h-.9zM108.89 227.83h.9v.9h-.9zM98.64 225.77h.9v.9h-.9zM109.6 231.96h.9v.9h-.9zM105.43 221.13h.9v.9h-.9zM98 229.13h.9v.9h-.9zM104.42 222.48h.9v.9h-.9zM106.68 225.85h.9v.9h-.9zM109.78 221.31h.9v.9h-.9zM98.84 229.54h.9v.9h-.9zM105.83 229.02h.9v.9h-.9zM111.22 227.27h.9v.9h-.9zM96.68 234.61h.9v.9h-.9zM109.82 221.35h.9v.9h-.9zM104.21 230.65h.9v.9h-.9zM99.04 226.49h.9v.9h-.9zM111.02 229.55h.9v.9h-.9zM108.16 231.27h.9v.9h-.9zM109.93 221.27h.9v.9h-.9zM106.29 225.15h.9v.9h-.9zM109.01 225.63h.9v.9h-.9zM97.38 233.15h.9v.9h-.9zM104.08 228.05h.9v.9h-.9zM96.52 234.58h.9v.9h-.9zM110.72 228.14h.9v.9h-.9zM103.01 228.76h.9v.9h-.9zM105.56 229.93h.9v.9h-.9zM86.84 211.78h.9v.9h-.9zM80.25 213.39h.9v.9h-.9zM80.07 212.97h.9v.9h-.9zM87.08 211.12h.9v.9h-.9zM81.13 212.38h.9v.9h-.9zM81.98 212.36h.9v.9h-.9zM80.75 212.12h.9v.9h-.9zM87.25 212.8h.9v.9h-.9zM81.05 212.26h.9v.9h-.9zM86.5 211.92h.9v.9h-.9zM80.41 214.16h.9v.9h-.9zM81.31 214.42h.9v.9h-.9zM97.44 234.25h.9v.9h-.9zM80.94 211.96h.9v.9h-.9zM52.26 228.21h.9v.9h-.9zM87.55 212.46h.9v.9h-.9zM69.63 229.79h.9v.9h-.9zM65.33 215.58h.9v.9h-.9zM68.81 230.64h.9v.9h-.9zM81.62 213.15h.9v.9h-.9zM110.39 227.77h.9v.9h-.9zM63.42 217.93h.9v.9h-.9zM57.72 231.75h.9v.9h-.9zM95.72 222.18h.9v.9h-.9zM98.64 220.32h.9v.9h-.9zM54.41 226.53h.9v.9h-.9zM65.86 230.3h.9v.9h-.9zM105.43 229.25h.9v.9h-.9zM67.7 215.3h.9v.9h-.9zM61.93 220.07h.9v.9h-.9zM66.49 220.23h.9v.9h-.9zM65.29 215.99h.9v.9h-.9zM62.12 226.04h.9v.9h-.9zM59.58 221.38h.9v.9h-.9zM63.17 220.19h.9v.9h-.9z" fill="#909bc6"/>
<path d="M85.23 190.34h.9v.9h-.9zM91.56 176.45h.9v.9h-.9zM94.79 189.91h.9v.9h-.9zM102.78 181.51h.9v.9h-.9zM86.58 191.83h.9v.9h-.9zM99.02 174.68h.9v.9h-.9zM84.08 181.92h.9v.9h-.9zM84.14 189.06h.9v.9h-.9zM83.44 185.73h.9v.9h-.9zM85.1 192.16h.9v.9h-.9zM91.33 175.71h.9v.9h-.9zM102.8 179.72h.9v.9h-.9zM103 176.13h.9v.9h-.9zM100.66 180.63h.9v.9h-.9zM82.29 188.84h.9v.9h-.9zM97.76 188.95h.9v.9h-.9zM82.95 191.39h.9v.9h-.9zM82.8 186.29h.9v.9h-.9zM85.13 182.22h.9v.9h-.9zM96.43 174.99h.9v.9h-.9zM96.9 174.86h.9v.9h-.9zM81.76 189.83h.9v.9h-.9zM84.92 189.37h.9v.9h-.9zM86.49 191.76h.9v.9h-.9zM84.91 182.59h.9v.9h-.9zM88.44 192.8h.9v.9h-.9zM102.41 181.22h.9v.9h-.9zM102.25 174.55h.9v.9h-.9zM85.79 192.67h.9v.9h-.9zM84.6 191.33h.9v.9h-.9zM99.6 185.51h.9v.9h-.9zM83.8 192.23h.9v.9h-.9zM93.14 190.2h.9v.9h-.9zM96.22 187.88h.9v.9h-.9zM87.37 196.19h.9v.9h-.9zM88.19 176.64h.9v.9h-.9zM100.73 181.05h.9v.9h-.9zM86.65 191.12h.9v.9h-.9zM85.59 181.24h.9v.9h-.9zM95.54 174.06h.9v.9h-.9zM91.27 175.75h.9v.9h-.9zM81.85 189.22h.9v.9h-.9zM101.03 179.17h.9v.9h-.9zM93.12 189.22h.9v.9h-.9zM82.65 187.25h.9v.9h-.9zM95.61 174.47h.9v.9h-.9zM85.73 190.35h.9v.9h-.9zM81.32 189.46h.9v.9h-.9zM102.31 173.67h.9v.9h-.9zM100.47 181.19h.9v.9h-.9zM95.24 192.86h.9v.9h-.9zM97.5 174.41h.9v.9h-.9zM84.63 192.48h.9v.9h-.9zM88.34 176.57h.9v.9h-.9zM93.2 191.16h.9v.9h-.9zM95.71 191.61h.9v.9h-.9zM95.3 172.75h.9v.9h-.9zM87.45 192.74h.9v.9h-.9zM100.13 179.46h.9v.9h-.9zM98.98 188.51h.9v.9h-.9zM85.81 191.75h.9v.9h-.9zM94.35 174.09h.9v.9h-.9zM82.02 187.36h.9v.9h-.9zM84.88 181.1h.9v.9h-.9zM98.39 187.95h.9v.9h-.9zM102.39 176h.9v.9h-.9zM93.28 189.09h.9v.9h-.9zM83.71 186.36h.9v.9h-.9zM102.54 180.78h.9v.9h-.9zM89.42 192.27h.9v.9h-.9zM91.03 176.79h.9v.9h-.9zM87.77 191.07h.9v.9h-.9zM94.43 190.14h.9v.9h-.9zM95.31 191.17h.9v.9h-.9zM103.95 180.65h.9v.9h-.9zM98.03 185.92h.9v.9h-.9zM95.62 172.17h.9v.9h-.9zM95.98 172.78h.9v.9h-.9zM98.82 173.79h.9v.9h-.9zM108.36 172.72h.9v.9h-.9zM92.18 191.99h.9v.9h-.9zM99.86 170.38h.9v.9h-.9zM92.91 189.39h.9v.9h-.9zM102.68 181.76h.9v.9h-.9zM97.81 188.93h.9v.9h-.9zM86.36 195.38h.9v.9h-.9zM86.79 178.04h.9v.9h-.9zM75.68 193.48h.9v.9h-.9zM102.63 181.22h.9v.9h-.9zM99.21 173.29h.9v.9h-.9zM96.03 173.95h.9v.9h-.9zM86.86 197.4h.9v.9h-.9zM89.26 191.33h.9v.9h-.9zM95.44 189.97h.9v.9h-.9zM101.79 181.42h.9v.9h-.9zM93.79 189.6h.9v.9h-.9zM75.39 193.52h.9v.9h-.9zM87.53 195.24h.9v.9h-.9zM84.3 193.64h.9v.9h-.9zM103.87 179.81h.9v.9h-.9zM98.13 187.16h.9v.9h-.9zM82.98 188.35h.9v.9h-.9zM98.77 188.22h.9v.9h-.9zM105.45 180.37h.9v.9h-.9zM94.91 191.61h.9v.9h-.9zM84.46 193.29h.9v.9h-.9zM98.9 170.24h.9v.9h-.9zM88.98 175.82h.9v.9h-.9zM93.91 192.23h.9v.9h-.9zM86.6 197.33h.9v.9h-.9zM102.11 172.44h.9v.9h-.9zM99.12 170.81h.9v.9h-.9zM108.47 171.79h.9v.9h-.9zM103.58 171.38h.9v.9h-.9zM86.05 178.65h.9v.9h-.9zM108.63 172.6h.9v.9h-.9zM81.55 198.91h.9v.9h-.9zM99.96 188.62h.9v.9h-.9zM83.29 191.06h.9v.9h-.9zM95.45 189.59h.9v.9h-.9zM74.19 194.54h.9v.9h-.9zM103.92 172.59h.9v.9h-.9zM81.88 193.76h.9v.9h-.9zM83.5 186.77h.9v.9h-.9zM81.99 193.67h.9v.9h-.9zM100.06 180.83h.9v.9h-.9zM97.75 173.44h.9v.9h-.9zM85.84 193.93h.9v.9h-.9zM85.67 199.08h.9v.9h-.9zM86.44 177.04h.9v.9h-.9zM81.83 189.04h.9v.9h-.9zM80.95 194.73h.9v.9h-.9zM98.95 186.66h.9v.9h-.9zM103.46 179.14h.9v.9h-.9zM103.1 173.11h.9v.9h-.9zM100.88 182.47h.9v.9h-.9zM103.2 176.87h.9v.9h-.9zM100.32 181.64h.9v.9h-.9zM92.05 191.02h.9v.9h-.9zM104.47 180.73h.9v.9h-.9zM104.82 179.08h.9v.9h-.9zM97.47 187.49h.9v.9h-.9zM58.7 224.08h.9v.9h-.9zM55.99 224.7h.9v.9h-.9zM48.69 230.65h.9v.9h-.9zM58.38 235.77h.9v.9h-.9zM53.38 226.35h.9v.9h-.9zM59.89 220.97h.9v.9h-.9zM55.71 233.65h.9v.9h-.9zM54.65 224.93h.9v.9h-.9zM61.3 233.36h.9v.9h-.9zM48.1 230.81h.9v.9h-.9zM54.66 233.41h.9v.9h-.9zM60.55 221.37h.9v.9h-.9zM49.89 234.71h.9v.9h-.9zM55.26 235.36h.9v.9h-.9zM45.53 234.09h.9v.9h-.9zM62.99 232.59h.9v.9h-.9zM55.99 235.19h.9v.9h-.9zM65.1 233.2h.9v.9h-.9zM53.74 224.97h.9v.9h-.9zM60.3 233.64h.9v.9h-.9zM55.35 236.86h.9v.9h-.9zM65.73 220.2h.9v.9h-.9zM57.36 226.74h.9v.9h-.9zM55.1 233.41h.9v.9h-.9zM52.11 235.5h.9v.9h-.9zM64.44 231.57h.9v.9h-.9zM51.48 226.73h.9v.9h-.9zM51.99 238.26h.9v.9h-.9zM53.45 233.33h.9v.9h-.9zM53.75 234.68h.9v.9h-.9zM58.12 234.91h.9v.9h-.9zM48.95 233.57h.9v.9h-.9zM50.82 225.63h.9v.9h-.9zM71.32 228.86h.9v.9h-.9zM53.42 226.73h.9v.9h-.9zM60.89 221.04h.9v.9h-.9zM61.71 222.74h.9v.9h-.9zM56.36 226.31h.9v.9h-.9zM59.39 223.47h.9v.9h-.9zM61.79 233.66h.9v.9h-.9zM48.08 233.49h.9v.9h-.9zM45.02 233.39h.9v.9h-.9zM56.1 225.46h.9v.9h-.9zM71.23 226.49h.9v.9h-.9zM53.01 234.78h.9v.9h-.9zM60.49 221.68h.9v.9h-.9zM66.05 230.91h.9v.9h-.9zM59.61 224.4h.9v.9h-.9zM49.28 234.58h.9v.9h-.9zM54.15 233.76h.9v.9h-.9zM44.7 231.3h.9v.9h-.9zM62.06 231.58h.9v.9h-.9zM70.99 224.91h.9v.9h-.9zM54.48 233.52h.9v.9h-.9zM53.05 225.46h.9v.9h-.9zM58.08 233.72h.9v.9h-.9zM66.29 221.37h.9v.9h-.9zM65.5 219.76h.9v.9h-.9zM68.86 220.48h.9v.9h-.9zM60.55 217.66h.9v.9h-.9zM47.04 238.62h.9v.9h-.9zM64.51 231.55h.9v.9h-.9zM54.94 235.63h.9v.9h-.9zM52.56 235.61h.9v.9h-.9zM70.56 223.08h.9v.9h-.9zM59.43 224.74h.9v.9h-.9zM52.05 225.91h.9v.9h-.9zM61.47 234.9h.9v.9h-.9zM75.44 238.86h.9v.9h-.9zM69.06 222.05h.9v.9h-.9zM72.68 230.31h.9v.9h-.9zM45.04 233.18h.9v.9h-.9zM71.66 217.04h.9v.9h-.9zM75.22 227.59h.9v.9h-.9zM55.4 221.54h.9v.9h-.9zM47.32 237.4h.9v.9h-.9zM67.39 218.25h.9v.9h-.9zM76.85 221.2h.9v.9h-.9zM74.01 216.4h.9v.9h-.9zM83.27 209.71h.9v.9h-.9zM70.88 216.49h.9v.9h-.9zM63.95 213.26h.9v.9h-.9zM68.91 232.55h.9v.9h-.9zM70.44 232.71h.9v.9h-.9zM64.93 219.93h.9v.9h-.9zM71.34 226.05h.9v.9h-.9zM64.83 234.52h.9v.9h-.9zM59.77 235.67h.9v.9h-.9zM47.7 238.09h.9v.9h-.9zM45.36 231.58h.9v.9h-.9zM77.48 229.3h.9v.9h-.9zM70.78 218.75h.9v.9h-.9zM51.66 225.09h.9v.9h-.9zM69.23 219.72h.9v.9h-.9zM67.55 222.35h.9v.9h-.9zM78.66 220.74h.9v.9h-.9zM85.56 215.08h.9v.9h-.9zM66.74 232.92h.9v.9h-.9zM65.87 232.09h.9v.9h-.9zM69.18 231.26h.9v.9h-.9zM73.24 231.66h.9v.9h-.9zM64.02 234.11h.9v.9h-.9zM66.2 221.25h.9v.9h-.9zM66.79 229.12h.9v.9h-.9zM88.33 229.63h.9v.9h-.9zM44.41 234.98h.9v.9h-.9zM61.31 217.46h.9v.9h-.9zM82.11 221.16h.9v.9h-.9zM72.59 212.73h.9v.9h-.9zM76.93 228.49h.9v.9h-.9zM76.07 231.24h.9v.9h-.9zM53.7 223.46h.9v.9h-.9zM49.37 229.98h.9v.9h-.9zM73.4 235h.9v.9h-.9zM71.63 212.53h.9v.9h-.9zM61.26 221.2h.9v.9h-.9zM80.61 225.02h.9v.9h-.9zM71.45 217.62h.9v.9h-.9zM64.89 232.89h.9v.9h-.9zM65.05 236.03h.9v.9h-.9zM63.69 232.51h.9v.9h-.9zM77.85 227.29h.9v.9h-.9zM55.16 221.53h.9v.9h-.9zM53.71 235.97h.9v.9h-.9zM64.43 232.36h.9v.9h-.9zM77.8 228.31h.9v.9h-.9zM79.32 220.57h.9v.9h-.9zM72.49 222.27h.9v.9h-.9zM59.7 220.16h.9v.9h-.9zM75.9 225.01h.9v.9h-.9zM66.33 231.64h.9v.9h-.9zM76.01 228.08h.9v.9h-.9zM56.21 225.43h.9v.9h-.9zM54.28 224.01h.9v.9h-.9zM71.74 215.73h.9v.9h-.9zM81.51 221.76h.9v.9h-.9zM56.12 225.17h.9v.9h-.9zM62.56 215.84h.9v.9h-.9zM51.93 238.11h.9v.9h-.9zM71.09 224.91h.9v.9h-.9zM58.18 234.51h.9v.9h-.9zM50.64 237.92h.9v.9h-.9zM55.08 218.57h.9v.9h-.9zM48.42 233.34h.9v.9h-.9zM70.72 223.74h.9v.9h-.9zM61.45 234.68h.9v.9h-.9zM48.96 230.15h.9v.9h-.9zM50.26 237.61h.9v.9h-.9zM76.39 221.64h.9v.9h-.9zM74.39 228.65h.9v.9h-.9zM55.92 222.72h.9v.9h-.9zM90.39 208.15h.9v.9h-.9zM68.73 228.46h.9v.9h-.9zM59.53 236.48h.9v.9h-.9zM63.22 238.02h.9v.9h-.9zM69.58 218.71h.9v.9h-.9zM63.19 216.62h.9v.9h-.9zM96.53 227.99h.9v.9h-.9zM99.4 232.76h.9v.9h-.9zM79.69 219.49h.9v.9h-.9zM92.17 237.83h.9v.9h-.9zM62.83 216.24h.9v.9h-.9zM93.43 228.71h.9v.9h-.9zM66.2 217.57h.9v.9h-.9zM80.67 231.49h.9v.9h-.9zM75.44 225.25h.9v.9h-.9zM78.59 222.1h.9v.9h-.9zM63.48 236.34h.9v.9h-.9zM67.28 230.17h.9v.9h-.9zM90.08 237.32h.9v.9h-.9zM93.45 237.25h.9v.9h-.9zM96.06 217.62h.9v.9h-.9zM96.85 230.88h.9v.9h-.9zM65.24 235.21h.9v.9h-.9zM87.77 219.38h.9v.9h-.9zM66.75 218.97h.9v.9h-.9zM89.7 236.72h.9v.9h-.9zM96.53 236.3h.9v.9h-.9zM89.55 235.88h.9v.9h-.9zM90.2 222.94h.9v.9h-.9zM95.46 219.31h.9v.9h-.9zM74.99 237.01h.9v.9h-.9zM86.36 233.95h.9v.9h-.9zM77.21 231.66h.9v.9h-.9zM81.02 226.44h.9v.9h-.9zM81.38 226.86h.9v.9h-.9zM92.97 223.71h.9v.9h-.9zM65 233.32h.9v.9h-.9zM68.43 228.46h.9v.9h-.9zM90.72 223.56h.9v.9h-.9zM74.72 225.11h.9v.9h-.9zM97.69 237.31h.9v.9h-.9zM80.16 227.14h.9v.9h-.9zM95.84 219.25h.9v.9h-.9zM63 237.05h.9v.9h-.9zM96.87 227.65h.9v.9h-.9zM71.65 231.37h.9v.9h-.9zM80.61 228.63h.9v.9h-.9zM95.63 227.99h.9v.9h-.9zM84.5 220.66h.9v.9h-.9zM94.63 228.86h.9v.9h-.9zM84.49 219.23h.9v.9h-.9zM96.43 224.51h.9v.9h-.9zM75.94 216.01h.9v.9h-.9zM73.28 230.18h.9v.9h-.9zM72.89 222.24h.9v.9h-.9zM82.71 227.06h.9v.9h-.9zM70.44 224.98h.9v.9h-.9zM82.85 221.67h.9v.9h-.9zM97.05 218.33h.9v.9h-.9zM92.75 217.2h.9v.9h-.9zM82.96 230.68h.9v.9h-.9zM83.95 230.14h.9v.9h-.9zM93.97 217.64h.9v.9h-.9zM92.96 216.18h.9v.9h-.9zM78.78 217.08h.9v.9h-.9zM90.13 221.59h.9v.9h-.9zM85.55 216.87h.9v.9h-.9zM95.81 216.68h.9v.9h-.9zM83.52 231h.9v.9h-.9zM71.99 231.88h.9v.9h-.9zM84.66 237.82h.9v.9h-.9zM99.99 232.95h.9v.9h-.9zM85.14 237.56h.9v.9h-.9zM72.85 229.24h.9v.9h-.9zM75.46 222.41h.9v.9h-.9zM97.72 229.66h.9v.9h-.9zM88.54 236.51h.9v.9h-.9zM62.14 232.29h.9v.9h-.9zM95 223.82h.9v.9h-.9zM97.05 231.56h.9v.9h-.9zM75.75 226.37h.9v.9h-.9zM91.39 223.35h.9v.9h-.9zM96.06 235.38h.9v.9h-.9zM88.36 222.67h.9v.9h-.9zM89.39 221.47h.9v.9h-.9zM63.3 232.32h.9v.9h-.9zM93.4 227.82h.9v.9h-.9zM72.25 235h.9v.9h-.9zM93.72 232.33h.9v.9h-.9zM91.96 228.64h.9v.9h-.9zM92.55 228.06h.9v.9h-.9zM92.16 231.27h.9v.9h-.9zM98.2 233.06h.9v.9h-.9zM95.45 230.99h.9v.9h-.9zM95.53 229.86h.9v.9h-.9zM95.9 229.83h.9v.9h-.9zM99.12 234.41h.9v.9h-.9zM92.97 228.94h.9v.9h-.9zM73.2 221.54h.9v.9h-.9zM91.54 227.75h.9v.9h-.9zM92.37 224.11h.9v.9h-.9zM93.91 223.11h.9v.9h-.9zM72.95 222.81h.9v.9h-.9zM75.63 227.12h.9v.9h-.9zM79.88 220.76h.9v.9h-.9zM92.33 233.95h.9v.9h-.9zM87.59 219.09h.9v.9h-.9zM79.9 218.95h.9v.9h-.9zM82.75 221.34h.9v.9h-.9zM73.1 236.73h.9v.9h-.9zM93.7 217.42h.9v.9h-.9zM98.33 231.39h.9v.9h-.9zM91.31 223.99h.9v.9h-.9zM70.8 226.88h.9v.9h-.9zM82.86 228.58h.9v.9h-.9zM90.84 226.85h.9v.9h-.9zM64.99 235.15h.9v.9h-.9zM69.12 218.51h.9v.9h-.9zM74.08 234.21h.9v.9h-.9zM95.21 229.23h.9v.9h-.9zM69.74 232.07h.9v.9h-.9zM75.23 216.15h.9v.9h-.9zM80.56 226.18h.9v.9h-.9zM79.5 218.91h.9v.9h-.9zM77.75 222.05h.9v.9h-.9zM63.6 235.45h.9v.9h-.9zM77.33 230.33h.9v.9h-.9zM80.15 231.7h.9v.9h-.9zM87.44 220.07h.9v.9h-.9zM95.38 216.69h.9v.9h-.9zM74.44 228.78h.9v.9h-.9zM90.43 225.39h.9v.9h-.9zM73.04 236.38h.9v.9h-.9zM96.15 228.01h.9v.9h-.9zM81.09 232.84h.9v.9h-.9zM92.33 220.29h.9v.9h-.9zM76.11 229.84h.9v.9h-.9zM99.68 222.18h.9v.9h-.9zM86.84 233.87h.9v.9h-.9zM72.87 232.71h.9v.9h-.9zM69.77 227.43h.9v.9h-.9zM81.81 227.85h.9v.9h-.9zM75.99 219.19h.9v.9h-.9zM62.22 216.39h.9v.9h-.9zM87.96 234.07h.9v.9h-.9zM91.1 221.38h.9v.9h-.9zM77.83 230.29h.9v.9h-.9zM89.89 229.12h.9v.9h-.9zM97.57 228.92h.9v.9h-.9zM96.18 231.01h.9v.9h-.9zM95.88 223.94h.9v.9h-.9zM69.97 227.31h.9v.9h-.9zM96.21 235.63h.9v.9h-.9zM99.33 235.59h.9v.9h-.9zM97.42 237.63h.9v.9h-.9zM77.84 228.49h.9v.9h-.9zM74.34 237.78h.9v.9h-.9zM80.91 228.46h.9v.9h-.9zM98.79 223.97h.9v.9h-.9zM71.1 225.88h.9v.9h-.9zM70.09 227.08h.9v.9h-.9zM96.07 217.91h.9v.9h-.9zM74.46 222.89h.9v.9h-.9zM94.23 223.14h.9v.9h-.9zM81.15 221.79h.9v.9h-.9zM89.41 230.68h.9v.9h-.9zM69.76 231.9h.9v.9h-.9zM98.49 224.2h.9v.9h-.9zM96.84 222.07h.9v.9h-.9zM64.81 220.66h.9v.9h-.9zM68.37 227.58h.9v.9h-.9zM88.17 224.75h.9v.9h-.9zM99.4 222.98h.9v.9h-.9zM93.68 219.64h.9v.9h-.9zM75.6 216.83h.9v.9h-.9zM79.24 221.6h.9v.9h-.9zM89.96 222.59h.9v.9h-.9zM72.46 234.07h.9v.9h-.9zM84.71 237.89h.9v.9h-.9zM82.52 222.07h.9v.9h-.9zM74.68 234.8h.9v.9h-.9zM75.36 234.67h.9v.9h-.9zM78.11 220.85h.9v.9h-.9zM85.83 220.08h.9v.9h-.9zM76.28 232.83h.9v.9h-.9zM98.36 235.67h.9v.9h-.9zM62.58 237.71h.9v.9h-.9zM97.58 222.07h.9v.9h-.9zM86.12 233.72h.9v.9h-.9zM93 218.78h.9v.9h-.9zM90.34 228.22h.9v.9h-.9zM66.77 221.87h.9v.9h-.9zM96.89 222.81h.9v.9h-.9zM90.41 237.15h.9v.9h-.9zM96.48 232.44h.9v.9h-.9zM78.23 221.81h.9v.9h-.9zM96.69 237.92h.9v.9h-.9zM88.76 224.69h.9v.9h-.9zM65.89 220.99h.9v.9h-.9zM96.02 230.99h.9v.9h-.9zM79.15 217.27h.9v.9h-.9zM95.9 228.93h.9v.9h-.9zM98.78 235.05h.9v.9h-.9zM89.05 230.8h.9v.9h-.9zM96.41 232.39h.9v.9h-.9zM71.3 216.44h.9v.9h-.9zM92.07 223.49h.9v.9h-.9zM75.89 221.81h.9v.9h-.9zM74.12 234.29h.9v.9h-.9zM75.68 219.31h.9v.9h-.9zM81.62 221.09h.9v.9h-.9zM95.2 223.22h.9v.9h-.9zM66.25 232.63h.9v.9h-.9zM70.79 227.61h.9v.9h-.9zM80.25 225.18h.9v.9h-.9zM94.23 216.23h.9v.9h-.9zM68.05 218.76h.9v.9h-.9zM79.18 217.35h.9v.9h-.9zM99.27 235.59h.9v.9h-.9zM92.56 231.07h.9v.9h-.9zM98.26 221.82h.9v.9h-.9zM93.02 233.08h.9v.9h-.9zM96.47 237.71h.9v.9h-.9zM107.95 231.3h.9v.9h-.9zM106.61 233.1h.9v.9h-.9zM117.53 221.74h.9v.9h-.9zM102.85 236.07h.9v.9h-.9zM116.27 222.55h.9v.9h-.9zM106.55 221.28h.9v.9h-.9zM109.72 233.18h.9v.9h-.9zM103.74 236.89h.9v.9h-.9zM114.6 224.96h.9v.9h-.9zM113.74 226.05h.9v.9h-.9zM117.88 228.7h.9v.9h-.9zM113.79 227.49h.9v.9h-.9zM115.58 227.88h.9v.9h-.9zM96.6 228.82h.9v.9h-.9zM103.7 231.16h.9v.9h-.9zM115.16 227.23h.9v.9h-.9zM103.54 230.61h.9v.9h-.9zM112.73 229.48h.9v.9h-.9zM113.64 227.69h.9v.9h-.9zM98.6 236.48h.9v.9h-.9zM102.74 223.47h.9v.9h-.9zM104.36 219.11h.9v.9h-.9zM108.57 233.38h.9v.9h-.9zM115.79 226.86h.9v.9h-.9zM112.67 227.09h.9v.9h-.9zM112.61 224.63h.9v.9h-.9zM113.6 225.94h.9v.9h-.9zM113.12 223.86h.9v.9h-.9zM116.56 228.51h.9v.9h-.9zM102.64 222.17h.9v.9h-.9zM109.56 223.28h.9v.9h-.9zM106.38 219.94h.9v.9h-.9zM107.63 233.97h.9v.9h-.9zM106.8 233.91h.9v.9h-.9zM102.64 230.46h.9v.9h-.9zM97.61 224.28h.9v.9h-.9zM110.49 222.84h.9v.9h-.9zM106.06 231.66h.9v.9h-.9zM114.02 227.09h.9v.9h-.9zM108.67 235.04h.9v.9h-.9zM114.54 223.14h.9v.9h-.9zM114.1 228.27h.9v.9h-.9zM110.97 217.2h.9v.9h-.9zM110.7 218.17h.9v.9h-.9zM108.46 224.97h.9v.9h-.9zM102.21 235.42h.9v.9h-.9zM115.78 219.38h.9v.9h-.9zM106.8 222.19h.9v.9h-.9zM112.54 224.15h.9v.9h-.9zM103.24 232.88h.9v.9h-.9zM115.4 225.19h.9v.9h-.9zM95.97 224.85h.9v.9h-.9zM105.58 219.97h.9v.9h-.9zM107.72 219.92h.9v.9h-.9zM109.92 224.91h.9v.9h-.9zM114.51 224.52h.9v.9h-.9zM110.34 222.6h.9v.9h-.9zM115.43 219.83h.9v.9h-.9zM116.9 231.2h.9v.9h-.9zM112.31 227.75h.9v.9h-.9zM113.99 229.21h.9v.9h-.9zM113.34 225.34h.9v.9h-.9zM109.97 233.62h.9v.9h-.9zM103.43 231.47h.9v.9h-.9zM105.8 220.94h.9v.9h-.9zM107.55 232.65h.9v.9h-.9zM103.25 216.35h.9v.9h-.9zM110.12 222.39h.9v.9h-.9zM106.35 220.98h.9v.9h-.9zM102.18 232.9h.9v.9h-.9zM107.83 220.4h.9v.9h-.9zM115.1 225.35h.9v.9h-.9zM99.99 224.97h.9v.9h-.9zM95.27 232.91h.9v.9h-.9zM109.74 233.66h.9v.9h-.9zM102.63 223.53h.9v.9h-.9zM96.13 224.81h.9v.9h-.9zM112.76 223.86h.9v.9h-.9zM108.54 217.22h.9v.9h-.9zM116.69 227.79h.9v.9h-.9zM96.66 224.52h.9v.9h-.9zM108.28 218.57h.9v.9h-.9zM111.34 222.77h.9v.9h-.9zM105.91 220.82h.9v.9h-.9zM95.38 231.83h.9v.9h-.9zM109.8 235.27h.9v.9h-.9zM116.64 221.62h.9v.9h-.9zM116.04 221.59h.9v.9h-.9zM109.57 223.96h.9v.9h-.9zM102.1 222.99h.9v.9h-.9zM111.39 222.94h.9v.9h-.9zM106.99 222.5h.9v.9h-.9zM103.96 229.32h.9v.9h-.9zM112.28 224.71h.9v.9h-.9zM107.3 220.74h.9v.9h-.9zM90.17 225.25h.9v.9h-.9zM87.22 234.1h.9v.9h-.9zM108.78 224.4h.9v.9h-.9zM94.89 231.55h.9v.9h-.9zM108.42 235.67h.9v.9h-.9zM102.65 229.43h.9v.9h-.9zM115.77 226.52h.9v.9h-.9zM102.3 230.82h.9v.9h-.9zM110.78 217.41h.9v.9h-.9zM102.97 221.95h.9v.9h-.9zM103.93 235.19h.9v.9h-.9zM109.44 216.26h.9v.9h-.9zM103.61 210.68h.9v.9h-.9zM115.86 224.68h.9v.9h-.9zM106.09 234.83h.9v.9h-.9zM116.5 222.09h.9v.9h-.9zM102.94 232.48h.9v.9h-.9zM108.08 216.74h.9v.9h-.9zM106.66 222.91h.9v.9h-.9zM112.36 230.59h.9v.9h-.9zM114.55 226.81h.9v.9h-.9zM104.65 208.23h.9v.9h-.9zM86.03 206.51h.9v.9h-.9zM95.46 207.83h.9v.9h-.9zM99.75 205.03h.9v.9h-.9zM83.31 200.13h.9v.9h-.9zM91.2 198.85h.9v.9h-.9zM95.81 210.41h.9v.9h-.9zM90.63 197.38h.9v.9h-.9zM94.28 211.45h.9v.9h-.9zM101.66 214.2h.9v.9h-.9zM86.93 216.6h.9v.9h-.9zM85.13 215.9h.9v.9h-.9zM82.39 203.25h.9v.9h-.9zM107.66 200.26h.9v.9h-.9zM89.1 208.34h.9v.9h-.9zM82.99 211.62h.9v.9h-.9zM104.7 204.72h.9v.9h-.9zM99.94 199.71h.9v.9h-.9zM99.61 199.08h.9v.9h-.9zM86.71 216.12h.9v.9h-.9zM86.76 215.71h.9v.9h-.9zM88.52 210.86h.9v.9h-.9zM83.83 206.29h.9v.9h-.9zM89.04 207.48h.9v.9h-.9zM101.05 212.42h.9v.9h-.9zM83.77 214.95h.9v.9h-.9zM101.14 206.27h.9v.9h-.9zM89.29 207.07h.9v.9h-.9zM104.71 212.98h.9v.9h-.9zM102.63 210.58h.9v.9h-.9zM94.01 212.46h.9v.9h-.9zM95.91 210.74h.9v.9h-.9zM102.58 216.7h.9v.9h-.9zM100.82 211.38h.9v.9h-.9zM92.18 210.27h.9v.9h-.9zM99.76 208.3h.9v.9h-.9zM105.09 204.9h.9v.9h-.9zM90.29 198.64h.9v.9h-.9zM100.89 205.06h.9v.9h-.9zM103.43 202.61h.9v.9h-.9zM105.41 208.71h.9v.9h-.9zM99.35 205.51h.9v.9h-.9zM92.75 209.65h.9v.9h-.9zM105.98 211.84h.9v.9h-.9zM81.62 208.97h.9v.9h-.9zM90.12 207.96h.9v.9h-.9zM98.08 199.83h.9v.9h-.9zM82.43 205.38h.9v.9h-.9zM98.75 206.64h.9v.9h-.9zM99.86 205.61h.9v.9h-.9zM99.69 212.36h.9v.9h-.9zM95.19 203.96h.9v.9h-.9zM83.78 214.86h.9v.9h-.9zM104.06 203.66h.9v.9h-.9zM83.3 204.38h.9v.9h-.9zM87.96 198.72h.9v.9h-.9zM86.37 206.4h.9v.9h-.9zM92.42 216.7h.9v.9h-.9zM104.97 209.34h.9v.9h-.9zM85.82 199.92h.9v.9h-.9zM107.1 215.38h.9v.9h-.9zM94.58 211.62h.9v.9h-.9zM82.52 199.58h.9v.9h-.9zM83.11 206.71h.9v.9h-.9zM108.29 212.04h.9v.9h-.9zM99.03 212.96h.9v.9h-.9zM102.57 202.46h.9v.9h-.9zM106.34 215.08h.9v.9h-.9zM94.96 204.59h.9v.9h-.9zM87.79 206.73h.9v.9h-.9zM96.21 207.97h.9v.9h-.9zM101.46 205.33h.9v.9h-.9zM88.27 207.14h.9v.9h-.9zM107.1 200.99h.9v.9h-.9zM101.46 213.34h.9v.9h-.9zM85.93 205.31h.9v.9h-.9zM107.8 215.28h.9v.9h-.9zM90.54 207.56h.9v.9h-.9zM80.24 207.48h.9v.9h-.9zM96.06 208.5h.9v.9h-.9zM95.52 209.45h.9v.9h-.9zM85.52 200.3h.9v.9h-.9zM104.48 207.75h.9v.9h-.9zM105.21 211.41h.9v.9h-.9zM86.43 208.36h.9v.9h-.9zM87.6 207.72h.9v.9h-.9zM89.24 208.17h.9v.9h-.9zM105.54 212.7h.9v.9h-.9zM93.22 216.86h.9v.9h-.9zM99.37 211.93h.9v.9h-.9zM97.57 207.05h.9v.9h-.9zM103.02 216.24h.9v.9h-.9zM84.49 205.63h.9v.9h-.9zM105.92 211.43h.9v.9h-.9zM99.62 208.76h.9v.9h-.9zM90.31 204.62h.9v.9h-.9zM88.17 209.84h.9v.9h-.9zM83.99 209.37h.9v.9h-.9zM94.41 207.2h.9v.9h-.9zM96.23 212.35h.9v.9h-.9zM103.48 202.3h.9v.9h-.9zM91.26 208.72h.9v.9h-.9zM80.07 215.39h.9v.9h-.9zM98.44 208.91h.9v.9h-.9zM99.6 207.49h.9v.9h-.9zM83 209.49h.9v.9h-.9zM103.28 216.19h.9v.9h-.9zM80.13 198.22h.9v.9h-.9zM89.3 209.76h.9v.9h-.9zM89.09 212.73h.9v.9h-.9zM81.58 215.54h.9v.9h-.9zM79.9 204.1h.9v.9h-.9zM96.66 212.37h.9v.9h-.9zM81.52 216.56h.9v.9h-.9zM79.34 203.51h.9v.9h-.9zM98.05 205.74h.9v.9h-.9zM89.93 209.55h.9v.9h-.9zM91.67 197.44h.9v.9h-.9zM100.51 212.45h.9v.9h-.9zM80.27 208.2h.9v.9h-.9zM104.93 207.39h.9v.9h-.9zM83.29 203.01h.9v.9h-.9zM106.08 209.75h.9v.9h-.9zM103.07 216.37h.9v.9h-.9zM90.76 208.65h.9v.9h-.9zM107.18 216.56h.9v.9h-.9zM81.73 208.92h.9v.9h-.9zM101.31 213.02h.9v.9h-.9zM87.44 205.5h.9v.9h-.9zM83.13 212.43h.9v.9h-.9zM88.49 212.83h.9v.9h-.9zM102.36 210.3h.9v.9h-.9zM82.97 200.18h.9v.9h-.9zM83.14 205.83h.9v.9h-.9zM86.82 216.68h.9v.9h-.9zM108.46 211.49h.9v.9h-.9zM81.82 215.41h.9v.9h-.9zM80.66 198.84h.9v.9h-.9zM82.63 211.27h.9v.9h-.9zM87.8 205.32h.9v.9h-.9zM95.11 209.72h.9v.9h-.9zM99.1 199.05h.9v.9h-.9zM84.6 206.43h.9v.9h-.9zM104.13 207.6h.9v.9h-.9zM107.91 209.87h.9v.9h-.9zM95.33 204.03h.9v.9h-.9zM106.74 200.04h.9v.9h-.9zM102.99 201.15h.9v.9h-.9zM79.14 204.54h.9v.9h-.9zM83.65 214.18h.9v.9h-.9zM53.22 224.02h.9v.9h-.9zM88.93 222.81h.9v.9h-.9zM70.7 215.58h.9v.9h-.9zM94.96 207.99h.9v.9h-.9zM77.43 222.16h.9v.9h-.9zM98.54 200.38h.9v.9h-.9zM91.14 237.59h.9v.9h-.9zM91.12 204.19h.9v.9h-.9zM84.66 216.51h.9v.9h-.9zM89.35 223.02h.9v.9h-.9zM87.76 208.36h.9v.9h-.9zM75.7 237.39h.9v.9h-.9zM80.36 222.46h.9v.9h-.9zM97.79 212.91h.9v.9h-.9zM45.89 231.65h.9v.9h-.9zM96.99 224.26h.9v.9h-.9zM80.32 215.83h.9v.9h-.9zM72.44 231.3h.9v.9h-.9zM82.17 214.47h.9v.9h-.9zM83.24 211.74h.9v.9h-.9zM90.53 223.27h.9v.9h-.9zM109.86 216.33h.9v.9h-.9zM75.41 228.43h.9v.9h-.9zM109.15 218.44h.9v.9h-.9zM99.1 234.37h.9v.9h-.9zM51.02 225.66h.9v.9h-.9zM62.49 235.21h.9v.9h-.9zM92.54 219.13h.9v.9h-.9zM94.21 229.75h.9v.9h-.9zM113.36 229.16h.9v.9h-.9zM68.67 232.46h.9v.9h-.9zM90.19 237.25h.9v.9h-.9zM82.04 204.81h.9v.9h-.9zM106.6 221.38h.9v.9h-.9zM82.33 227.92h.9v.9h-.9zM106.4 210.94h.9v.9h-.9zM116.5 227.9h.9v.9h-.9zM93.3 231.26h.9v.9h-.9zM95.94 220.11h.9v.9h-.9zM109.77 211.56h.9v.9h-.9zM73.87 234.67h.9v.9h-.9zM61.92 218.07h.9v.9h-.9zM75.79 206.16h.9v.9h-.9zM117.34 231.93h.9v.9h-.9zM55.24 218.08h.9v.9h-.9zM116.08 232.03h.9v.9h-.9zM74.8 206.52h.9v.9h-.9zM104.66 210.74h.9v.9h-.9zM104.33 203.19h.9v.9h-.9zM93.12 209.37h.9v.9h-.9zM103.15 223.8h.9v.9h-.9zM48.86 230.54h.9v.9h-.9zM105.18 210.8h.9v.9h-.9zM88.38 211.17h.9v.9h-.9zM71.36 217.4h.9v.9h-.9zM93.56 234.1h.9v.9h-.9zM91.42 203.02h.9v.9h-.9zM55.23 218.48h.9v.9h-.9zM115.31 220.04h.9v.9h-.9zM96.66 229.34h.9v.9h-.9zM104.02 219.47h.9v.9h-.9zM67.19 218.32h.9v.9h-.9zM93.25 238.84h.9v.9h-.9zM73.84 211.55h.9v.9h-.9zM59.04 219.16h.9v.9h-.9zM73.06 205.97h.9v.9h-.9zM71.12 216.14h.9v.9h-.9zM75.6 219.66h.9v.9h-.9zM67.71 218.63h.9v.9h-.9zM72.88 206.54h.9v.9h-.9zM83.13 203.92h.9v.9h-.9zM84.35 206.46h.9v.9h-.9zM71.58 211.87h.9v.9h-.9zM69.22 219.01h.9v.9h-.9zM68.46 221.26h.9v.9h-.9zM70.57 212.73h.9v.9h-.9zM75.33 205.97h.9v.9h-.9zM61.52 218.94h.9v.9h-.9zM73.44 206.05h.9v.9h-.9zM63.9 214.71h.9v.9h-.9zM63.44 214.18h.9v.9h-.9zM72.62 211.59h.9v.9h-.9zM69.2 222.9h.9v.9h-.9zM74.86 206.28h.9v.9h-.9zM70.91 217.34h.9v.9h-.9z" fill="#a9b1d3"/>
<path d="M96.46 181.79h.9v.9h-.9zM86.68 189.57h.9v.9h-.9zM87.8 183.82h.9v.9h-.9zM96.39 181.06h.9v.9h-.9zM96.36 179.71h.9v.9h-.9zM86.54 189.13h.9v.9h-.9zM86.01 188.47h.9v.9h-.9zM97.24 180.15h.9v.9h-.9zM97.13 184.4h.9v.9h-.9zM88.02 187.94h.9v.9h-.9zM97.56 183.61h.9v.9h-.9zM96.19 184.57h.9v.9h-.9zM96.11 179.41h.9v.9h-.9zM97.51 183.81h.9v.9h-.9zM87.43 189.17h.9v.9h-.9zM86.66 183.28h.9v.9h-.9zM96.97 184.94h.9v.9h-.9zM86.51 189.26h.9v.9h-.9zM89.53 188.51h.9v.9h-.9zM96.9 182.24h.9v.9h-.9zM86.98 189h.9v.9h-.9zM87.88 184.3h.9v.9h-.9zM97.69 180.16h.9v.9h-.9zM88.6 188.25h.9v.9h-.9zM86.31 184.26h.9v.9h-.9zM86.44 188.27h.9v.9h-.9zM87.61 184.97h.9v.9h-.9zM88.19 187.69h.9v.9h-.9zM87.34 183.67h.9v.9h-.9zM96.15 179.61h.9v.9h-.9zM87.22 190.66h.9v.9h-.9zM86.58 187.12h.9v.9h-.9zM86.33 185.99h.9v.9h-.9zM96.81 183.96h.9v.9h-.9zM96.36 184.69h.9v.9h-.9zM87.76 188.75h.9v.9h-.9zM96.13 179.59h.9v.9h-.9zM86.94 184.03h.9v.9h-.9zM87.79 185.81h.9v.9h-.9zM87.96 186.29h.9v.9h-.9zM87.98 185.88h.9v.9h-.9zM87.58 189.11h.9v.9h-.9zM96.06 179.79h.9v.9h-.9zM97.67 181.41h.9v.9h-.9zM96.3 182.79h.9v.9h-.9zM96.77 184.81h.9v.9h-.9zM97.66 183.46h.9v.9h-.9zM97.73 182.75h.9v.9h-.9zM97.03 182.54h.9v.9h-.9zM87.04 189.86h.9v.9h-.9zM97.98 180.13h.9v.9h-.9zM97.54 182.19h.9v.9h-.9zM96.41 180.89h.9v.9h-.9zM97.06 182.76h.9v.9h-.9zM86.19 187.46h.9v.9h-.9zM86.38 189.2h.9v.9h-.9zM86.05 190.88h.9v.9h-.9zM87.73 187.01h.9v.9h-.9zM86.49 187.36h.9v.9h-.9zM87.86 186.92h.9v.9h-.9zM86.56 187.06h.9v.9h-.9zM88.49 188.78h.9v.9h-.9zM97.73 182.5h.9v.9h-.9zM86.57 184.26h.9v.9h-.9zM97.92 179.21h.9v.9h-.9zM89.1 187.26h.9v.9h-.9zM86.04 184.72h.9v.9h-.9zM87.96 187.01h.9v.9h-.9zM86.73 189.84h.9v.9h-.9zM86.77 187.35h.9v.9h-.9zM96.24 182.38h.9v.9h-.9zM96.44 183.91h.9v.9h-.9zM96.61 182.11h.9v.9h-.9zM87.26 183.13h.9v.9h-.9zM96.08 180.27h.9v.9h-.9zM96.68 181.81h.9v.9h-.9zM97.2 182.72h.9v.9h-.9zM87.85 185.11h.9v.9h-.9zM88.66 187.84h.9v.9h-.9zM87.1 187.68h.9v.9h-.9zM86.18 186.12h.9v.9h-.9zM87.56 186.59h.9v.9h-.9zM86.69 186.99h.9v.9h-.9zM87.26 190.43h.9v.9h-.9zM88.23 187.84h.9v.9h-.9zM87.68 186.34h.9v.9h-.9zM87.6 190.63h.9v.9h-.9zM89.83 188.3h.9v.9h-.9zM86.96 185.38h.9v.9h-.9zM97.13 183.66h.9v.9h-.9zM89.59 187.74h.9v.9h-.9zM87.19 190.69h.9v.9h-.9zM89.41 187.54h.9v.9h-.9zM86.51 184.28h.9v.9h-.9zM86.19 186.29h.9v.9h-.9zM87.9 186.32h.9v.9h-.9zM96.41 182.25h.9v.9h-.9zM89.86 187.57h.9v.9h-.9zM87.52 189.95h.9v.9h-.9zM87.86 188.88h.9v.9h-.9zM87.35 186.25h.9v.9h-.9zM97.5 184.02h.9v.9h-.9zM96.27 179.29h.9v.9h-.9zM87.49 190.47h.9v.9h-.9zM89.25 187.54h.9v.9h-.9zM87.91 188.35h.9v.9h-.9zM87.96 183.53h.9v.9h-.9zM89.98 188.87h.9v.9h-.9zM87.2 185.05h.9v.9h-.9zM87.43 190.46h.9v.9h-.9zM87.05 183.07h.9v.9h-.9zM89.29 188.93h.9v.9h-.9zM88.54 188.66h.9v.9h-.9zM89.6 187.2h.9v.9h-.9zM86.35 183.73h.9v.9h-.9zM96.12 182.87h.9v.9h-.9zM86.53 189.73h.9v.9h-.9zM89.56 187.35h.9v.9h-.9zM86.89 183.56h.9v.9h-.9zM88.18 187.46h.9v.9h-.9zM86.23 186.14h.9v.9h-.9zM87.24 184.86h.9v.9h-.9zM96.8 180.58h.9v.9h-.9zM86.43 184.74h.9v.9h-.9zM86.15 190.9h.9v.9h-.9zM86.85 185.82h.9v.9h-.9zM97.34 183.3h.9v.9h-.9zM87.07 183.96h.9v.9h-.9zM86.61 187.57h.9v.9h-.9zM97.16 181.12h.9v.9h-.9zM86.84 188.55h.9v.9h-.9zM87.36 186.86h.9v.9h-.9zM96.47 179.94h.9v.9h-.9zM96.48 183.11h.9v.9h-.9zM97.97 182.12h.9v.9h-.9zM57.49 230.65h.9v.9h-.9zM67.97 227.19h.9v.9h-.9zM53.46 231.66h.9v.9h-.9zM52.28 232.76h.9v.9h-.9zM56.51 230.7h.9v.9h-.9zM58.11 227.68h.9v.9h-.9zM60.14 230.01h.9v.9h-.9zM60.19 228.59h.9v.9h-.9zM59.05 227.2h.9v.9h-.9zM57.55 229.6h.9v.9h-.9zM61.73 227.17h.9v.9h-.9zM62.48 227.78h.9v.9h-.9zM55.86 231.22h.9v.9h-.9zM61.76 228h.9v.9h-.9zM55.53 232.28h.9v.9h-.9zM63.79 228.31h.9v.9h-.9zM60.16 227.03h.9v.9h-.9zM60.69 227.77h.9v.9h-.9zM60.92 230.77h.9v.9h-.9zM59.53 229.15h.9v.9h-.9zM57.68 229.21h.9v.9h-.9zM58.93 230.97h.9v.9h-.9zM60.42 229.96h.9v.9h-.9zM58.92 229.81h.9v.9h-.9zM59.53 227.15h.9v.9h-.9zM60.07 228.65h.9v.9h-.9zM58.92 226.1h.9v.9h-.9zM56.36 229.23h.9v.9h-.9zM60.28 223.71h.9v.9h-.9zM58.03 226.13h.9v.9h-.9zM59.64 230.19h.9v.9h-.9zM62.98 227.32h.9v.9h-.9zM61.75 229.52h.9v.9h-.9zM59.96 225.49h.9v.9h-.9zM58.47 227.91h.9v.9h-.9zM63.77 227.61h.9v.9h-.9zM67.59 228.53h.9v.9h-.9zM63.8 228.23h.9v.9h-.9zM59.74 225.03h.9v.9h-.9zM57.22 229.03h.9v.9h-.9zM59.44 229.61h.9v.9h-.9zM55.91 229.09h.9v.9h-.9zM67.33 227.89h.9v.9h-.9zM55.08 229.73h.9v.9h-.9zM55.33 230.95h.9v.9h-.9zM55.86 229.11h.9v.9h-.9zM52.98 232.61h.9v.9h-.9zM63.72 227.37h.9v.9h-.9zM61.93 227.31h.9v.9h-.9zM55.52 229.4h.9v.9h-.9zM56.54 230.84h.9v.9h-.9zM67.83 227.03h.9v.9h-.9zM55.49 232.48h.9v.9h-.9zM59.61 227.39h.9v.9h-.9zM52.52 232.83h.9v.9h-.9zM58.71 225.75h.9v.9h-.9zM55.65 231.81h.9v.9h-.9zM66.48 227.06h.9v.9h-.9zM60.01 228.9h.9v.9h-.9zM60.79 230.89h.9v.9h-.9zM55.84 230.16h.9v.9h-.9zM60.76 228.13h.9v.9h-.9zM60.16 230.93h.9v.9h-.9zM58.74 227.81h.9v.9h-.9zM60.76 229.95h.9v.9h-.9zM52.9 231.67h.9v.9h-.9zM61.17 227.15h.9v.9h-.9zM59.81 225.02h.9v.9h-.9zM58.54 230.41h.9v.9h-.9zM54.62 230.15h.9v.9h-.9zM60.5 229.18h.9v.9h-.9zM59.69 228.05h.9v.9h-.9zM61.24 230.37h.9v.9h-.9zM66.4 228.99h.9v.9h-.9zM60.26 224.83h.9v.9h-.9zM61.64 228.21h.9v.9h-.9zM54.4 229.75h.9v.9h-.9zM54.2 232.34h.9v.9h-.9zM54.94 231.32h.9v.9h-.9zM58.94 228.28h.9v.9h-.9zM59.76 226.77h.9v.9h-.9zM61.64 230.69h.9v.9h-.9zM57.65 229.9h.9v.9h-.9zM66.24 227.35h.9v.9h-.9zM60.8 224.13h.9v.9h-.9zM59.37 226.77h.9v.9h-.9zM61.16 223.26h.9v.9h-.9zM59.01 229.01h.9v.9h-.9zM62.88 227.12h.9v.9h-.9zM59.96 227.32h.9v.9h-.9zM59.43 229.17h.9v.9h-.9zM60 227.72h.9v.9h-.9zM58.83 229.98h.9v.9h-.9zM61 223.88h.9v.9h-.9zM67.29 228.09h.9v.9h-.9zM57.42 229.11h.9v.9h-.9zM55.16 230.79h.9v.9h-.9zM62.97 228.97h.9v.9h-.9zM67.62 228.57h.9v.9h-.9zM53.3 231.46h.9v.9h-.9zM54.04 231.17h.9v.9h-.9zM66.37 227.02h.9v.9h-.9zM60.15 224.55h.9v.9h-.9zM54.67 230.7h.9v.9h-.9zM55.98 232.23h.9v.9h-.9zM59.01 225.37h.9v.9h-.9zM54.46 231.44h.9v.9h-.9zM53.6 231.58h.9v.9h-.9zM55.11 231.37h.9v.9h-.9zM61.08 228.27h.9v.9h-.9zM55.24 232.46h.9v.9h-.9zM63.65 227.04h.9v.9h-.9zM62.65 227.53h.9v.9h-.9zM56.25 230.26h.9v.9h-.9zM60.54 228.31h.9v.9h-.9zM56.46 230.2h.9v.9h-.9zM53.72 232.57h.9v.9h-.9zM61.21 227.63h.9v.9h-.9zM56.46 229.81h.9v.9h-.9zM53.07 231.85h.9v.9h-.9zM59.81 226.56h.9v.9h-.9zM60.7 229.84h.9v.9h-.9zM60.18 224.03h.9v.9h-.9zM59.68 228.51h.9v.9h-.9zM54.41 230.96h.9v.9h-.9zM61.54 223.2h.9v.9h-.9zM61.88 229.94h.9v.9h-.9zM58.88 229.91h.9v.9h-.9zM62.17 227.33h.9v.9h-.9zM60.88 224.37h.9v.9h-.9zM54.92 231.94h.9v.9h-.9zM54.75 232.62h.9v.9h-.9zM53.45 231.17h.9v.9h-.9zM61.85 227.71h.9v.9h-.9zM56.18 230.78h.9v.9h-.9zM59.31 225.87h.9v.9h-.9zM61.11 229.15h.9v.9h-.9zM61.8 228.17h.9v.9h-.9zM53.7 231.8h.9v.9h-.9zM59.03 227.09h.9v.9h-.9zM56.37 230.86h.9v.9h-.9zM60.18 229.69h.9v.9h-.9zM54.74 229.67h.9v.9h-.9zM58.94 228.06h.9v.9h-.9zM58.63 230.89h.9v.9h-.9zM60.25 229.77h.9v.9h-.9zM56.73 229.52h.9v.9h-.9zM58.59 228.7h.9v.9h-.9zM59.72 226.24h.9v.9h-.9zM60.96 227.24h.9v.9h-.9zM53.76 231.59h.9v.9h-.9zM61.4 228.34h.9v.9h-.9zM54.41 231.86h.9v.9h-.9zM58.3 225.57h.9v.9h-.9zM58.82 226.02h.9v.9h-.9zM61.89 229.05h.9v.9h-.9zM59.72 229.01h.9v.9h-.9zM55.71 229.15h.9v.9h-.9zM58.96 225.84h.9v.9h-.9zM59.52 230.71h.9v.9h-.9zM54.69 230.87h.9v.9h-.9zM58.61 227.8h.9v.9h-.9zM57.66 229.76h.9v.9h-.9zM60.98 227.48h.9v.9h-.9zM63.28 227.57h.9v.9h-.9zM61.87 224.09h.9v.9h-.9zM62.52 228.47h.9v.9h-.9zM58.87 229.44h.9v.9h-.9zM55.4 232.13h.9v.9h-.9zM54.97 230.83h.9v.9h-.9zM66.93 227.83h.9v.9h-.9zM60.36 223.88h.9v.9h-.9zM58.3 227.16h.9v.9h-.9zM61.39 224.76h.9v.9h-.9zM59.19 226.9h.9v.9h-.9zM58.39 228.15h.9v.9h-.9zM60.32 223.93h.9v.9h-.9zM58.82 230.1h.9v.9h-.9zM67.44 227.39h.9v.9h-.9zM59.38 230.39h.9v.9h-.9zM55.28 231.24h.9v.9h-.9zM60.21 230.97h.9v.9h-.9zM59.58 228.38h.9v.9h-.9zM60.25 223.8h.9v.9h-.9zM62.13 228.96h.9v.9h-.9zM62.69 227.26h.9v.9h-.9zM66.66 227.71h.9v.9h-.9zM60.25 230.02h.9v.9h-.9zM55.92 232.35h.9v.9h-.9zM56.84 229.38h.9v.9h-.9zM59.98 226.75h.9v.9h-.9zM58.82 228.27h.9v.9h-.9zM52.47 231.12h.9v.9h-.9zM63.42 228.75h.9v.9h-.9zM66.56 227.57h.9v.9h-.9zM63.89 228.84h.9v.9h-.9zM63.85 228.99h.9v.9h-.9zM66.09 227.01h.9v.9h-.9zM62.84 227.37h.9v.9h-.9zM105.17 225.16h.9v.9h-.9zM105.7 226.8h.9v.9h-.9zM104.27 225.87h.9v.9h-.9zM105.06 226.21h.9v.9h-.9zM104.41 226.28h.9v.9h-.9zM104.46 226.71h.9v.9h-.9zM105.73 225.17h.9v.9h-.9zM105.22 225.58h.9v.9h-.9zM104.78 226.54h.9v.9h-.9zM104.16 226.33h.9v.9h-.9zM104.48 226.89h.9v.9h-.9zM104.32 225.68h.9v.9h-.9zM104.58 225.72h.9v.9h-.9zM105.41 225.68h.9v.9h-.9zM59.86 226.8h.9v.9h-.9zM53.15 232.94h.9v.9h-.9z" fill="#b4b25a"/>
<path d="M100.21 186.25h.9v.9h-.9zM93.89 174.89h.9v.9h-.9zM80.32 180.63h.9v.9h-.9zM83.16 195.75h.9v.9h-.9zM83.46 193.91h.9v.9h-.9zM83.93 182.59h.9v.9h-.9zM102.43 177.79h.9v.9h-.9zM101.82 183.61h.9v.9h-.9zM85.74 195.25h.9v.9h-.9zM100.32 185.18h.9v.9h-.9zM80.15 191.64h.9v.9h-.9zM83.4 184.86h.9v.9h-.9zM114.1 170.48h.9v.9h-.9zM84.73 196.23h.9v.9h-.9zM109.35 166.45h.9v.9h-.9zM96.29 190.79h.9v.9h-.9zM100.98 161.78h.9v.9h-.9zM87.23 202.99h.9v.9h-.9zM107.05 185.45h.9v.9h-.9zM103.86 188.39h.9v.9h-.9zM106.14 174.26h.9v.9h-.9zM97.08 172.65h.9v.9h-.9zM93.47 201.82h.9v.9h-.9zM107.63 176.64h.9v.9h-.9zM82.7 183.56h.9v.9h-.9zM78.94 195.25h.9v.9h-.9zM85.66 178.6h.9v.9h-.9zM107.03 171.88h.9v.9h-.9zM97.72 169.03h.9v.9h-.9zM80.1 183.02h.9v.9h-.9zM103.54 170.41h.9v.9h-.9zM100.35 171.11h.9v.9h-.9zM102.09 184.14h.9v.9h-.9zM72.41 196.65h.9v.9h-.9zM93.1 194.25h.9v.9h-.9zM92.96 171.48h.9v.9h-.9zM74.55 182.61h.9v.9h-.9zM81.92 202.65h.9v.9h-.9zM106.96 174.14h.9v.9h-.9zM107.11 181.1h.9v.9h-.9zM94.62 170.86h.9v.9h-.9zM110.75 178.33h.9v.9h-.9zM107.79 164.23h.9v.9h-.9zM101.01 170.36h.9v.9h-.9zM97.42 166.13h.9v.9h-.9zM103.24 168.64h.9v.9h-.9zM100.31 166.97h.9v.9h-.9zM110.86 173.95h.9v.9h-.9zM93.01 171.61h.9v.9h-.9zM96.1 198.24h.9v.9h-.9zM90.96 174.4h.9v.9h-.9zM93.05 167.62h.9v.9h-.9zM82.93 179.94h.9v.9h-.9zM96.93 162.03h.9v.9h-.9zM106.93 165.99h.9v.9h-.9zM83.37 201.66h.9v.9h-.9zM107.21 186.15h.9v.9h-.9zM83.68 193.35h.9v.9h-.9zM102.88 170.4h.9v.9h-.9zM82.37 181.96h.9v.9h-.9zM77.3 189.3h.9v.9h-.9zM79.97 191.14h.9v.9h-.9zM109.47 168.42h.9v.9h-.9zM76.51 193.53h.9v.9h-.9zM100.3 170.65h.9v.9h-.9zM108.51 175.76h.9v.9h-.9zM96.94 172.71h.9v.9h-.9zM113.08 172.61h.9v.9h-.9zM82.5 195.98h.9v.9h-.9zM98.47 189.15h.9v.9h-.9zM103.42 163.73h.9v.9h-.9zM75.95 195.59h.9v.9h-.9zM104.35 158.96h.9v.9h-.9zM79.07 184.08h.9v.9h-.9zM83.17 175.32h.9v.9h-.9zM103.63 177.44h.9v.9h-.9zM104.44 174.3h.9v.9h-.9zM83.98 197.05h.9v.9h-.9zM77.33 182.74h.9v.9h-.9zM96.79 168.09h.9v.9h-.9zM81.69 177.79h.9v.9h-.9zM94.77 170.88h.9v.9h-.9zM96.33 165.77h.9v.9h-.9zM104.94 172.23h.9v.9h-.9zM100.92 184.7h.9v.9h-.9zM105.31 175.99h.9v.9h-.9zM105.61 168.4h.9v.9h-.9zM101.96 160.42h.9v.9h-.9zM80.97 203.12h.9v.9h-.9zM77.97 180.29h.9v.9h-.9zM111.2 169.04h.9v.9h-.9zM104.91 163.75h.9v.9h-.9zM83.09 189.31h.9v.9h-.9zM80 185.31h.9v.9h-.9zM81.64 176.95h.9v.9h-.9zM120.37 174.95h.9v.9h-.9zM103.71 169h.9v.9h-.9zM106.77 164.55h.9v.9h-.9zM110.86 174.15h.9v.9h-.9zM87.19 193.68h.9v.9h-.9zM89.63 171.41h.9v.9h-.9zM105.76 174.39h.9v.9h-.9zM84.7 175.88h.9v.9h-.9zM46.65 232.58h.9v.9h-.9zM47.31 232.34h.9v.9h-.9zM48.37 237.36h.9v.9h-.9zM47.46 227.13h.9v.9h-.9zM55.91 237.57h.9v.9h-.9zM51.64 232.01h.9v.9h-.9zM57.87 223.56h.9v.9h-.9zM50.45 231.5h.9v.9h-.9zM61.13 216.05h.9v.9h-.9zM47.37 230.76h.9v.9h-.9zM51.26 224.59h.9v.9h-.9zM56.76 223.93h.9v.9h-.9zM51.48 224.32h.9v.9h-.9zM49.8 228.12h.9v.9h-.9zM53.71 237.08h.9v.9h-.9zM52.43 229.03h.9v.9h-.9zM56.95 236.15h.9v.9h-.9zM76.07 208.59h.9v.9h-.9zM44.24 238.02h.9v.9h-.9zM44.28 224.15h.9v.9h-.9zM47.36 224.89h.9v.9h-.9zM70.98 233.32h.9v.9h-.9zM75.01 231.68h.9v.9h-.9zM52.59 240.04h.9v.9h-.9zM57.65 237.13h.9v.9h-.9zM47.86 230.13h.9v.9h-.9zM70.97 230.58h.9v.9h-.9zM51.52 236.49h.9v.9h-.9zM76.56 223.64h.9v.9h-.9zM73.79 225.61h.9v.9h-.9zM47.29 226.67h.9v.9h-.9zM68.26 240.78h.9v.9h-.9zM54.89 219.06h.9v.9h-.9zM86.06 225.68h.9v.9h-.9zM41.71 235.69h.9v.9h-.9zM69.39 211.42h.9v.9h-.9zM56.3 221.77h.9v.9h-.9zM61.42 239.81h.9v.9h-.9zM78.47 226.41h.9v.9h-.9zM60.82 235.6h.9v.9h-.9zM56.36 235.01h.9v.9h-.9zM60.03 237.9h.9v.9h-.9zM61.76 209.22h.9v.9h-.9zM59.06 215.44h.9v.9h-.9zM43.39 229.89h.9v.9h-.9zM42.91 229.21h.9v.9h-.9zM43.97 236.66h.9v.9h-.9zM47.04 235.07h.9v.9h-.9zM43.27 231.89h.9v.9h-.9zM74.49 214.67h.9v.9h-.9zM82.01 237.08h.9v.9h-.9zM48.11 235.63h.9v.9h-.9zM71.07 229.92h.9v.9h-.9zM52.29 219.75h.9v.9h-.9zM41.7 232.9h.9v.9h-.9zM42.21 232.73h.9v.9h-.9zM73.72 215.25h.9v.9h-.9zM73.38 215.46h.9v.9h-.9zM72.63 227.43h.9v.9h-.9zM52.02 230.39h.9v.9h-.9zM44.73 226.54h.9v.9h-.9zM70.35 238.3h.9v.9h-.9zM72.08 218.77h.9v.9h-.9zM76.13 212.69h.9v.9h-.9zM48.46 239.41h.9v.9h-.9zM86.55 213.28h.9v.9h-.9zM43.43 224.69h.9v.9h-.9zM69.13 216.78h.9v.9h-.9zM43.9 228.17h.9v.9h-.9zM57.42 217.4h.9v.9h-.9zM56.8 221.67h.9v.9h-.9zM73.26 226.52h.9v.9h-.9zM67.35 213.77h.9v.9h-.9zM44.35 239.75h.9v.9h-.9zM66.41 234.36h.9v.9h-.9zM45.81 228.71h.9v.9h-.9zM74.81 223.57h.9v.9h-.9zM81.5 217.99h.9v.9h-.9zM95.15 235.6h.9v.9h-.9zM85.95 224.25h.9v.9h-.9zM73.86 237.03h.9v.9h-.9zM79.36 237.23h.9v.9h-.9zM95.11 225.04h.9v.9h-.9zM79.17 230.91h.9v.9h-.9zM87.64 235.55h.9v.9h-.9zM94.29 237.09h.9v.9h-.9zM75.74 230.75h.9v.9h-.9zM70.61 235.96h.9v.9h-.9zM79.91 228.02h.9v.9h-.9zM87.49 223.44h.9v.9h-.9zM90.78 234.45h.9v.9h-.9zM76.14 217.34h.9v.9h-.9zM96.62 220.89h.9v.9h-.9zM79.28 223.02h.9v.9h-.9zM82.01 235.84h.9v.9h-.9zM95.46 226.25h.9v.9h-.9zM76.57 234.89h.9v.9h-.9zM75.46 231.86h.9v.9h-.9zM75.28 236.29h.9v.9h-.9zM67.96 235.68h.9v.9h-.9zM85.75 222.46h.9v.9h-.9zM89.13 231.58h.9v.9h-.9zM78.9 223.27h.9v.9h-.9zM78.34 228.25h.9v.9h-.9zM77.31 217.39h.9v.9h-.9zM84.63 233.26h.9v.9h-.9zM91.76 218.21h.9v.9h-.9zM80.51 230.33h.9v.9h-.9zM83.48 218.43h.9v.9h-.9zM69.08 235.49h.9v.9h-.9zM86.95 231.55h.9v.9h-.9zM89.51 234.16h.9v.9h-.9zM93.58 221.26h.9v.9h-.9zM88.79 226.87h.9v.9h-.9zM83.33 235.81h.9v.9h-.9zM92.8 235.44h.9v.9h-.9zM81.82 234.93h.9v.9h-.9zM91.04 234.42h.9v.9h-.9zM89.05 225.02h.9v.9h-.9zM89.87 237.56h.9v.9h-.9zM79.93 216.92h.9v.9h-.9zM91.79 219.72h.9v.9h-.9zM82.14 223.59h.9v.9h-.9zM89.84 217.81h.9v.9h-.9zM80.65 237.03h.9v.9h-.9zM85.99 226.66h.9v.9h-.9zM90.3 232.65h.9v.9h-.9zM88.85 218.66h.9v.9h-.9zM82.18 216.71h.9v.9h-.9zM83.48 217.38h.9v.9h-.9zM87.69 227.25h.9v.9h-.9zM66.18 237.97h.9v.9h-.9zM83.5 233.72h.9v.9h-.9zM81.26 230.1h.9v.9h-.9zM77.59 237.16h.9v.9h-.9zM99.23 228.93h.9v.9h-.9zM87.15 237.27h.9v.9h-.9zM74.06 218.74h.9v.9h-.9zM71.91 219.72h.9v.9h-.9zM99.81 218.31h.9v.9h-.9zM69.37 236.17h.9v.9h-.9zM91.74 220.03h.9v.9h-.9zM87.91 222.31h.9v.9h-.9zM76.24 226.25h.9v.9h-.9zM89.16 227.58h.9v.9h-.9zM79.96 233.71h.9v.9h-.9zM80.7 237.16h.9v.9h-.9zM82.15 237.55h.9v.9h-.9zM82.87 225.26h.9v.9h-.9zM86.68 231h.9v.9h-.9zM90.53 230.96h.9v.9h-.9zM91.48 232.87h.9v.9h-.9zM90.69 217.41h.9v.9h-.9zM76.72 235.69h.9v.9h-.9zM94.07 217.74h.9v.9h-.9zM78.34 225.48h.9v.9h-.9zM87.99 230.63h.9v.9h-.9zM77.14 235.56h.9v.9h-.9zM70.08 234.52h.9v.9h-.9zM72.14 217.84h.9v.9h-.9zM77.48 216.91h.9v.9h-.9zM65.64 237.11h.9v.9h-.9zM87.52 217.39h.9v.9h-.9zM81.39 217.07h.9v.9h-.9zM96.01 226.19h.9v.9h-.9zM76.76 225.42h.9v.9h-.9zM85.41 228.42h.9v.9h-.9zM86.06 226.94h.9v.9h-.9zM82.22 233.54h.9v.9h-.9zM74.18 223.77h.9v.9h-.9zM88.09 234.64h.9v.9h-.9zM98.16 218.17h.9v.9h-.9zM76.82 237.54h.9v.9h-.9zM74.3 230.35h.9v.9h-.9zM79.66 237.18h.9v.9h-.9zM94.37 218.06h.9v.9h-.9zM94.75 233.54h.9v.9h-.9zM91.41 236.37h.9v.9h-.9zM77.77 224.25h.9v.9h-.9zM118 223.05h.9v.9h-.9zM112.56 222.87h.9v.9h-.9zM112.79 234.56h.9v.9h-.9zM118.03 233.13h.9v.9h-.9zM111.11 233.53h.9v.9h-.9zM103.65 217.32h.9v.9h-.9zM115.57 231.68h.9v.9h-.9zM118.6 228.54h.9v.9h-.9zM100.33 227.53h.9v.9h-.9zM106.78 236.31h.9v.9h-.9zM116.85 233.02h.9v.9h-.9zM105.86 231.4h.9v.9h-.9zM114.34 236.42h.9v.9h-.9zM102.51 233.35h.9v.9h-.9zM113.16 231.06h.9v.9h-.9zM104.21 218.87h.9v.9h-.9zM104.5 235.35h.9v.9h-.9zM98.75 228.17h.9v.9h-.9zM100.33 227.12h.9v.9h-.9zM105.69 233.01h.9v.9h-.9zM97.89 225.12h.9v.9h-.9zM101.75 224.16h.9v.9h-.9zM106.38 218.41h.9v.9h-.9zM101.52 223.77h.9v.9h-.9zM105.32 233.82h.9v.9h-.9zM119.27 224.87h.9v.9h-.9zM104.47 231.61h.9v.9h-.9zM103.29 225.17h.9v.9h-.9zM108.6 239.44h.9v.9h-.9zM101.93 221.36h.9v.9h-.9zM115.48 230.18h.9v.9h-.9zM110.89 233.04h.9v.9h-.9zM118.3 224.16h.9v.9h-.9zM120.85 225.11h.9v.9h-.9zM114.31 229.54h.9v.9h-.9zM124.44 237.93h.9v.9h-.9zM108.96 220.75h.9v.9h-.9zM106.01 237.18h.9v.9h-.9zM101.99 226.91h.9v.9h-.9zM116.22 226.49h.9v.9h-.9zM116.19 224.76h.9v.9h-.9zM114.37 238.45h.9v.9h-.9zM101.68 231.91h.9v.9h-.9zM116.28 233.17h.9v.9h-.9zM113.08 233.08h.9v.9h-.9zM110.95 220.71h.9v.9h-.9zM122.37 227.59h.9v.9h-.9zM109.37 238.49h.9v.9h-.9zM105.1 218.77h.9v.9h-.9zM124.67 215.79h.9v.9h-.9zM124.62 240.67h.9v.9h-.9zM119.27 229.05h.9v.9h-.9zM95.06 238.61h.9v.9h-.9zM107.17 218.65h.9v.9h-.9zM119.38 225.67h.9v.9h-.9zM120.84 240.76h.9v.9h-.9zM100.13 219.94h.9v.9h-.9zM104.31 235.4h.9v.9h-.9zM101.93 233.42h.9v.9h-.9zM95.71 236.81h.9v.9h-.9zM112.31 223h.9v.9h-.9zM92.27 226.48h.9v.9h-.9zM101.2 225.37h.9v.9h-.9zM109.16 210.48h.9v.9h-.9zM118.63 229.86h.9v.9h-.9zM101.51 209.52h.9v.9h-.9zM93.63 236.48h.9v.9h-.9zM121.16 221.34h.9v.9h-.9zM110.76 235.58h.9v.9h-.9zM114.11 208.55h.9v.9h-.9zM105.46 215.23h.9v.9h-.9zM111.48 237.82h.9v.9h-.9zM103.06 218.86h.9v.9h-.9zM120.54 227.97h.9v.9h-.9zM96.13 209.49h.9v.9h-.9zM82.85 201.13h.9v.9h-.9zM92.71 201.91h.9v.9h-.9zM98.07 209.54h.9v.9h-.9zM107.74 204.98h.9v.9h-.9zM99.84 202.24h.9v.9h-.9zM83.13 216.8h.9v.9h-.9zM80.48 206.66h.9v.9h-.9zM95.99 200.56h.9v.9h-.9zM87.55 199.28h.9v.9h-.9zM79.53 212.75h.9v.9h-.9zM98.95 209.53h.9v.9h-.9zM99.75 201.61h.9v.9h-.9zM97.13 213.66h.9v.9h-.9zM81.4 200.77h.9v.9h-.9zM101.18 209.86h.9v.9h-.9zM91.73 215.19h.9v.9h-.9zM99.21 213.02h.9v.9h-.9zM100.35 201.07h.9v.9h-.9zM89.31 205.97h.9v.9h-.9zM82.81 198.34h.9v.9h-.9zM84.3 208.79h.9v.9h-.9zM101.36 197.59h.9v.9h-.9zM79.96 202.36h.9v.9h-.9zM85.33 202.59h.9v.9h-.9zM80.89 206.12h.9v.9h-.9zM90.28 210.46h.9v.9h-.9zM101.49 199.55h.9v.9h-.9zM98.05 213.18h.9v.9h-.9zM105.95 206.4h.9v.9h-.9zM103.59 198.34h.9v.9h-.9zM102.65 197.41h.9v.9h-.9zM79.56 209.18h.9v.9h-.9zM105.33 198.32h.9v.9h-.9zM108.36 213.96h.9v.9h-.9zM101.24 208.91h.9v.9h-.9zM89.71 205.27h.9v.9h-.9zM103.52 199.6h.9v.9h-.9zM93.62 207.22h.9v.9h-.9zM94.68 214.24h.9v.9h-.9zM94.2 200.97h.9v.9h-.9zM105.77 199.04h.9v.9h-.9zM88.59 200.3h.9v.9h-.9zM86.5 199.1h.9v.9h-.9zM80.96 204.05h.9v.9h-.9zM97 198.26h.9v.9h-.9zM98.17 215.75h.9v.9h-.9zM90.38 211.92h.9v.9h-.9zM103.81 203.34h.9v.9h-.9zM79.26 208.96h.9v.9h-.9zM105.08 201.77h.9v.9h-.9zM92.07 214.62h.9v.9h-.9zM104.44 213.39h.9v.9h-.9zM80.65 199.41h.9v.9h-.9zM103.07 213.48h.9v.9h-.9zM85.5 209.04h.9v.9h-.9zM99.33 204.53h.9v.9h-.9zM90.75 215h.9v.9h-.9zM87.2 204.37h.9v.9h-.9zM100.51 197.5h.9v.9h-.9zM79.42 212.94h.9v.9h-.9zM86.08 209.6h.9v.9h-.9zM85.79 214.92h.9v.9h-.9zM103.52 206.69h.9v.9h-.9zM98.21 197.27h.9v.9h-.9zM93.31 213.41h.9v.9h-.9zM104.67 202.11h.9v.9h-.9zM102.01 206.64h.9v.9h-.9zM99.71 198.43h.9v.9h-.9zM108.58 209.05h.9v.9h-.9zM82.28 208.31h.9v.9h-.9zM80.14 210.04h.9v.9h-.9zM97.39 206.3h.9v.9h-.9zM104.86 214.26h.9v.9h-.9zM103.03 207.28h.9v.9h-.9zM102.39 208.23h.9v.9h-.9zM102.47 214.34h.9v.9h-.9zM79.6 202.22h.9v.9h-.9zM99.16 216.14h.9v.9h-.9zM99.73 204.74h.9v.9h-.9zM92.18 197.43h.9v.9h-.9zM94.62 206.75h.9v.9h-.9zM95.4 201.96h.9v.9h-.9zM108.44 198.23h.9v.9h-.9zM94.34 201.73h.9v.9h-.9zM91.33 213.23h.9v.9h-.9zM79.94 205.18h.9v.9h-.9zM97.86 214.05h.9v.9h-.9zM90.86 215.8h.9v.9h-.9zM107.3 208.55h.9v.9h-.9zM93.91 221.2h.9v.9h-.9zM45.44 226.61h.9v.9h-.9zM100.21 219.39h.9v.9h-.9zM51.35 208.12h.9v.9h-.9zM107.56 207.82h.9v.9h-.9zM109.95 205.32h.9v.9h-.9zM62.44 201.06h.9v.9h-.9zM66.3 211.7h.9v.9h-.9zM63.56 240.72h.9v.9h-.9zM55.69 205.76h.9v.9h-.9zM62.19 203.7h.9v.9h-.9zM106.94 204.84h.9v.9h-.9zM59.51 211.64h.9v.9h-.9zM105.2 200.84h.9v.9h-.9zM65.49 214.84h.9v.9h-.9zM69.65 201.01h.9v.9h-.9zM114.46 213.98h.9v.9h-.9zM67.78 238.07h.9v.9h-.9zM112.02 220.46h.9v.9h-.9zM85.2 213.46h.9v.9h-.9zM88.17 204.86h.9v.9h-.9zM46.62 218.62h.9v.9h-.9zM49.49 216.73h.9v.9h-.9zM85.03 239.76h.9v.9h-.9zM57.51 212.5h.9v.9h-.9zM112.95 236.93h.9v.9h-.9zM117.24 201.08h.9v.9h-.9zM87.6 230.77h.9v.9h-.9zM56.66 206.47h.9v.9h-.9zM93.27 226.74h.9v.9h-.9zM57.58 216.75h.9v.9h-.9zM46.52 211.88h.9v.9h-.9zM114.2 235.11h.9v.9h-.9zM45.73 207.45h.9v.9h-.9zM111.62 204.76h.9v.9h-.9zM103.62 238.86h.9v.9h-.9zM67.61 208.21h.9v.9h-.9zM80.09 224.4h.9v.9h-.9zM58.43 217.25h.9v.9h-.9zM67.08 201.01h.9v.9h-.9zM65.11 209.69h.9v.9h-.9zM52.58 203.27h.9v.9h-.9zM50.39 216.97h.9v.9h-.9zM101.42 218.97h.9v.9h-.9zM98.99 238.27h.9v.9h-.9zM65.44 212.91h.9v.9h-.9zM78.16 233.3h.9v.9h-.9zM97.52 204.68h.9v.9h-.9zM51.95 200.02h.9v.9h-.9zM54.51 212h.9v.9h-.9zM89.09 213.45h.9v.9h-.9zM55.43 205.75h.9v.9h-.9zM55.83 209.32h.9v.9h-.9zM76.15 216.41h.9v.9h-.9zM119.66 219.42h.9v.9h-.9zM50.64 215.81h.9v.9h-.9zM75.42 212.55h.9v.9h-.9zM69.22 207.14h.9v.9h-.9zM91.43 210.6h.9v.9h-.9zM77.97 202.08h.9v.9h-.9zM61.79 239.56h.9v.9h-.9zM110.93 207.07h.9v.9h-.9zM75.61 196.92h.9v.9h-.9zM70.88 206.68h.9v.9h-.9zM75.38 211.33h.9v.9h-.9zM71.82 205.49h.9v.9h-.9zM78.75 210.7h.9v.9h-.9zM61.55 216.76h.9v.9h-.9zM74.06 203.69h.9v.9h-.9zM68.46 212.2h.9v.9h-.9zM67.91 214.55h.9v.9h-.9zM73.6 203.92h.9v.9h-.9zM67.46 206.45h.9v.9h-.9zM67.94 203.28h.9v.9h-.9zM73.81 199.97h.9v.9h-.9zM70.62 204.98h.9v.9h-.9zM76.57 195.64h.9v.9h-.9zM64.92 213.18h.9v.9h-.9zM69.03 204.62h.9v.9h-.9zM76.06 212.86h.9v.9h-.9zM68.23 208.93h.9v.9h-.9zM68.65 210.87h.9v.9h-.9zM68.68 216.21h.9v.9h-.9zM79.58 197.95h.9v.9h-.9zM66.77 200.97h.9v.9h-.9zM70.97 203.13h.9v.9h-.9zM78.61 195.27h.9v.9h-.9zM70.18 210.68h.9v.9h-.9zM75.35 210.81h.9v.9h-.9zM75.84 200.74h.9v.9h-.9zM76.82 204.47h.9v.9h-.9zM72.21 214.21h.9v.9h-.9zM75.78 197.87h.9v.9h-.9zM64.95 203.97h.9v.9h-.9zM69.2 205.11h.9v.9h-.9zM70.12 220.07h.9v.9h-.9zM74.05 207.4h.9v.9h-.9zM75.46 214.94h.9v.9h-.9zM72.31 204.72h.9v.9h-.9z" fill="#c6cbe0"/>
<rect x="78.4" y="170.1" width="30.5" height="27.3" fill="none" stroke="#2a2a2a" stroke-width="0.9"/>
<rect x="78.4" y="197.4" width="30.5" height="19.4" fill="none" stroke="#2a2a2a" stroke-width="0.9"/>
<rect x="99.4" y="216.8" width="20.8" height="25.5" fill="none" stroke="#2a2a2a" stroke-width="0.9"/>
<rect x="40.2" y="133" width="112.7" height="109.3" fill="none" stroke="#111" stroke-width="1.4"/>
<line x1="37.2" y1="143.5" x2="40.2" y2="143.5" stroke="#111" stroke-width="1.2"/>
<line x1="38.6" y1="161.04" x2="40.2" y2="161.04" stroke="#111" stroke-width="0.8"/>
<line x1="38.6" y1="156.62" x2="40.2" y2="156.62" stroke="#111" stroke-width="0.8"/>
<line x1="38.6" y1="153.49" x2="40.2" y2="153.49" stroke="#111" stroke-width="0.8"/>
<line x1="38.6" y1="151.06" x2="40.2" y2="151.06" stroke="#111" stroke-width="0.8"/>
<line x1="38.6" y1="149.07" x2="40.2" y2="149.07" stroke="#111" stroke-width="0.8"/>
<line x1="38.6" y1="147.39" x2="40.2" y2="147.39" stroke="#111" stroke-width="0.8"/>
<line x1="38.6" y1="145.93" x2="40.2" y2="145.93" stroke="#111" stroke-width="0.8"/>
<line x1="38.6" y1="144.65" x2="40.2" y2="144.65" stroke="#111" stroke-width="0.8"/>
<text x="22.2" y="146" font-size="7.7">10<tspan font-size="5.6" dy="-3.4">5</tspan></text>
<line x1="37.2" y1="168.6" x2="40.2" y2="168.6" stroke="#111" stroke-width="1.2"/>
<line x1="38.6" y1="186.14" x2="40.2" y2="186.14" stroke="#111" stroke-width="0.8"/>
<line x1="38.6" y1="181.72" x2="40.2" y2="181.72" stroke="#111" stroke-width="0.8"/>
<line x1="38.6" y1="178.59" x2="40.2" y2="178.59" stroke="#111" stroke-width="0.8"/>
<line x1="38.6" y1="176.16" x2="40.2" y2="176.16" stroke="#111" stroke-width="0.8"/>
<line x1="38.6" y1="174.17" x2="40.2" y2="174.17" stroke="#111" stroke-width="0.8"/>
<line x1="38.6" y1="172.49" x2="40.2" y2="172.49" stroke="#111" stroke-width="0.8"/>
<line x1="38.6" y1="171.03" x2="40.2" y2="171.03" stroke="#111" stroke-width="0.8"/>
<line x1="38.6" y1="169.75" x2="40.2" y2="169.75" stroke="#111" stroke-width="0.8"/>
<text x="22.2" y="171.1" font-size="7.7">10<tspan font-size="5.6" dy="-3.4">4</tspan></text>
<line x1="37.2" y1="193.7" x2="40.2" y2="193.7" stroke="#111" stroke-width="1.2"/>
<line x1="38.6" y1="211.24" x2="40.2" y2="211.24" stroke="#111" stroke-width="0.8"/>
<line x1="38.6" y1="206.82" x2="40.2" y2="206.82" stroke="#111" stroke-width="0.8"/>
<line x1="38.6" y1="203.69" x2="40.2" y2="203.69" stroke="#111" stroke-width="0.8"/>
<line x1="38.6" y1="201.26" x2="40.2" y2="201.26" stroke="#111" stroke-width="0.8"/>
<line x1="38.6" y1="199.27" x2="40.2" y2="199.27" stroke="#111" stroke-width="0.8"/>
<line x1="38.6" y1="197.59" x2="40.2" y2="197.59" stroke="#111" stroke-width="0.8"/>
<line x1="38.6" y1="196.13" x2="40.2" y2="196.13" stroke="#111" stroke-width="0.8"/>
<line x1="38.6" y1="194.85" x2="40.2" y2="194.85" stroke="#111" stroke-width="0.8"/>
<text x="22.2" y="196.2" font-size="7.7">10<tspan font-size="5.6" dy="-3.4">3</tspan></text>
<line x1="37.2" y1="218.8" x2="40.2" y2="218.8" stroke="#111" stroke-width="1.2"/>
<text x="22.2" y="221.3" font-size="7.7">10<tspan font-size="5.6" dy="-3.4">2</tspan></text>
<line x1="38.6" y1="226.8" x2="40.2" y2="226.8" stroke="#111" stroke-width="0.8"/>
<line x1="38.6" y1="234.8" x2="40.2" y2="234.8" stroke="#111" stroke-width="0.8"/>
<rect x="38.6" y="230.3" width="1.6" height="2.2" fill="#111"/>
<text x="72.2" y="143.4" font-size="7.9">th3/+ spleen</text>
<text x="111.8" y="181.1" font-size="6.8">i</text>
<text x="111.8" y="189.5" font-size="7.7">43.4 %</text>
<text x="111.8" y="206.8" font-size="6.8">ii</text>
<text x="111.8" y="215.2" font-size="7.7">9.3 %</text>
<text x="122.6" y="231.1" font-size="6.8">iii</text>
<text x="122.6" y="239.5" font-size="7.7">11.9 %</text>
<line x1="90.6" y1="242.3" x2="90.6" y2="245.2" stroke="#111" stroke-width="1.1"/>
<text x="85.2" y="256.2" font-size="7.7">10<tspan font-size="5.6" dy="-3.4">3</tspan></text>
<line x1="114.9" y1="242.3" x2="114.9" y2="245.2" stroke="#111" stroke-width="1.1"/>
<text x="109.5" y="256.2" font-size="7.7">10<tspan font-size="5.6" dy="-3.4">4</tspan></text>
<line x1="139.2" y1="242.3" x2="139.2" y2="245.2" stroke="#111" stroke-width="1.1"/>
<text x="133.8" y="256.2" font-size="7.7">10<tspan font-size="5.6" dy="-3.4">5</tspan></text>
<line x1="97.92" y1="242.3" x2="97.92" y2="244" stroke="#111" stroke-width="0.8"/>
<line x1="102.19" y1="242.3" x2="102.19" y2="244" stroke="#111" stroke-width="0.8"/>
<line x1="105.23" y1="242.3" x2="105.23" y2="244" stroke="#111" stroke-width="0.8"/>
<line x1="107.58" y1="242.3" x2="107.58" y2="244" stroke="#111" stroke-width="0.8"/>
<line x1="109.51" y1="242.3" x2="109.51" y2="244" stroke="#111" stroke-width="0.8"/>
<line x1="111.14" y1="242.3" x2="111.14" y2="244" stroke="#111" stroke-width="0.8"/>
<line x1="112.55" y1="242.3" x2="112.55" y2="244" stroke="#111" stroke-width="0.8"/>
<line x1="113.79" y1="242.3" x2="113.79" y2="244" stroke="#111" stroke-width="0.8"/>
<line x1="122.22" y1="242.3" x2="122.22" y2="244" stroke="#111" stroke-width="0.8"/>
<line x1="126.49" y1="242.3" x2="126.49" y2="244" stroke="#111" stroke-width="0.8"/>
<line x1="129.53" y1="242.3" x2="129.53" y2="244" stroke="#111" stroke-width="0.8"/>
<line x1="131.88" y1="242.3" x2="131.88" y2="244" stroke="#111" stroke-width="0.8"/>
<line x1="133.81" y1="242.3" x2="133.81" y2="244" stroke="#111" stroke-width="0.8"/>
<line x1="135.44" y1="242.3" x2="135.44" y2="244" stroke="#111" stroke-width="0.8"/>
<line x1="136.85" y1="242.3" x2="136.85" y2="244" stroke="#111" stroke-width="0.8"/>
<line x1="138.09" y1="242.3" x2="138.09" y2="244" stroke="#111" stroke-width="0.8"/>
<line x1="46" y1="242.3" x2="46" y2="244" stroke="#111" stroke-width="0.8"/>
<line x1="49" y1="242.3" x2="49" y2="244" stroke="#111" stroke-width="0.8"/>
<line x1="52" y1="242.3" x2="52" y2="244" stroke="#111" stroke-width="0.8"/>
<line x1="55" y1="242.3" x2="55" y2="244" stroke="#111" stroke-width="0.8"/>
<line x1="58" y1="242.3" x2="58" y2="244" stroke="#111" stroke-width="0.8"/>
<line x1="62" y1="242.3" x2="62" y2="244" stroke="#111" stroke-width="0.8"/>
<line x1="66" y1="242.3" x2="66" y2="244" stroke="#111" stroke-width="0.8"/>
<line x1="70" y1="242.3" x2="70" y2="244" stroke="#111" stroke-width="0.8"/>
<line x1="74" y1="242.3" x2="74" y2="244" stroke="#111" stroke-width="0.8"/>
<line x1="78" y1="242.3" x2="78" y2="244" stroke="#111" stroke-width="0.8"/>
<line x1="82" y1="242.3" x2="82" y2="244" stroke="#111" stroke-width="0.8"/>
<line x1="86" y1="242.3" x2="86" y2="244" stroke="#111" stroke-width="0.8"/>
<rect x="47" y="242.3" width="6" height="1.8" fill="#111"/>
<text x="42.6" y="269.8" font-size="8.8">Ly6C</text>
<line x1="66.3" y1="266.3" x2="144" y2="266.3" stroke="#000" stroke-width="1.3"/>
<path d="M149.6 266.3 L143.2 264.1 L143.2 268.5 Z" fill="#000"/>
<text transform="translate(17.4,218.6) rotate(-90)" font-size="8.8">Ly6G</text>
<line x1="14" y1="197.5" x2="14" y2="41" stroke="#000" stroke-width="1.3"/>
<path d="M14 35.8 L11.8 42.2 L16.2 42.2 Z" fill="#000"/>
<line x1="113.2" y1="77.8" x2="174.4" y2="77.8" stroke="#9b1c3c" stroke-width="1.3"/>
<path d="M179.4 77.8L174.4 80.1L174.4 75.5Z" fill="#9b1c3c"/>
<line x1="110.2" y1="173.3" x2="174.55" y2="157.03" stroke="#9b1c3c" stroke-width="1.3"/>
<path d="M179.4 155.8L175.12 159.26L173.99 154.8Z" fill="#9b1c3c"/>
<line x1="110.2" y1="200.8" x2="174.41" y2="204.33" stroke="#9b1c3c" stroke-width="1.3"/>
<path d="M179.4 204.6L174.28 206.62L174.53 202.03Z" fill="#9b1c3c"/>
<defs><radialGradient id="ec" cx="0.5" cy="0.45" r="0.6"><stop offset="0" stop-color="#7262ad"/><stop offset="0.6" stop-color="#514197"/><stop offset="1" stop-color="#3a2c80"/></radialGradient><radialGradient id="ecd" cx="0.5" cy="0.45" r="0.6"><stop offset="0" stop-color="#5848a0"/><stop offset="1" stop-color="#3a2c80"/></radialGradient><radialGradient id="ec2" cx="0.5" cy="0.5" r="0.55"><stop offset="0" stop-color="#b4a6d6"/><stop offset="0.6" stop-color="#9482c4"/><stop offset="1" stop-color="#6a58a8"/></radialGradient><radialGradient id="big" cx="0.45" cy="0.45" r="0.6"><stop offset="0" stop-color="#8064b8"/><stop offset="0.72" stop-color="#6a48a4"/><stop offset="1" stop-color="#47308c"/></radialGradient><clipPath id="cb"><rect x="179.4" y="24.4" width="82.1" height="67"/></clipPath><clipPath id="cc"><rect x="179.4" y="101.9" width="82.6" height="65.2"/></clipPath><clipPath id="ce"><rect x="179.2" y="177.5" width="82.6" height="67.5"/></clipPath><clipPath id="ie"><rect x="282.5" y="182.3" width="59.4" height="58.3"/></clipPath></defs>
<rect x="179.4" y="24.4" width="82.1" height="67" fill="#faf8fc"/>
<g clip-path="url(#cb)">
<circle cx="188" cy="30.4" r="4.4" fill="#ebe3f2"/>
<circle cx="188" cy="30.4" r="3.3" fill="none" stroke="#64449a" stroke-width="1.45" stroke-dasharray="17.64 3.09" transform="rotate(30 188 30.4)"/>
<path d="M189.93 33.07Q188 30.4 187.03 30.2" fill="none" stroke="#64449a" stroke-width="1.2" stroke-linecap="round"/>
<g fill="#64449a"><circle cx="185.13" cy="28.77" r="0.83"/><circle cx="184.99" cy="31.75" r="0.94"/><circle cx="189.77" cy="33.18" r="1.02"/></g>
<circle cx="184.5" cy="55.5" r="4.4" fill="#ebe3f2"/>
<circle cx="184.5" cy="55.5" r="3.3" fill="none" stroke="#64449a" stroke-width="1.45" stroke-dasharray="17.26 3.48" transform="rotate(40 184.5 55.5)"/>
<path d="M186.98 57.68Q184.5 55.5 183.51 55.52" fill="none" stroke="#64449a" stroke-width="1.2" stroke-linecap="round"/>
<g fill="#64449a"><circle cx="181.51" cy="56.89" r="0.98"/><circle cx="184.25" cy="52.21" r="1.09"/><circle cx="183.8" cy="58.72" r="0.99"/></g>
<circle cx="194" cy="48.5" r="4.4" fill="#ebe3f2"/>
<circle cx="194" cy="48.5" r="3.3" fill="none" stroke="#64449a" stroke-width="1.45" stroke-dasharray="17.5 3.23" transform="rotate(250 194 48.5)"/>
<path d="M191.15 46.84Q194 48.5 194.97 48.29" fill="none" stroke="#64449a" stroke-width="1.2" stroke-linecap="round"/>
<g fill="#64449a"><circle cx="197.25" cy="47.95" r="0.89"/><circle cx="192.71" cy="51.54" r="1.07"/><circle cx="191.16" cy="46.82" r="0.94"/></g>
<circle cx="201.8" cy="41.6" r="4.4" fill="#ebe3f2"/>
<circle cx="201.8" cy="41.6" r="3.3" fill="none" stroke="#64449a" stroke-width="1.45" stroke-dasharray="18.16 2.58" transform="rotate(278 201.8 41.6)"/>
<path d="M203.17 38.6Q201.8 41.6 202.1 42.54" fill="none" stroke="#64449a" stroke-width="1.2" stroke-linecap="round"/>
<g fill="#64449a"><circle cx="199.48" cy="43.94" r="0.83"/><circle cx="200.04" cy="38.81" r="1.08"/><circle cx="202.68" cy="44.78" r="0.99"/></g>
<circle cx="208.7" cy="55.5" r="4.4" fill="#ebe3f2"/>
<circle cx="208.7" cy="55.5" r="3.3" fill="none" stroke="#64449a" stroke-width="1.45" stroke-dasharray="16.38 4.35" transform="rotate(107 208.7 55.5)"/>
<path d="M206.82 58.21Q208.7 55.5 208.57 54.52" fill="none" stroke="#64449a" stroke-width="1.2" stroke-linecap="round"/>
<g fill="#64449a"><circle cx="209.34" cy="58.74" r="1.05"/><circle cx="206.89" cy="52.74" r="1"/><circle cx="210.11" cy="52.51" r="0.93"/></g>
<circle cx="219.1" cy="45.1" r="4.4" fill="#ebe3f2"/>
<circle cx="219.1" cy="45.1" r="3.3" fill="none" stroke="#64449a" stroke-width="1.45" stroke-dasharray="16.04 4.7" transform="rotate(273 219.1 45.1)"/>
<path d="M217.51 42.21Q219.1 45.1 220.04 45.42" fill="none" stroke="#64449a" stroke-width="1.2" stroke-linecap="round"/>
<g fill="#64449a"><circle cx="221.04" cy="42.43" r="0.92"/><circle cx="215.83" cy="45.52" r="0.84"/><circle cx="218.05" cy="41.97" r="0.89"/></g>
<circle cx="219.1" cy="57.2" r="4.4" fill="#ebe3f2"/>
<circle cx="219.1" cy="57.2" r="3.3" fill="none" stroke="#64449a" stroke-width="1.45" stroke-dasharray="17.55 3.19" transform="rotate(313 219.1 57.2)"/>
<path d="M221.55 54.99Q219.1 57.2 219.01 58.19" fill="none" stroke="#64449a" stroke-width="1.2" stroke-linecap="round"/>
<g fill="#64449a"><circle cx="216.43" cy="59.15" r="0.98"/><circle cx="220.19" cy="60.32" r="0.85"/><circle cx="219.03" cy="53.9" r="1.03"/></g>
<circle cx="232.1" cy="34.7" r="4.4" fill="#ebe3f2"/>
<circle cx="232.1" cy="34.7" r="3.3" fill="none" stroke="#64449a" stroke-width="1.45" stroke-dasharray="15.93 4.8" transform="rotate(204 232.1 34.7)"/>
<path d="M228.8 34.67Q232.1 34.7 232.84 34.04" fill="none" stroke="#64449a" stroke-width="1.2" stroke-linecap="round"/>
<g fill="#64449a"><circle cx="234.05" cy="32.04" r="0.85"/><circle cx="235.32" cy="33.97" r="0.99"/><circle cx="229.52" cy="32.65" r="1.09"/></g>
<circle cx="232.1" cy="64.1" r="4.4" fill="#ebe3f2"/>
<circle cx="232.1" cy="64.1" r="3.3" fill="none" stroke="#64449a" stroke-width="1.45" stroke-dasharray="16.26 4.47" transform="rotate(283 232.1 64.1)"/>
<path d="M230.83 61.06Q232.1 64.1 233 64.52" fill="none" stroke="#64449a" stroke-width="1.2" stroke-linecap="round"/>
<g fill="#64449a"><circle cx="229.85" cy="66.52" r="0.83"/><circle cx="233.25" cy="67.19" r="0.86"/><circle cx="234.18" cy="61.54" r="0.84"/></g>
<circle cx="208.7" cy="67.6" r="4.4" fill="#ebe3f2"/>
<circle cx="208.7" cy="67.6" r="3.3" fill="none" stroke="#64449a" stroke-width="1.45" stroke-dasharray="17 3.73" transform="rotate(106 208.7 67.6)"/>
<path d="M206.41 69.98Q208.7 67.6 208.73 66.61" fill="none" stroke="#64449a" stroke-width="1.2" stroke-linecap="round"/>
<g fill="#64449a"><circle cx="211.92" cy="66.88" r="1.01"/><circle cx="209.45" cy="70.81" r="0.96"/><circle cx="207.8" cy="64.43" r="0.82"/></g>
<circle cx="213.1" cy="78" r="4.4" fill="#ebe3f2"/>
<circle cx="213.1" cy="78" r="3.3" fill="none" stroke="#64449a" stroke-width="1.45" stroke-dasharray="17.31 3.42" transform="rotate(244 213.1 78)"/>
<path d="M212.04 74.88Q213.1 78 213.97 78.48" fill="none" stroke="#64449a" stroke-width="1.2" stroke-linecap="round"/>
<g fill="#64449a"><circle cx="211.5" cy="75.11" r="1"/><circle cx="209.83" cy="77.52" r="0.97"/><circle cx="214.16" cy="81.13" r="0.95"/></g>
<circle cx="223.4" cy="77.1" r="4.4" fill="#ebe3f2"/>
<circle cx="223.4" cy="77.1" r="3.3" fill="none" stroke="#64449a" stroke-width="1.45" stroke-dasharray="17.03 3.7" transform="rotate(45 223.4 77.1)"/>
<path d="M225.61 79.55Q223.4 77.1 222.41 77.01" fill="none" stroke="#64449a" stroke-width="1.2" stroke-linecap="round"/>
<g fill="#64449a"><circle cx="223.9" cy="73.84" r="0.92"/><circle cx="226.68" cy="77.51" r="0.96"/><circle cx="224.32" cy="80.27" r="1.02"/></g>
<circle cx="245.9" cy="51.1" r="4.4" fill="#ebe3f2"/>
<circle cx="245.9" cy="51.1" r="3.3" fill="none" stroke="#64449a" stroke-width="1.45" stroke-dasharray="17.28 3.45" transform="rotate(139 245.9 51.1)"/>
<path d="M242.63 51.57Q245.9 51.1 246.53 50.33" fill="none" stroke="#64449a" stroke-width="1.2" stroke-linecap="round"/>
<g fill="#64449a"><circle cx="243.32" cy="53.16" r="0.9"/><circle cx="243.99" cy="53.79" r="0.94"/><circle cx="248.65" cy="52.93" r="0.96"/></g>
<circle cx="253.7" cy="58.9" r="4.4" fill="#ebe3f2"/>
<circle cx="253.7" cy="58.9" r="3.3" fill="none" stroke="#64449a" stroke-width="1.45" stroke-dasharray="16.83 3.91" transform="rotate(331 253.7 58.9)"/>
<path d="M256.95 58.36Q253.7 58.9 253.09 59.68" fill="none" stroke="#64449a" stroke-width="1.2" stroke-linecap="round"/>
<g fill="#64449a"><circle cx="256.82" cy="57.82" r="1.05"/><circle cx="253.58" cy="55.6" r="1.04"/><circle cx="255.11" cy="55.92" r="0.88"/></g>
<circle cx="258.3" cy="26" r="4.4" fill="#ebe3f2"/>
<circle cx="258.3" cy="26" r="3.3" fill="none" stroke="#64449a" stroke-width="1.45" stroke-dasharray="17.38 3.36" transform="rotate(173 258.3 26)"/>
<path d="M255.34 27.45Q258.3 26 258.66 25.08" fill="none" stroke="#64449a" stroke-width="1.2" stroke-linecap="round"/>
<g fill="#64449a"><circle cx="255.33" cy="24.57" r="0.9"/><circle cx="255.88" cy="23.76" r="0.97"/><circle cx="260.92" cy="28.01" r="0.93"/></g>
<circle cx="205.3" cy="90.3" r="4.4" fill="#ebe3f2"/>
<circle cx="205.3" cy="90.3" r="3.3" fill="none" stroke="#64449a" stroke-width="1.45" stroke-dasharray="16.47 4.27" transform="rotate(140 205.3 90.3)"/>
<path d="M204.33 93.45Q205.3 90.3 204.87 89.41" fill="none" stroke="#64449a" stroke-width="1.2" stroke-linecap="round"/>
<g fill="#64449a"><circle cx="206.91" cy="93.18" r="0.95"/><circle cx="202.58" cy="92.16" r="1"/><circle cx="203.66" cy="93.16" r="0.86"/></g>
</g>
<rect x="179.4" y="24.4" width="82.1" height="67" fill="none" stroke="#4a4a4a" stroke-width="1"/>
<text x="182.6" y="90" font-size="7.9">WT</text>
<rect x="236.9" y="45.6" width="21.2" height="20.8" fill="none" stroke="#333" stroke-width="1.15" stroke-dasharray="2.4 1.5"/>
<path d="M258.1 45.6L283.6 33.5M258.1 66.4L283.6 90.8" stroke="#333" stroke-width="1.15" stroke-dasharray="2.4 1.5" fill="none"/>
<rect x="283.6" y="33.5" width="58.3" height="57.3" fill="#f9f7fb" stroke="#4a4a4a" stroke-width="1.1"/>
<text x="288.6" y="30.7" font-size="7.9">Segmented</text>
<ellipse cx="301" cy="51" rx="13" ry="14" fill="#f1eaf5"/><ellipse cx="323.5" cy="72.5" rx="12" ry="15.5" fill="#f1eaf5"/>
<g fill="#7444a6"><circle cx="297.77" cy="59.9" r="1.75"/><circle cx="296.36" cy="59.34" r="1.77"/><circle cx="295.11" cy="59.48" r="1.74"/><circle cx="293.83" cy="59.36" r="2.15"/><circle cx="292.87" cy="58.45" r="1.85"/><circle cx="291.53" cy="58.11" r="2.12"/><circle cx="290.38" cy="57.31" r="1.7"/><circle cx="290.12" cy="55.91" r="2.12"/><circle cx="290.19" cy="54.58" r="1.95"/><circle cx="289.93" cy="53.38" r="2.05"/><circle cx="289.28" cy="52.02" r="1.92"/><circle cx="290.54" cy="51.05" r="1.65"/><circle cx="290.76" cy="49.77" r="2.1"/><circle cx="291.7" cy="48.92" r="2"/><circle cx="292.58" cy="48.01" r="1.77"/><circle cx="293.6" cy="47.15" r="1.79"/><circle cx="294.94" cy="47.12" r="2.05"/><circle cx="296.21" cy="46.91" r="2.06"/><circle cx="297.49" cy="47.06" r="1.71"/><circle cx="298.68" cy="47.55" r="2.11"/></g>
<g fill="#7444a6"><circle cx="300.33" cy="48.02" r="2.05"/><circle cx="300.7" cy="46.47" r="1.71"/><circle cx="300.15" cy="44.87" r="1.9"/><circle cx="300.97" cy="43.49" r="1.89"/><circle cx="301.72" cy="42.04" r="1.9"/><circle cx="303.21" cy="41.36" r="1.83"/><circle cx="304.63" cy="40.69" r="1.7"/><circle cx="306.21" cy="40.53" r="1.86"/><circle cx="307.82" cy="40.69" r="1.79"/><circle cx="308.87" cy="42.01" r="1.82"/><circle cx="310.57" cy="42.38" r="1.88"/><circle cx="311.31" cy="43.82" r="1.74"/><circle cx="311.54" cy="45.38" r="1.92"/><circle cx="311.37" cy="46.86" r="2"/><circle cx="311.84" cy="48.52" r="2.05"/><circle cx="310.48" cy="49.57" r="1.59"/><circle cx="310.01" cy="51.22" r="1.75"/><circle cx="308.35" cy="51.55" r="1.74"/></g>
<g fill="#7444a6"><circle cx="301.26" cy="61" r="1.35"/><circle cx="300.29" cy="62.37" r="1.57"/><circle cx="298.59" cy="62.58" r="1.28"/><circle cx="297.59" cy="61" r="1.47"/></g>
<g fill="#7444a6"><circle cx="320.83" cy="67.37" r="1.83"/><circle cx="320.4" cy="65.91" r="2.01"/><circle cx="320.29" cy="64.44" r="1.82"/><circle cx="320.54" cy="63" r="1.86"/><circle cx="320.5" cy="61.28" r="2.01"/><circle cx="322.06" cy="60.55" r="1.87"/><circle cx="322.88" cy="59.04" r="1.64"/><circle cx="324.53" cy="58.93" r="1.92"/><circle cx="326.06" cy="58.47" r="1.77"/><circle cx="327.62" cy="58.85" r="1.89"/><circle cx="328.89" cy="59.77" r="1.88"/><circle cx="330.2" cy="60.6" r="1.91"/><circle cx="331.01" cy="61.93" r="1.71"/><circle cx="331.43" cy="63.41" r="2.03"/><circle cx="331.27" cy="64.92" r="1.61"/><circle cx="330.8" cy="66.29" r="1.99"/><circle cx="330.95" cy="68.11" r="1.66"/></g>
<ellipse cx="330" cy="68" rx="3.6" ry="3.3" fill="#7444a6"/>
<g fill="#7444a6"><circle cx="326" cy="80.86" r="1.91"/><circle cx="325.52" cy="82.27" r="2.09"/><circle cx="324.61" cy="83.49" r="1.92"/><circle cx="323.32" cy="84.35" r="2.08"/><circle cx="321.84" cy="84.77" r="2.29"/><circle cx="320.3" cy="85.01" r="2.1"/><circle cx="318.84" cy="84.49" r="2.14"/><circle cx="317.66" cy="83.57" r="2.1"/><circle cx="316.03" cy="83.32" r="2.36"/><circle cx="315.73" cy="81.64" r="2.2"/><circle cx="314.81" cy="80.56" r="1.87"/><circle cx="314.62" cy="79.16" r="2.29"/><circle cx="313.77" cy="77.71" r="2.11"/><circle cx="314.63" cy="76.36" r="2.11"/><circle cx="314.86" cy="74.82" r="2.26"/><circle cx="316.35" cy="74.15" r="1.92"/><circle cx="317" cy="72.63" r="2.1"/><circle cx="318.47" cy="72.17" r="2.27"/><circle cx="319.94" cy="71.89" r="2.25"/></g>
<ellipse cx="317.8" cy="78" rx="2.4" ry="4.2" fill="#7444a6" opacity="0.8"/>
<path d="M299.5 49.5 L300.5 59.5" stroke="#c2a8d8" stroke-width="0.8"/><path d="M319 70 L322.5 84" stroke="#cdb4df" stroke-width="1"/>
<g fill="#4c2480" opacity="0.55"><circle cx="290.93" cy="51.92" r="0.53"/><circle cx="298.46" cy="58.67" r="0.8"/><circle cx="301.89" cy="53.87" r="0.69"/><circle cx="300.4" cy="49.68" r="0.53"/><circle cx="301.64" cy="55.18" r="0.59"/><circle cx="293.6" cy="58.41" r="0.61"/><circle cx="291.27" cy="55.97" r="0.78"/><circle cx="300.4" cy="57.32" r="0.78"/><circle cx="301.67" cy="55.09" r="0.78"/><circle cx="293.51" cy="58.36" r="0.7"/><circle cx="301.9" cy="53.61" r="0.61"/><circle cx="293.84" cy="48.47" r="0.67"/><circle cx="307.5" cy="42.2" r="0.5"/><circle cx="301.81" cy="49.65" r="0.66"/><circle cx="310.62" cy="47.68" r="0.74"/><circle cx="301.56" cy="49.26" r="0.54"/><circle cx="306.64" cy="51.63" r="0.68"/><circle cx="310.48" cy="48.25" r="0.54"/><circle cx="304.17" cy="51.42" r="0.54"/><circle cx="305.2" cy="41.94" r="0.66"/><circle cx="309.83" cy="44.02" r="0.7"/><circle cx="324.07" cy="70" r="0.56"/><circle cx="329.22" cy="68.64" r="0.53"/><circle cx="321.38" cy="61.82" r="0.71"/><circle cx="324.02" cy="69.99" r="0.57"/><circle cx="327.2" cy="60.08" r="0.79"/><circle cx="329.98" cy="67.64" r="0.47"/><circle cx="325.8" cy="59.81" r="0.62"/><circle cx="320.87" cy="67.36" r="0.67"/><circle cx="325.84" cy="59.81" r="0.47"/><circle cx="325.16" cy="76.31" r="0.79"/><circle cx="315.97" cy="80" r="0.61"/><circle cx="319.6" cy="82.45" r="0.66"/><circle cx="321.69" cy="82.3" r="0.64"/><circle cx="324.42" cy="74.67" r="0.63"/><circle cx="322.63" cy="73.08" r="0.51"/><circle cx="324.02" cy="74.16" r="0.49"/><circle cx="321.46" cy="82.36" r="0.7"/><circle cx="318.7" cy="82.24" r="0.49"/><circle cx="324.57" cy="80.09" r="0.73"/><circle cx="325.26" cy="78.12" r="0.47"/><circle cx="325.01" cy="75.82" r="0.72"/></g>
<rect x="179.4" y="101.9" width="82.6" height="65.2" fill="#faf8fc"/>
<g clip-path="url(#cc)">
<circle cx="181" cy="106.2" r="4.3" fill="#ece4f3"/>
<circle cx="181" cy="106.2" r="2.45" fill="none" stroke="#6d51a4" stroke-width="2.6" stroke-dasharray="13.51 1.89" transform="rotate(133 181 106.2)"/>
<g fill="#4f2f86" opacity="0.8"><circle cx="182.92" cy="104.08" r="0.77"/><circle cx="178.6" cy="105.74" r="0.89"/><circle cx="179.28" cy="105.96" r="0.53"/><circle cx="178.71" cy="104.63" r="0.75"/><circle cx="180.91" cy="104.13" r="0.65"/></g>
<circle cx="190.6" cy="102.3" r="4.3" fill="#ece4f3"/>
<circle cx="190.6" cy="102.3" r="2.45" fill="none" stroke="#6d51a4" stroke-width="2.6" stroke-dasharray="13.15 2.26" transform="rotate(95 190.6 102.3)"/>
<g fill="#4f2f86" opacity="0.8"><circle cx="190.29" cy="105.22" r="0.56"/><circle cx="191.32" cy="104.95" r="0.66"/><circle cx="188.89" cy="104.95" r="0.86"/><circle cx="190.96" cy="104.11" r="0.7"/><circle cx="188.67" cy="101.33" r="0.74"/></g>
<circle cx="187.1" cy="124.4" r="4.3" fill="#ece4f3"/>
<circle cx="187.1" cy="124.4" r="2.45" fill="none" stroke="#6d51a4" stroke-width="2.6" stroke-dasharray="12.26 3.14" transform="rotate(244 187.1 124.4)"/>
<g fill="#4f2f86" opacity="0.8"><circle cx="187.23" cy="127.03" r="0.52"/><circle cx="188.65" cy="125.07" r="0.55"/><circle cx="187.53" cy="122.25" r="0.7"/><circle cx="185.26" cy="124.99" r="0.52"/><circle cx="188.33" cy="127.1" r="0.64"/></g>
<circle cx="210.5" cy="124.4" r="4.3" fill="#ece4f3"/>
<circle cx="210.5" cy="124.4" r="2.45" fill="none" stroke="#6d51a4" stroke-width="2.6" stroke-dasharray="13.37 2.04" transform="rotate(151 210.5 124.4)"/>
<g fill="#4f2f86" opacity="0.8"><circle cx="210.35" cy="121.68" r="0.65"/><circle cx="208.27" cy="124.31" r="0.73"/><circle cx="208.4" cy="123" r="0.86"/><circle cx="212.1" cy="123.88" r="0.65"/><circle cx="212.63" cy="124.95" r="0.82"/></g>
<circle cx="221.7" cy="108.8" r="4.3" fill="#ece4f3"/>
<circle cx="221.7" cy="108.8" r="2.45" fill="none" stroke="#6d51a4" stroke-width="2.6" stroke-dasharray="12.76 2.64" transform="rotate(244 221.7 108.8)"/>
<g fill="#4f2f86" opacity="0.8"><circle cx="224.18" cy="110.3" r="0.74"/><circle cx="220.77" cy="111.5" r="0.52"/><circle cx="222.79" cy="111.44" r="0.52"/><circle cx="223.32" cy="110.57" r="0.78"/><circle cx="220.3" cy="107.92" r="0.61"/></g>
<circle cx="238.1" cy="115.8" r="4.3" fill="#ece4f3"/>
<circle cx="238.1" cy="115.8" r="2.45" fill="none" stroke="#6d51a4" stroke-width="2.6" stroke-dasharray="13.2 2.21" transform="rotate(254 238.1 115.8)"/>
<g fill="#4f2f86" opacity="0.8"><circle cx="238.65" cy="117.31" r="0.61"/><circle cx="239.62" cy="115.09" r="0.72"/><circle cx="240.39" cy="114.34" r="0.61"/><circle cx="237.03" cy="114.36" r="0.7"/><circle cx="237.85" cy="118.79" r="0.85"/></g>
<circle cx="230.4" cy="124.4" r="4.3" fill="#ece4f3"/>
<circle cx="230.4" cy="124.4" r="2.45" fill="none" stroke="#6d51a4" stroke-width="2.6" stroke-dasharray="15.39 0.01" transform="rotate(274 230.4 124.4)"/>
<g fill="#4f2f86" opacity="0.8"><circle cx="228.36" cy="126.43" r="0.89"/><circle cx="228.74" cy="126.18" r="0.56"/><circle cx="232.54" cy="126.13" r="0.52"/><circle cx="228.97" cy="123.34" r="0.77"/><circle cx="230.47" cy="121.3" r="0.66"/></g>
<circle cx="256.3" cy="126.1" r="4.3" fill="#ece4f3"/>
<circle cx="256.3" cy="126.1" r="2.45" fill="none" stroke="#6d51a4" stroke-width="2.6" stroke-dasharray="13.09 2.31" transform="rotate(140 256.3 126.1)"/>
<g fill="#4f2f86" opacity="0.8"><circle cx="255.52" cy="123.35" r="0.55"/><circle cx="255.54" cy="127.61" r="0.59"/><circle cx="255.98" cy="123.02" r="0.89"/><circle cx="258.34" cy="127.03" r="0.85"/><circle cx="254.14" cy="126.04" r="0.81"/></g>
<circle cx="262" cy="112.3" r="4.3" fill="#ece4f3"/>
<circle cx="262" cy="112.3" r="2.45" fill="none" stroke="#6d51a4" stroke-width="2.6" stroke-dasharray="13.6 1.8" transform="rotate(311 262 112.3)"/>
<g fill="#4f2f86" opacity="0.8"><circle cx="260.18" cy="112.1" r="0.57"/><circle cx="260.03" cy="111.92" r="0.82"/><circle cx="260.75" cy="113.71" r="0.75"/><circle cx="261.87" cy="114" r="0.9"/><circle cx="262.73" cy="113.96" r="0.69"/></g>
<circle cx="187.1" cy="142.6" r="4.3" fill="#ece4f3"/>
<circle cx="187.1" cy="142.6" r="2.45" fill="none" stroke="#6d51a4" stroke-width="2.6" stroke-dasharray="12.32 3.09" transform="rotate(1 187.1 142.6)"/>
<g fill="#4f2f86" opacity="0.8"><circle cx="188.58" cy="143.36" r="0.89"/><circle cx="184.03" cy="142.28" r="0.86"/><circle cx="186.93" cy="140.96" r="0.76"/><circle cx="188.58" cy="143.24" r="0.84"/><circle cx="186.12" cy="145.22" r="0.71"/></g>
<circle cx="188" cy="152.1" r="4.3" fill="#ece4f3"/>
<circle cx="188" cy="152.1" r="2.45" fill="none" stroke="#6d51a4" stroke-width="2.6" stroke-dasharray="15.39 0.01" transform="rotate(282 188 152.1)"/>
<g fill="#4f2f86" opacity="0.8"><circle cx="185.98" cy="149.67" r="0.69"/><circle cx="189.76" cy="149.78" r="0.73"/><circle cx="185.71" cy="152.01" r="0.76"/><circle cx="188.77" cy="154.27" r="0.76"/><circle cx="187.31" cy="153.92" r="0.54"/></g>
<circle cx="202.7" cy="162.5" r="4.3" fill="#ece4f3"/>
<circle cx="202.7" cy="162.5" r="2.45" fill="none" stroke="#6d51a4" stroke-width="2.6" stroke-dasharray="12.14 3.26" transform="rotate(289 202.7 162.5)"/>
<g fill="#4f2f86" opacity="0.8"><circle cx="204.07" cy="160.14" r="0.74"/><circle cx="205.51" cy="163.57" r="0.69"/><circle cx="202" cy="160.85" r="0.8"/><circle cx="204.59" cy="165" r="0.78"/><circle cx="200.1" cy="161.99" r="0.59"/></g>
<circle cx="219.2" cy="143.8" r="4.3" fill="#ece4f3"/>
<circle cx="219.2" cy="143.8" r="2.45" fill="none" stroke="#6d51a4" stroke-width="2.6" stroke-dasharray="15.39 0.01" transform="rotate(179 219.2 143.8)"/>
<g fill="#4f2f86" opacity="0.8"><circle cx="220.95" cy="144.85" r="0.61"/><circle cx="220.35" cy="145.75" r="0.53"/><circle cx="221.3" cy="144.14" r="0.9"/><circle cx="218.87" cy="141.54" r="0.58"/><circle cx="220.84" cy="145.37" r="0.76"/></g>
<circle cx="229.2" cy="143.5" r="4.3" fill="#ece4f3"/>
<circle cx="229.2" cy="143.5" r="2.45" fill="none" stroke="#6d51a4" stroke-width="2.6" stroke-dasharray="15.39 0.01" transform="rotate(297 229.2 143.5)"/>
<g fill="#4f2f86" opacity="0.8"><circle cx="226.32" cy="144.19" r="0.82"/><circle cx="230.45" cy="141.77" r="0.69"/><circle cx="230.55" cy="145.64" r="0.52"/><circle cx="227.37" cy="143.85" r="0.69"/><circle cx="229.87" cy="144.96" r="0.67"/></g>
<circle cx="242.5" cy="156.4" r="4.3" fill="#ece4f3"/>
<circle cx="242.5" cy="156.4" r="2.45" fill="none" stroke="#6d51a4" stroke-width="2.6" stroke-dasharray="12.81 2.59" transform="rotate(154 242.5 156.4)"/>
<g fill="#4f2f86" opacity="0.8"><circle cx="244.2" cy="158.09" r="0.62"/><circle cx="244.47" cy="157.5" r="0.77"/><circle cx="241.61" cy="158.99" r="0.82"/><circle cx="244.44" cy="156.57" r="0.61"/><circle cx="240.51" cy="155.1" r="0.73"/></g>
<circle cx="251.1" cy="153.8" r="4.3" fill="#ece4f3"/>
<circle cx="251.1" cy="153.8" r="2.45" fill="none" stroke="#6d51a4" stroke-width="2.6" stroke-dasharray="13.32 2.08" transform="rotate(26 251.1 153.8)"/>
<g fill="#4f2f86" opacity="0.8"><circle cx="252.59" cy="156.17" r="0.77"/><circle cx="250.09" cy="156.63" r="0.55"/><circle cx="253.28" cy="154.05" r="0.77"/><circle cx="253.38" cy="153" r="0.55"/><circle cx="249.77" cy="152.87" r="0.83"/></g>
<circle cx="241.6" cy="166" r="4.3" fill="#ece4f3"/>
<circle cx="241.6" cy="166" r="2.45" fill="none" stroke="#6d51a4" stroke-width="2.6" stroke-dasharray="13.69 1.71" transform="rotate(116 241.6 166)"/>
<g fill="#4f2f86" opacity="0.8"><circle cx="243.33" cy="168.36" r="0.86"/><circle cx="242.88" cy="168.93" r="0.84"/><circle cx="240.8" cy="167.48" r="0.56"/><circle cx="239.82" cy="166.75" r="0.57"/><circle cx="241.17" cy="168.97" r="0.51"/></g>
</g>
<rect x="179.4" y="101.9" width="82.6" height="65.2" fill="none" stroke="#4a4a4a" stroke-width="1"/>
<text x="181.6" y="165.2" font-size="7.9">th3/+</text>
<rect x="213.1" y="135.4" width="21.5" height="19.1" fill="none" stroke="#333" stroke-width="1.15" stroke-dasharray="2.4 1.5"/>
<path d="M234.6 135.4L283.3 107M234.6 154.5L283.3 161.7" stroke="#333" stroke-width="1.15" stroke-dasharray="2.4 1.5" fill="none"/>
<rect x="283.3" y="107" width="58.9" height="54.7" fill="#f7f4fa" stroke="#4a4a4a" stroke-width="1.1"/>
<text x="292.8" y="104.8" font-size="7.9">Band form</text>
<ellipse cx="301.8" cy="133.2" rx="11.2" ry="13.8" fill="#f0e2f2"/>
<ellipse cx="301.8" cy="133.2" rx="9.6" ry="12.2" fill="#7048a8"/>
<g fill="#d8c4e6" opacity="0.85"><circle cx="307.45" cy="129.38" r="0.65"/><circle cx="293.05" cy="132.36" r="0.42"/><circle cx="301.58" cy="141.78" r="0.55"/><circle cx="299.11" cy="139.35" r="0.39"/><circle cx="293.52" cy="133.05" r="0.7"/><circle cx="294.13" cy="139.02" r="0.74"/><circle cx="300.08" cy="137.92" r="0.68"/><circle cx="308.73" cy="129.74" r="0.74"/><circle cx="295.06" cy="134.42" r="0.38"/><circle cx="295.85" cy="141.29" r="0.39"/><circle cx="303.91" cy="136.35" r="0.55"/><circle cx="296.35" cy="127.9" r="0.7"/><circle cx="298.68" cy="124.65" r="0.59"/><circle cx="298.12" cy="133.02" r="0.39"/><circle cx="298.8" cy="128.32" r="0.52"/><circle cx="297.47" cy="125.85" r="0.45"/><circle cx="301.34" cy="138.64" r="0.62"/><circle cx="301" cy="127.92" r="0.46"/><circle cx="306.12" cy="140.66" r="0.47"/><circle cx="305.39" cy="128.31" r="0.61"/><circle cx="296.05" cy="124.75" r="0.64"/><circle cx="308.3" cy="129.48" r="0.35"/><circle cx="298.16" cy="142.13" r="0.49"/><circle cx="299.57" cy="128.83" r="0.61"/><circle cx="295.21" cy="140.61" r="0.38"/><circle cx="296.68" cy="141.06" r="0.51"/><circle cx="296.26" cy="134.9" r="0.39"/><circle cx="298.18" cy="143.01" r="0.66"/><circle cx="299.04" cy="142.16" r="0.67"/><circle cx="302.81" cy="128.94" r="0.42"/><circle cx="306.94" cy="131.35" r="0.66"/><circle cx="296.02" cy="125.3" r="0.38"/><circle cx="309.56" cy="128.83" r="0.45"/><circle cx="301.09" cy="129.58" r="0.7"/><circle cx="295.03" cy="138.35" r="0.67"/><circle cx="310.19" cy="135.01" r="0.39"/><circle cx="305.42" cy="139.99" r="0.45"/><circle cx="299" cy="128.4" r="0.6"/><circle cx="302.45" cy="121.92" r="0.51"/><circle cx="300.21" cy="142.02" r="0.61"/><circle cx="308.11" cy="128.97" r="0.53"/><circle cx="299.5" cy="142.73" r="0.61"/><circle cx="306.72" cy="136.24" r="0.42"/><circle cx="295.81" cy="133.42" r="0.41"/><circle cx="294.44" cy="131.41" r="0.49"/><circle cx="303.79" cy="128.86" r="0.37"/><circle cx="299.94" cy="124.56" r="0.65"/><circle cx="307.98" cy="129.77" r="0.68"/><circle cx="297.76" cy="126.29" r="0.55"/><circle cx="307.56" cy="132.83" r="0.52"/><circle cx="294.5" cy="134.71" r="0.37"/><circle cx="299.89" cy="129.76" r="0.5"/><circle cx="295.23" cy="136.38" r="0.58"/><circle cx="299.3" cy="130.77" r="0.48"/><circle cx="301.34" cy="125.29" r="0.68"/><circle cx="295.02" cy="130.77" r="0.62"/><circle cx="304.68" cy="132.8" r="0.4"/><circle cx="305.88" cy="136.45" r="0.36"/><circle cx="306.15" cy="132.77" r="0.54"/><circle cx="306.61" cy="127.56" r="0.45"/></g>
<g fill="#4c2484" opacity="0.8"><circle cx="300.07" cy="141.34" r="0.52"/><circle cx="295.36" cy="134.73" r="0.43"/><circle cx="308.05" cy="125.12" r="0.63"/><circle cx="308.98" cy="139.39" r="0.55"/><circle cx="297.59" cy="138.15" r="0.77"/><circle cx="299.67" cy="126.07" r="0.55"/><circle cx="296.15" cy="137.01" r="0.67"/><circle cx="305.94" cy="131.46" r="0.74"/><circle cx="305.02" cy="127.48" r="0.79"/><circle cx="307.45" cy="126.08" r="0.44"/><circle cx="294.16" cy="136.56" r="0.62"/><circle cx="309.36" cy="136.94" r="0.56"/><circle cx="302.95" cy="141.01" r="0.44"/><circle cx="299.13" cy="137.26" r="0.8"/><circle cx="305.84" cy="139.18" r="0.52"/><circle cx="295.82" cy="135.18" r="0.75"/><circle cx="305.26" cy="143.8" r="0.56"/><circle cx="307.92" cy="132.35" r="0.43"/><circle cx="304.38" cy="127.51" r="0.7"/><circle cx="305.82" cy="128.4" r="0.53"/><circle cx="293.97" cy="128.93" r="0.74"/><circle cx="294.55" cy="133.99" r="0.72"/><circle cx="306.72" cy="142.45" r="0.75"/><circle cx="302.57" cy="142.79" r="0.69"/><circle cx="299.06" cy="128.53" r="0.42"/><circle cx="302.61" cy="139.24" r="0.59"/><circle cx="301.22" cy="123.88" r="0.76"/><circle cx="295.08" cy="133.72" r="0.45"/><circle cx="309.21" cy="130.36" r="0.79"/><circle cx="306.07" cy="130.82" r="0.64"/><circle cx="293.76" cy="134.02" r="0.42"/><circle cx="297.77" cy="125.17" r="0.55"/><circle cx="307.28" cy="140.26" r="0.42"/><circle cx="299.58" cy="137.82" r="0.52"/><circle cx="301.83" cy="142.79" r="0.67"/><circle cx="300.09" cy="125.13" r="0.7"/><circle cx="298" cy="125.49" r="0.71"/><circle cx="308.57" cy="131.64" r="0.78"/><circle cx="297.21" cy="127.45" r="0.59"/><circle cx="298.41" cy="126.8" r="0.77"/></g>
<ellipse cx="301.8" cy="133.7" rx="3.8" ry="4.6" fill="#f2eaf6"/>
<ellipse cx="325" cy="132.2" rx="11.2" ry="13.8" fill="#f0e2f2"/>
<ellipse cx="325" cy="132.2" rx="9.6" ry="12.2" fill="#7048a8"/>
<g fill="#d8c4e6" opacity="0.85"><circle cx="319.48" cy="138.35" r="0.69"/><circle cx="328.62" cy="123.72" r="0.64"/><circle cx="325.31" cy="123.09" r="0.52"/><circle cx="328.57" cy="128.82" r="0.4"/><circle cx="323.07" cy="138.13" r="0.74"/><circle cx="316.64" cy="130.12" r="0.57"/><circle cx="326.74" cy="142.8" r="0.7"/><circle cx="330.7" cy="139.37" r="0.58"/><circle cx="327.45" cy="138.8" r="0.64"/><circle cx="327.79" cy="140.73" r="0.56"/><circle cx="320.46" cy="131.07" r="0.68"/><circle cx="317.61" cy="129.75" r="0.6"/><circle cx="321.65" cy="141.29" r="0.51"/><circle cx="330.69" cy="128.35" r="0.43"/><circle cx="319.08" cy="133.9" r="0.73"/><circle cx="321.96" cy="142.4" r="0.36"/><circle cx="328.61" cy="137.39" r="0.65"/><circle cx="320.03" cy="127.46" r="0.52"/><circle cx="327.66" cy="126.95" r="0.67"/><circle cx="319.65" cy="139.2" r="0.68"/><circle cx="320.73" cy="134.79" r="0.45"/><circle cx="325.08" cy="137.16" r="0.52"/><circle cx="321.29" cy="126.13" r="0.73"/><circle cx="332.47" cy="128.38" r="0.67"/><circle cx="321.93" cy="141.58" r="0.37"/><circle cx="328.59" cy="132.77" r="0.48"/><circle cx="324.54" cy="128.13" r="0.5"/><circle cx="318.12" cy="126.15" r="0.58"/><circle cx="325.11" cy="137.05" r="0.55"/><circle cx="327.87" cy="122.26" r="0.6"/><circle cx="326.57" cy="136.46" r="0.37"/><circle cx="324.15" cy="140.89" r="0.41"/><circle cx="320.94" cy="127.33" r="0.67"/><circle cx="317.14" cy="130.25" r="0.45"/><circle cx="317.28" cy="127.58" r="0.36"/><circle cx="331.53" cy="128.47" r="0.75"/><circle cx="323.58" cy="140.46" r="0.62"/><circle cx="318.93" cy="127.01" r="0.7"/><circle cx="329.07" cy="140.66" r="0.53"/><circle cx="332.5" cy="126.34" r="0.53"/><circle cx="319.62" cy="140.75" r="0.73"/><circle cx="326.24" cy="121.32" r="0.73"/><circle cx="319.17" cy="132.92" r="0.37"/><circle cx="320.47" cy="134.56" r="0.64"/><circle cx="318.32" cy="125" r="0.63"/><circle cx="324.97" cy="139.8" r="0.55"/><circle cx="316.47" cy="129.65" r="0.6"/><circle cx="322.56" cy="138.22" r="0.58"/><circle cx="330.54" cy="136.41" r="0.71"/><circle cx="331.09" cy="127.79" r="0.57"/><circle cx="321.5" cy="140.15" r="0.53"/><circle cx="319.77" cy="123.14" r="0.65"/><circle cx="327.95" cy="136.62" r="0.63"/><circle cx="332.1" cy="130.73" r="0.69"/><circle cx="324.09" cy="138.59" r="0.74"/><circle cx="329.59" cy="126.51" r="0.68"/><circle cx="319.96" cy="124.15" r="0.59"/><circle cx="321.43" cy="121.97" r="0.52"/><circle cx="324.25" cy="120.95" r="0.37"/><circle cx="324.91" cy="139.67" r="0.58"/></g>
<g fill="#4c2484" opacity="0.8"><circle cx="316.56" cy="135.32" r="0.48"/><circle cx="323.42" cy="137.72" r="0.47"/><circle cx="321.34" cy="129.02" r="0.78"/><circle cx="325.28" cy="126.25" r="0.72"/><circle cx="330.06" cy="138.47" r="0.49"/><circle cx="328.33" cy="140.24" r="0.75"/><circle cx="329.71" cy="135.71" r="0.59"/><circle cx="331.06" cy="129.98" r="0.75"/><circle cx="318.48" cy="129.97" r="0.71"/><circle cx="327.38" cy="140.74" r="0.41"/><circle cx="316.12" cy="130.48" r="0.43"/><circle cx="330.93" cy="137.64" r="0.77"/><circle cx="316.69" cy="128.27" r="0.53"/><circle cx="330.46" cy="131.83" r="0.71"/><circle cx="320.71" cy="141.41" r="0.41"/><circle cx="321.67" cy="142.5" r="0.71"/><circle cx="318.65" cy="132.97" r="0.78"/><circle cx="326.8" cy="138.63" r="0.42"/><circle cx="320.79" cy="122.49" r="0.45"/><circle cx="325.68" cy="121.87" r="0.48"/><circle cx="317.76" cy="131" r="0.42"/><circle cx="329.69" cy="130.05" r="0.46"/><circle cx="322.98" cy="123.67" r="0.71"/><circle cx="322.09" cy="127.44" r="0.58"/><circle cx="330.95" cy="131.19" r="0.47"/><circle cx="328.53" cy="128.32" r="0.56"/><circle cx="333.48" cy="131.87" r="0.45"/><circle cx="330.89" cy="136.76" r="0.67"/><circle cx="327.03" cy="125.81" r="0.57"/><circle cx="319.27" cy="134.46" r="0.67"/><circle cx="318.63" cy="130.17" r="0.71"/><circle cx="322.78" cy="141.26" r="0.71"/><circle cx="322.72" cy="136.82" r="0.4"/><circle cx="327.03" cy="121.91" r="0.69"/><circle cx="330.66" cy="133.3" r="0.78"/><circle cx="318.81" cy="129.15" r="0.79"/><circle cx="330.58" cy="130.78" r="0.69"/><circle cx="328.45" cy="122.34" r="0.77"/><circle cx="325.06" cy="126.4" r="0.52"/><circle cx="327.34" cy="141.41" r="0.62"/></g>
<ellipse cx="325" cy="132.7" rx="4.2" ry="4.3" fill="#f2eaf6"/>
<path d="M297.5 130 L304.8 128.5 L302.5 133 L306 137.5 L298.5 136.5 Z" fill="#f2eaf6"/>
<rect x="179.2" y="177.5" width="82.6" height="67.5" fill="#faf8fc"/>
<g clip-path="url(#ce)">
<circle cx="203.7" cy="183.3" r="4.9" fill="url(#ec)" stroke="#f4f0fa" stroke-width="0.8"/>
<circle cx="196.3" cy="187.5" r="5.08" fill="url(#ec)" stroke="#f4f0fa" stroke-width="0.8"/>
<circle cx="195.7" cy="186.75" r="0.68" fill="#c4b4dc" opacity="0.85"/>
<circle cx="188" cy="191.6" r="4.69" fill="url(#ec)" stroke="#f4f0fa" stroke-width="0.8"/>
<circle cx="208.7" cy="191.6" r="4.23" fill="url(#ecd)" stroke="#f4f0fa" stroke-width="0.8"/>
<circle cx="194.6" cy="195.8" r="3.63" fill="url(#ec)" stroke="#f4f0fa" stroke-width="0.8"/>
<circle cx="194.72" cy="196.04" r="0.73" fill="#c4b4dc" opacity="0.85"/>
<circle cx="202.1" cy="194.1" r="4" fill="url(#ec)" stroke="#f4f0fa" stroke-width="0.8"/>
<circle cx="202.42" cy="194.23" r="0.63" fill="#c4b4dc" opacity="0.85"/>
<circle cx="213.7" cy="196.6" r="4.24" fill="url(#ec)" stroke="#f4f0fa" stroke-width="0.8"/>
<circle cx="187.1" cy="201.6" r="4.69" fill="url(#ec)" stroke="#f4f0fa" stroke-width="0.8"/>
<circle cx="186.96" cy="201.97" r="0.84" fill="#c4b4dc" opacity="0.85"/>
<circle cx="196.3" cy="201.6" r="3.92" fill="url(#ec)" stroke="#f4f0fa" stroke-width="0.8"/>
<circle cx="196.72" cy="201.2" r="0.86" fill="#c4b4dc" opacity="0.85"/>
<circle cx="205.4" cy="199.9" r="4" fill="url(#ec)" stroke="#f4f0fa" stroke-width="0.8"/>
<circle cx="205.61" cy="200.02" r="0.84" fill="#c4b4dc" opacity="0.85"/>
<circle cx="209.6" cy="205.7" r="3.96" fill="url(#ecd)" stroke="#f4f0fa" stroke-width="0.8"/>
<circle cx="216.2" cy="205.7" r="3.96" fill="url(#ec)" stroke="#f4f0fa" stroke-width="0.8"/>
<circle cx="184.6" cy="209" r="4.5" fill="url(#ec)" stroke="#f4f0fa" stroke-width="0.8"/>
<circle cx="192.1" cy="209" r="4.5" fill="url(#ec)" stroke="#f4f0fa" stroke-width="0.8"/>
<circle cx="192.87" cy="209.27" r="0.66" fill="#c4b4dc" opacity="0.85"/>
<circle cx="188" cy="216.5" r="4.94" fill="url(#ec)" stroke="#f4f0fa" stroke-width="0.8"/>
<circle cx="187.58" cy="216.42" r="0.86" fill="#c4b4dc" opacity="0.85"/>
<circle cx="196.3" cy="215.7" r="4.74" fill="url(#ec)" stroke="#f4f0fa" stroke-width="0.8"/>
<circle cx="204.6" cy="218.2" r="4.59" fill="url(#ec)" stroke="#f4f0fa" stroke-width="0.8"/>
<circle cx="190.5" cy="226.5" r="5.36" fill="url(#ec)" stroke="#f4f0fa" stroke-width="0.8"/>
<circle cx="198.8" cy="223.2" r="4.59" fill="url(#ec)" stroke="#f4f0fa" stroke-width="0.8"/>
<circle cx="209.6" cy="224" r="4.59" fill="url(#ec)" stroke="#f4f0fa" stroke-width="0.8"/>
<circle cx="202.9" cy="231.5" r="4.97" fill="url(#ec)" stroke="#f4f0fa" stroke-width="0.8"/>
<circle cx="202.9" cy="239.8" r="3.14" fill="url(#ec)" stroke="#f4f0fa" stroke-width="0.8"/>
<circle cx="206.4" cy="239" r="2.94" fill="url(#ec)" stroke="#f4f0fa" stroke-width="0.8"/>
<circle cx="206.52" cy="238.92" r="0.87" fill="#c4b4dc" opacity="0.85"/>
<circle cx="211.2" cy="213.2" r="4.6" fill="url(#ec)" stroke="#f4f0fa" stroke-width="0.8"/>
<circle cx="211.88" cy="212.85" r="0.78" fill="#c4b4dc" opacity="0.85"/>
<circle cx="231.6" cy="199.1" r="5.36" fill="url(#ec)" stroke="#f4f0fa" stroke-width="0.8"/>
<circle cx="232.27" cy="199.74" r="0.98" fill="#c4b4dc" opacity="0.85"/>
<circle cx="239.9" cy="202.4" r="5.13" fill="url(#ec)" stroke="#f4f0fa" stroke-width="0.8"/>
<circle cx="239.63" cy="203.06" r="0.95" fill="#c4b4dc" opacity="0.85"/>
<circle cx="247.4" cy="198.3" r="4.74" fill="url(#ecd)" stroke="#f4f0fa" stroke-width="0.8"/>
<circle cx="247.35" cy="197.59" r="0.93" fill="#c4b4dc" opacity="0.85"/>
<circle cx="254.1" cy="194.1" r="4.74" fill="url(#ec)" stroke="#f4f0fa" stroke-width="0.8"/>
<circle cx="254.9" cy="203.2" r="5.1" fill="url(#ec)" stroke="#f4f0fa" stroke-width="0.8"/>
<circle cx="232.5" cy="209.9" r="4.86" fill="url(#ec)" stroke="#f4f0fa" stroke-width="0.8"/>
<circle cx="239.9" cy="213.2" r="4.86" fill="url(#ec)" stroke="#f4f0fa" stroke-width="0.8"/>
<circle cx="239.7" cy="213.45" r="0.77" fill="#c4b4dc" opacity="0.85"/>
<circle cx="247.4" cy="207.4" r="5.16" fill="url(#ec)" stroke="#f4f0fa" stroke-width="0.8"/>
<circle cx="255.7" cy="212.4" r="5.3" fill="url(#ec)" stroke="#f4f0fa" stroke-width="0.8"/>
<circle cx="227.5" cy="217.4" r="5.41" fill="url(#ecd)" stroke="#f4f0fa" stroke-width="0.8"/>
<circle cx="237.4" cy="222.3" r="4.97" fill="url(#ec)" stroke="#f4f0fa" stroke-width="0.8"/>
<circle cx="247.4" cy="217.4" r="4.47" fill="url(#ec)" stroke="#f4f0fa" stroke-width="0.8"/>
<circle cx="247.12" cy="216.72" r="0.97" fill="#c4b4dc" opacity="0.85"/>
<circle cx="230.8" cy="227.3" r="4.97" fill="url(#ec)" stroke="#f4f0fa" stroke-width="0.8"/>
<circle cx="246.6" cy="224.8" r="4.47" fill="url(#ec)" stroke="#f4f0fa" stroke-width="0.8"/>
<circle cx="247.23" cy="225.46" r="0.68" fill="#c4b4dc" opacity="0.85"/>
<circle cx="243.3" cy="234" r="4.67" fill="url(#ec)" stroke="#f4f0fa" stroke-width="0.8"/>
<circle cx="243.91" cy="234.73" r="0.82" fill="#c4b4dc" opacity="0.85"/>
<circle cx="251.6" cy="234.8" r="4.43" fill="url(#ec)" stroke="#f4f0fa" stroke-width="0.8"/>
<circle cx="259" cy="234.8" r="4.44" fill="url(#ec)" stroke="#f4f0fa" stroke-width="0.8"/>
<circle cx="258.98" cy="234.13" r="0.65" fill="#c4b4dc" opacity="0.85"/>
<circle cx="237.4" cy="241.4" r="4.98" fill="url(#ec)" stroke="#f4f0fa" stroke-width="0.8"/>
<circle cx="237.46" cy="241.52" r="0.77" fill="#c4b4dc" opacity="0.85"/>
<circle cx="245.7" cy="241.4" r="4.67" fill="url(#ec)" stroke="#f4f0fa" stroke-width="0.8"/>
<circle cx="254.9" cy="241.4" r="4.43" fill="url(#ec)" stroke="#f4f0fa" stroke-width="0.8"/>
<circle cx="254.47" cy="240.88" r="0.8" fill="#c4b4dc" opacity="0.85"/>
<circle cx="202.1" cy="209.9" r="5" fill="url(#ec2)" stroke="#f2eef8" stroke-width="0.5"/>
</g>
<rect x="179.2" y="177.5" width="82.6" height="67.5" fill="none" stroke="#4a4a4a" stroke-width="1"/>
<text x="181.3" y="242.4" font-size="7.9">th3/+</text>
<path d="M235.8 195.5H257.9V219M257.9 195.5L282.4 182.3M257.9 219L282.4 240.6" stroke="#333" stroke-width="1.15" stroke-dasharray="2.4 1.5" fill="none"/>
<rect x="282.5" y="182.3" width="59.4" height="58.3" fill="#f8f5fb"/>
<g clip-path="url(#ie)">
<ellipse cx="307.7" cy="187" rx="9.6" ry="9.2" fill="url(#big)" stroke="#f6f0fa" stroke-width="1.3"/>
<g fill="#a088cc" opacity="0.5"><circle cx="308.02" cy="185.81" r="1.5"/><circle cx="306.86" cy="188.11" r="0.85"/><circle cx="307.71" cy="186.95" r="1.03"/><circle cx="306.73" cy="190.55" r="0.99"/><circle cx="308.62" cy="187.58" r="1.56"/><circle cx="301.6" cy="184.53" r="1.55"/><circle cx="302.43" cy="183.22" r="1.02"/><circle cx="306" cy="192.36" r="0.93"/><circle cx="307.38" cy="190.28" r="1.01"/><circle cx="313.95" cy="185.39" r="1.32"/><circle cx="309.13" cy="185.93" r="0.86"/><circle cx="305.29" cy="190.4" r="0.62"/><circle cx="309.18" cy="188.01" r="0.7"/><circle cx="307.69" cy="187.71" r="0.9"/></g>
<g fill="#4a2c88" opacity="0.5"><circle cx="302.81" cy="189.02" r="1.06"/><circle cx="306.61" cy="191.01" r="1.11"/><circle cx="312.79" cy="187.56" r="0.58"/><circle cx="315.12" cy="187.6" r="0.97"/><circle cx="300.89" cy="188.43" r="1.17"/><circle cx="303.54" cy="184.77" r="0.5"/><circle cx="314.11" cy="184.92" r="0.57"/><circle cx="304.43" cy="188.08" r="1.16"/><circle cx="306.78" cy="189.54" r="1.13"/><circle cx="306.79" cy="189.47" r="0.54"/><circle cx="310.11" cy="190.79" r="0.68"/><circle cx="304.35" cy="180.6" r="0.6"/></g>
<ellipse cx="326" cy="181.5" rx="9.5" ry="5.5" fill="url(#big)" stroke="#f6f0fa" stroke-width="1.3"/>
<g fill="#a088cc" opacity="0.5"><circle cx="331.26" cy="182.24" r="1.26"/><circle cx="326.57" cy="181.14" r="1.3"/><circle cx="325.73" cy="182.25" r="0.98"/><circle cx="329.41" cy="178.76" r="1.44"/><circle cx="326.09" cy="183.36" r="0.78"/><circle cx="327.06" cy="184.92" r="0.71"/><circle cx="331.97" cy="179.53" r="1.04"/><circle cx="320.39" cy="179.21" r="1.32"/><circle cx="327.3" cy="178.53" r="0.66"/><circle cx="327.03" cy="178.68" r="0.94"/><circle cx="328.42" cy="181.89" r="1.15"/><circle cx="323.34" cy="183.34" r="1"/><circle cx="323.75" cy="177.87" r="0.61"/><circle cx="321.76" cy="179.23" r="0.62"/></g>
<g fill="#4a2c88" opacity="0.5"><circle cx="319.35" cy="182.53" r="0.98"/><circle cx="323.02" cy="183.05" r="0.52"/><circle cx="319.03" cy="181.49" r="1.08"/><circle cx="324.87" cy="178.71" r="0.67"/><circle cx="325.41" cy="183.18" r="0.73"/><circle cx="330.7" cy="181.61" r="1.05"/><circle cx="322.51" cy="185.13" r="0.89"/><circle cx="327.72" cy="176.95" r="0.57"/><circle cx="323.58" cy="182.44" r="0.59"/><circle cx="325.59" cy="180.41" r="0.92"/><circle cx="329.89" cy="180.19" r="0.98"/><circle cx="330.44" cy="184.29" r="1.04"/></g>
<ellipse cx="292.5" cy="199.5" rx="9.6" ry="11.4" fill="url(#big)" stroke="#f6f0fa" stroke-width="1.3"/>
<g fill="#a088cc" opacity="0.5"><circle cx="286.84" cy="195.47" r="1.15"/><circle cx="292.4" cy="199.42" r="1.42"/><circle cx="289.72" cy="204.42" r="1.09"/><circle cx="294.43" cy="202.89" r="1.53"/><circle cx="292.04" cy="198.71" r="1.14"/><circle cx="292.65" cy="199.37" r="0.6"/><circle cx="294.3" cy="194.91" r="1.35"/><circle cx="290.7" cy="203.82" r="0.75"/><circle cx="295.45" cy="202.67" r="1.45"/><circle cx="292.38" cy="199.46" r="0.6"/><circle cx="292.68" cy="196.39" r="0.8"/><circle cx="292.15" cy="207.37" r="1.08"/><circle cx="293.34" cy="200.68" r="0.66"/><circle cx="295.61" cy="198.22" r="1.05"/></g>
<g fill="#4a2c88" opacity="0.5"><circle cx="295.89" cy="201.06" r="1.07"/><circle cx="295.12" cy="194.84" r="0.7"/><circle cx="296.3" cy="198.28" r="0.69"/><circle cx="295.61" cy="204.13" r="1.09"/><circle cx="285.5" cy="198.47" r="0.73"/><circle cx="291.32" cy="196.2" r="0.82"/><circle cx="291.14" cy="203.71" r="1.03"/><circle cx="293.54" cy="205.39" r="0.75"/><circle cx="295.02" cy="196.87" r="0.74"/><circle cx="291.56" cy="195.17" r="1.01"/><circle cx="296.65" cy="198.87" r="0.88"/><circle cx="299.36" cy="200.58" r="0.76"/></g>
<ellipse cx="326" cy="198.8" rx="11" ry="10.2" fill="url(#big)" stroke="#f6f0fa" stroke-width="1.3"/>
<g fill="#a088cc" opacity="0.5"><circle cx="324.69" cy="197.8" r="1.27"/><circle cx="317.81" cy="198.89" r="1.55"/><circle cx="324.72" cy="198.24" r="0.89"/><circle cx="319.62" cy="197.18" r="1.49"/><circle cx="330.65" cy="194.69" r="1.06"/><circle cx="324.1" cy="197.94" r="1.16"/><circle cx="322.78" cy="201.79" r="0.64"/><circle cx="330.52" cy="201.56" r="1.03"/><circle cx="327.37" cy="206.1" r="0.62"/><circle cx="332.45" cy="196.38" r="0.6"/><circle cx="330.17" cy="194.91" r="0.82"/><circle cx="322.95" cy="192.21" r="0.66"/><circle cx="325.69" cy="199.74" r="1.47"/><circle cx="326.59" cy="199.36" r="0.69"/></g>
<g fill="#4a2c88" opacity="0.5"><circle cx="327.88" cy="195.93" r="1.18"/><circle cx="331.33" cy="199.92" r="0.59"/><circle cx="327.47" cy="201.75" r="0.89"/><circle cx="326.9" cy="203.02" r="1.1"/><circle cx="324.21" cy="197.54" r="0.69"/><circle cx="322.58" cy="196.16" r="0.56"/><circle cx="329.8" cy="201.43" r="0.93"/><circle cx="322.17" cy="199.46" r="0.61"/><circle cx="323.2" cy="206.23" r="0.56"/><circle cx="328.54" cy="199.94" r="0.89"/><circle cx="330.33" cy="199.46" r="0.71"/><circle cx="321.32" cy="201.09" r="1.09"/></g>
<ellipse cx="309.2" cy="209.6" rx="10.4" ry="10.2" fill="url(#big)" stroke="#f6f0fa" stroke-width="1.3"/>
<g fill="#a088cc" opacity="0.5"><circle cx="308.8" cy="210.78" r="1.39"/><circle cx="309.39" cy="210.66" r="0.62"/><circle cx="314.21" cy="208.27" r="1.23"/><circle cx="314.7" cy="213.01" r="0.66"/><circle cx="306.99" cy="203.62" r="1.06"/><circle cx="312.04" cy="216.52" r="0.64"/><circle cx="308.56" cy="214.26" r="1.23"/><circle cx="309.98" cy="211.51" r="1"/><circle cx="316.87" cy="208.54" r="0.7"/><circle cx="311.09" cy="207.19" r="0.85"/><circle cx="308.81" cy="209.76" r="1.33"/><circle cx="308.61" cy="207.79" r="0.63"/><circle cx="308.89" cy="202.12" r="0.73"/><circle cx="313.51" cy="209.16" r="0.83"/></g>
<g fill="#4a2c88" opacity="0.5"><circle cx="309.9" cy="202.51" r="0.75"/><circle cx="306.01" cy="208.06" r="0.91"/><circle cx="310.69" cy="213.8" r="1.05"/><circle cx="311.03" cy="203.4" r="1.14"/><circle cx="310.24" cy="203.66" r="0.97"/><circle cx="310.81" cy="211.31" r="0.67"/><circle cx="309.78" cy="201.04" r="0.65"/><circle cx="316.77" cy="208.63" r="0.61"/><circle cx="305.46" cy="208.7" r="1.02"/><circle cx="306.29" cy="213.28" r="0.9"/><circle cx="307.11" cy="216.6" r="0.93"/><circle cx="314.78" cy="211.5" r="0.81"/></g>
<ellipse cx="291" cy="222.8" rx="9.4" ry="10.2" fill="url(#big)" stroke="#f6f0fa" stroke-width="1.3"/>
<g fill="#a088cc" opacity="0.5"><circle cx="297.1" cy="219.72" r="0.66"/><circle cx="291.49" cy="218.09" r="1.1"/><circle cx="295.81" cy="227.23" r="1.24"/><circle cx="286.36" cy="217.44" r="0.72"/><circle cx="290.82" cy="222.97" r="0.88"/><circle cx="293.69" cy="222.77" r="1.43"/><circle cx="293.47" cy="219.66" r="1.43"/><circle cx="291.12" cy="223.37" r="0.8"/><circle cx="291.57" cy="223.23" r="0.65"/><circle cx="291.71" cy="223.17" r="1.15"/><circle cx="288.79" cy="230" r="1.23"/><circle cx="295.76" cy="220.62" r="1.5"/><circle cx="293.58" cy="221.77" r="0.83"/><circle cx="296.94" cy="226.38" r="0.84"/></g>
<g fill="#4a2c88" opacity="0.5"><circle cx="297.28" cy="222" r="1.07"/><circle cx="298.27" cy="224.59" r="0.56"/><circle cx="291.76" cy="220.68" r="1.16"/><circle cx="293.67" cy="223.9" r="0.82"/><circle cx="292.18" cy="225.27" r="0.76"/><circle cx="296.07" cy="224.88" r="1.02"/><circle cx="285.66" cy="222.84" r="0.67"/><circle cx="285.4" cy="223.95" r="1.15"/><circle cx="283.19" cy="221.61" r="0.78"/><circle cx="285.99" cy="218.57" r="0.57"/><circle cx="294.47" cy="216.25" r="0.58"/><circle cx="288.59" cy="218.79" r="0.63"/></g>
<ellipse cx="328.8" cy="222.6" rx="10.8" ry="11.4" fill="url(#big)" stroke="#f6f0fa" stroke-width="1.3"/>
<g fill="#a088cc" opacity="0.5"><circle cx="329.04" cy="223.76" r="1.53"/><circle cx="331.46" cy="216.95" r="0.78"/><circle cx="328.58" cy="220.33" r="1.11"/><circle cx="336.13" cy="223.65" r="0.95"/><circle cx="328.47" cy="221.65" r="0.8"/><circle cx="329.13" cy="216.61" r="1.21"/><circle cx="324.79" cy="226.01" r="1.51"/><circle cx="331.67" cy="216.56" r="1.05"/><circle cx="321.86" cy="224.96" r="0.88"/><circle cx="327.09" cy="222.22" r="1.05"/><circle cx="329.4" cy="230.1" r="1.51"/><circle cx="324.67" cy="227.77" r="1.4"/><circle cx="333.09" cy="218.22" r="0.82"/><circle cx="327.4" cy="220.87" r="1.08"/></g>
<g fill="#4a2c88" opacity="0.5"><circle cx="330.95" cy="223.44" r="1.14"/><circle cx="323.35" cy="224.05" r="0.94"/><circle cx="335.4" cy="223.99" r="1.01"/><circle cx="336.15" cy="225.64" r="0.86"/><circle cx="324.47" cy="222.16" r="0.54"/><circle cx="329.78" cy="226.18" r="1.05"/><circle cx="322.5" cy="216.11" r="0.63"/><circle cx="330.38" cy="215.51" r="0.82"/><circle cx="328.12" cy="219.13" r="1.02"/><circle cx="328.13" cy="228.8" r="0.97"/><circle cx="330.25" cy="231.92" r="0.58"/><circle cx="336" cy="216.95" r="1.07"/></g>
<ellipse cx="310.4" cy="231.5" rx="9" ry="9.2" fill="url(#big)" stroke="#f6f0fa" stroke-width="1.3"/>
<g fill="#a088cc" opacity="0.5"><circle cx="305.34" cy="233.19" r="1.23"/><circle cx="315.09" cy="231.05" r="0.72"/><circle cx="309.89" cy="231.35" r="1.12"/><circle cx="312.83" cy="233.75" r="1.39"/><circle cx="312.73" cy="231.91" r="0.66"/><circle cx="309.34" cy="233.86" r="0.61"/><circle cx="308.51" cy="235.74" r="1.06"/><circle cx="312.37" cy="233.45" r="0.62"/><circle cx="312.18" cy="233.83" r="0.76"/><circle cx="309.62" cy="231.25" r="1.37"/><circle cx="313.25" cy="226.58" r="1.36"/><circle cx="305.72" cy="227.92" r="0.72"/><circle cx="312.57" cy="232.16" r="1.57"/><circle cx="306.71" cy="232.3" r="0.86"/></g>
<g fill="#4a2c88" opacity="0.5"><circle cx="304.52" cy="229.27" r="0.9"/><circle cx="314.16" cy="232.53" r="0.78"/><circle cx="311.89" cy="232.89" r="0.99"/><circle cx="313.87" cy="231.8" r="0.93"/><circle cx="311.22" cy="228.16" r="0.55"/><circle cx="315.44" cy="228.72" r="1.03"/><circle cx="307.69" cy="226.14" r="0.55"/><circle cx="315.24" cy="236.66" r="0.71"/><circle cx="305.94" cy="227.46" r="0.86"/><circle cx="315.19" cy="233.48" r="0.83"/><circle cx="309.17" cy="235.84" r="0.9"/><circle cx="314.33" cy="232.48" r="0.64"/></g>
<ellipse cx="289" cy="240" rx="9.5" ry="6" fill="url(#big)" stroke="#f6f0fa" stroke-width="1.3"/>
<g fill="#a088cc" opacity="0.5"><circle cx="287.74" cy="239.99" r="1.03"/><circle cx="287.89" cy="240.16" r="0.84"/><circle cx="285.03" cy="238.78" r="1.52"/><circle cx="286.22" cy="238.17" r="1.58"/><circle cx="292.67" cy="239.67" r="1.08"/><circle cx="291.4" cy="239.44" r="1.42"/><circle cx="289.49" cy="240.73" r="0.89"/><circle cx="286.36" cy="239.95" r="0.81"/><circle cx="289.42" cy="240.17" r="1.5"/><circle cx="290.5" cy="236.58" r="1.23"/><circle cx="285.99" cy="239.16" r="1.29"/><circle cx="283.35" cy="241.67" r="0.84"/><circle cx="283.65" cy="240.89" r="1.17"/><circle cx="289.15" cy="236.68" r="0.98"/></g>
<g fill="#4a2c88" opacity="0.5"><circle cx="286.99" cy="240.65" r="0.77"/><circle cx="291.19" cy="239.51" r="1.14"/><circle cx="293.37" cy="236.8" r="0.61"/><circle cx="293.4" cy="235.83" r="0.73"/><circle cx="290.85" cy="241.4" r="0.69"/><circle cx="288.92" cy="241.49" r="0.65"/><circle cx="284.63" cy="243.06" r="1.19"/><circle cx="296.53" cy="240.23" r="1.13"/><circle cx="293.96" cy="239.57" r="0.77"/><circle cx="289.68" cy="242.3" r="0.68"/><circle cx="288.63" cy="242.84" r="0.55"/><circle cx="292.09" cy="242.14" r="0.52"/></g>
<path d="M323 195.5 l3.5 0.5 l0.8 4 l-3.8 0.5 z" fill="#ece2f4"/><path d="M291 197 l3 0.2 l0.2 2.5 l-3 0.2z" fill="#e4d8f0"/>
</g>
<rect x="282.5" y="182.3" width="59.4" height="58.3" fill="none" stroke="#4a4a4a" stroke-width="1.1"/>
<text x="282.4" y="177.8" font-size="7.8">Immature myeloid</text>
<line x1="398.2" y1="39.3" x2="398.2" y2="127.6" stroke="#111" stroke-width="1.3"/>
<line x1="395.2" y1="127.1" x2="512.4" y2="127.1" stroke="#111" stroke-width="1.3"/>
<line x1="394" y1="127.1" x2="398.2" y2="127.1" stroke="#111" stroke-width="1.1"/>
<text x="392.6" y="129.9" font-size="8" text-anchor="end">0</text>
<line x1="396.2" y1="118.67" x2="398.2" y2="118.67" stroke="#111" stroke-width="0.9"/>
<line x1="394" y1="110.24" x2="398.2" y2="110.24" stroke="#111" stroke-width="1.1"/>
<text x="392.6" y="113.04" font-size="8" text-anchor="end">20</text>
<line x1="396.2" y1="101.81" x2="398.2" y2="101.81" stroke="#111" stroke-width="0.9"/>
<line x1="394" y1="93.38" x2="398.2" y2="93.38" stroke="#111" stroke-width="1.1"/>
<text x="392.6" y="96.18" font-size="8" text-anchor="end">40</text>
<line x1="396.2" y1="84.95" x2="398.2" y2="84.95" stroke="#111" stroke-width="0.9"/>
<line x1="394" y1="76.52" x2="398.2" y2="76.52" stroke="#111" stroke-width="1.1"/>
<text x="392.6" y="79.32" font-size="8" text-anchor="end">60</text>
<line x1="396.2" y1="68.09" x2="398.2" y2="68.09" stroke="#111" stroke-width="0.9"/>
<line x1="394" y1="59.66" x2="398.2" y2="59.66" stroke="#111" stroke-width="1.1"/>
<text x="392.6" y="62.46" font-size="8" text-anchor="end">80</text>
<line x1="396.2" y1="51.23" x2="398.2" y2="51.23" stroke="#111" stroke-width="0.9"/>
<line x1="394" y1="42.8" x2="398.2" y2="42.8" stroke="#111" stroke-width="1.1"/>
<text x="392.6" y="45.6" font-size="8" text-anchor="end">100</text>
<line x1="426.4" y1="127.1" x2="426.4" y2="130.2" stroke="#111" stroke-width="1.1"/>
<line x1="483.3" y1="127.1" x2="483.3" y2="130.2" stroke="#111" stroke-width="1.1"/>
<text x="426.6" y="140.1" font-size="8.1" text-anchor="middle">Band form</text>
<text x="483.4" y="140.2" font-size="8.3" text-anchor="middle">Segmented</text>
<rect x="405.8" y="123.9" width="16.9" height="3.2" fill="#2c4b8b"/>
<line x1="408.8" y1="123.6" x2="419.7" y2="123.6" stroke="#222" stroke-width="1"/>
<line x1="414.25" y1="123.1" x2="414.25" y2="125.1" stroke="#222" stroke-width="0.8"/>
<rect x="430.7" y="92.5" width="16.7" height="34.6" fill="#b3123a"/>
<line x1="433.7" y1="92.2" x2="444.4" y2="92.2" stroke="#222" stroke-width="1"/>
<line x1="439.05" y1="91.7" x2="439.05" y2="93.7" stroke="#222" stroke-width="0.8"/>
<rect x="463.2" y="45.1" width="16.7" height="82" fill="#2c4b8b"/>
<line x1="466.2" y1="44.8" x2="476.9" y2="44.8" stroke="#222" stroke-width="1"/>
<line x1="471.55" y1="44.3" x2="471.55" y2="46.3" stroke="#222" stroke-width="0.8"/>
<rect x="487.3" y="80.3" width="17.1" height="46.8" fill="#b3123a"/>
<line x1="490.3" y1="80" x2="501.4" y2="80" stroke="#222" stroke-width="1"/>
<line x1="495.85" y1="79.5" x2="495.85" y2="81.5" stroke="#222" stroke-width="0.8"/>
<rect x="409.4" y="41.9" width="6.8" height="4.9" fill="#2c4b8b"/>
<text x="418.9" y="46.9" font-size="8" textLength="11.2" lengthAdjust="spacingAndGlyphs">WT</text>
<rect x="409.4" y="53.5" width="6.8" height="4.9" fill="#b3123a"/>
<text x="419" y="59.1" font-size="8">th3/+</text>
<text x="409.2" y="69.4" font-size="7.7"><tspan font-style="italic">P</tspan>&lt;0.0059</text>
<line x1="412.5" y1="75.7" x2="438.5" y2="75.7" stroke="#111" stroke-width="1.5"/>
<line x1="412.7" y1="73.4" x2="412.7" y2="78.4" stroke="#111" stroke-width="1.1"/>
<line x1="438.4" y1="73.4" x2="438.4" y2="78.4" stroke="#111" stroke-width="1.1"/>
<text x="465.7" y="31.2" font-size="7.7"><tspan font-style="italic">P</tspan>&lt;0.0001</text>
<line x1="472.8" y1="36.2" x2="492.3" y2="36.2" stroke="#111" stroke-width="1.5"/>
<line x1="472.8" y1="33.6" x2="472.8" y2="38.6" stroke="#111" stroke-width="1.1"/>
<line x1="492.3" y1="33.6" x2="492.3" y2="38.6" stroke="#111" stroke-width="1.1"/>
<text id="ylD" transform="translate(372.2,130.0) rotate(-90)" font-size="9.2" textLength="93.5" lengthAdjust="spacing">%Ly6G<tspan font-size="6.3" dy="-3.4">hi</tspan><tspan dy="3.4">Ly6C</tspan><tspan font-size="6.3" dy="-3.4">low</tspan><tspan dy="3.4"> (neut)</tspan></text>
<line x1="46.2" y1="307.9" x2="46.2" y2="398.2" stroke="#111" stroke-width="1.3"/>
<line x1="45.6" y1="397.6" x2="176" y2="397.6" stroke="#111" stroke-width="1.3"/>
<line x1="42.8" y1="397.6" x2="46.2" y2="397.6" stroke="#111" stroke-width="1.1"/>
<text x="39.7" y="400.5" font-size="8.2" text-anchor="end">0</text>
<line x1="42.8" y1="380.3" x2="46.2" y2="380.3" stroke="#111" stroke-width="1.1"/>
<text x="39.7" y="383.2" font-size="8.2" text-anchor="end">20</text>
<line x1="42.8" y1="363" x2="46.2" y2="363" stroke="#111" stroke-width="1.1"/>
<text x="39.7" y="365.9" font-size="8.2" text-anchor="end">40</text>
<line x1="42.8" y1="345.7" x2="46.2" y2="345.7" stroke="#111" stroke-width="1.1"/>
<text x="39.7" y="348.6" font-size="8.2" text-anchor="end">60</text>
<line x1="42.8" y1="328.4" x2="46.2" y2="328.4" stroke="#111" stroke-width="1.1"/>
<text x="39.7" y="331.3" font-size="8.2" text-anchor="end">80</text>
<line x1="42.8" y1="311.1" x2="46.2" y2="311.1" stroke="#111" stroke-width="1.1"/>
<text x="39.7" y="314" font-size="8.2" text-anchor="end">100</text>
<line x1="44" y1="388.95" x2="46.2" y2="388.95" stroke="#111" stroke-width="0.9"/>
<line x1="44" y1="371.65" x2="46.2" y2="371.65" stroke="#111" stroke-width="0.9"/>
<line x1="44" y1="354.35" x2="46.2" y2="354.35" stroke="#111" stroke-width="0.9"/>
<line x1="44" y1="337.05" x2="46.2" y2="337.05" stroke="#111" stroke-width="0.9"/>
<line x1="44" y1="319.75" x2="46.2" y2="319.75" stroke="#111" stroke-width="0.9"/>
<line x1="57.2" y1="397.6" x2="57.2" y2="400.4" stroke="#111" stroke-width="1.1"/>
<line x1="78.7" y1="397.6" x2="78.7" y2="400.4" stroke="#111" stroke-width="1.1"/>
<line x1="100" y1="397.6" x2="100" y2="400.4" stroke="#111" stroke-width="1.1"/>
<line x1="121.5" y1="397.6" x2="121.5" y2="400.4" stroke="#111" stroke-width="1.1"/>
<line x1="143.1" y1="397.6" x2="143.1" y2="400.4" stroke="#111" stroke-width="1.1"/>
<line x1="164.8" y1="397.6" x2="164.8" y2="400.4" stroke="#111" stroke-width="1.1"/>
<text x="57.2" y="411.5" font-size="8.2" text-anchor="middle">WT</text>
<text x="78.7" y="411.5" font-size="8.2" text-anchor="middle">th3/+</text>
<text x="100" y="411.5" font-size="8.2" text-anchor="middle">WT</text>
<text x="121.5" y="411.5" font-size="8.2" text-anchor="middle">th3/+</text>
<text x="143.1" y="411.5" font-size="8.2" text-anchor="middle">WT</text>
<text x="164.8" y="411.5" font-size="8.2" text-anchor="middle">th3/+</text>
<text x="67.95" y="423.7" font-size="8.2" text-anchor="middle">BM</text>
<text x="110.75" y="423.7" font-size="8.2" text-anchor="middle">Blood</text>
<text x="153.95" y="423.7" font-size="8.2" text-anchor="middle">Spleen</text>
<circle cx="57.3" cy="332" r="1.4" fill="#2b4a8a"/>
<circle cx="52.3" cy="342.1" r="1.4" fill="#2b4a8a"/>
<circle cx="55.1" cy="344" r="1.4" fill="#2b4a8a"/>
<circle cx="57.8" cy="343.1" r="1.4" fill="#2b4a8a"/>
<circle cx="61.5" cy="342.1" r="1.4" fill="#2b4a8a"/>
<circle cx="56" cy="345.8" r="1.4" fill="#2b4a8a"/>
<circle cx="57.3" cy="354.7" r="1.4" fill="#2b4a8a"/>
<circle cx="56.9" cy="363.4" r="1.4" fill="#2b4a8a"/>
<circle cx="57.3" cy="367.6" r="1.4" fill="#2b4a8a"/>
<line x1="48.6" y1="348.2" x2="66.5" y2="348.2" stroke="#000" stroke-width="1.5"/>
<circle cx="77.2" cy="335.1" r="1.4" fill="#b0173d"/>
<circle cx="80" cy="335.7" r="1.4" fill="#b0173d"/>
<circle cx="76.3" cy="344.9" r="1.4" fill="#b0173d"/>
<circle cx="78.1" cy="346.8" r="1.4" fill="#b0173d"/>
<circle cx="80.9" cy="347.3" r="1.4" fill="#b0173d"/>
<circle cx="80" cy="349.9" r="1.4" fill="#b0173d"/>
<circle cx="78.5" cy="363.9" r="1.4" fill="#b0173d"/>
<line x1="69.8" y1="346.2" x2="87.7" y2="346.2" stroke="#000" stroke-width="1.5"/>
<circle cx="100" cy="341.3" r="1.4" fill="#2b4a8a"/>
<circle cx="97.2" cy="357.9" r="1.4" fill="#2b4a8a"/>
<circle cx="100" cy="356" r="1.4" fill="#2b4a8a"/>
<circle cx="102.8" cy="358.8" r="1.4" fill="#2b4a8a"/>
<circle cx="99.1" cy="364.4" r="1.4" fill="#2b4a8a"/>
<circle cx="100" cy="372.1" r="1.4" fill="#2b4a8a"/>
<circle cx="100" cy="381.6" r="1.4" fill="#2b4a8a"/>
<line x1="91.3" y1="361" x2="109.8" y2="361" stroke="#000" stroke-width="1.5"/>
<circle cx="119.4" cy="352.9" r="1.4" fill="#b0173d"/>
<circle cx="122.2" cy="352.3" r="1.4" fill="#b0173d"/>
<circle cx="124.6" cy="353.3" r="1.4" fill="#b0173d"/>
<circle cx="121.3" cy="355.1" r="1.4" fill="#b0173d"/>
<circle cx="120.3" cy="359.7" r="1.4" fill="#b0173d"/>
<circle cx="122.8" cy="360.7" r="1.4" fill="#b0173d"/>
<circle cx="121.3" cy="364.4" r="1.4" fill="#b0173d"/>
<circle cx="121.3" cy="368.4" r="1.4" fill="#b0173d"/>
<circle cx="121.3" cy="371.8" r="1.4" fill="#b0173d"/>
<circle cx="121.3" cy="375.1" r="1.4" fill="#b0173d"/>
<circle cx="121.3" cy="377.3" r="1.4" fill="#b0173d"/>
<line x1="113" y1="362.5" x2="130.5" y2="362.5" stroke="#000" stroke-width="1.5"/>
<circle cx="140.7" cy="357" r="1.4" fill="#2b4a8a"/>
<circle cx="143.5" cy="356.6" r="1.4" fill="#2b4a8a"/>
<circle cx="141.6" cy="359.2" r="1.4" fill="#2b4a8a"/>
<circle cx="144.4" cy="359.7" r="1.4" fill="#2b4a8a"/>
<circle cx="143.5" cy="364.4" r="1.4" fill="#2b4a8a"/>
<circle cx="140.7" cy="368.1" r="1.4" fill="#2b4a8a"/>
<circle cx="144.4" cy="367.7" r="1.4" fill="#2b4a8a"/>
<circle cx="139.8" cy="373.6" r="1.4" fill="#2b4a8a"/>
<circle cx="142.5" cy="374.5" r="1.4" fill="#2b4a8a"/>
<circle cx="146.2" cy="373.6" r="1.4" fill="#2b4a8a"/>
<line x1="134.2" y1="365.8" x2="152.3" y2="365.8" stroke="#000" stroke-width="1.5"/>
<circle cx="163.8" cy="351.8" r="1.4" fill="#b0173d"/>
<circle cx="166.6" cy="353.3" r="1.4" fill="#b0173d"/>
<circle cx="161.9" cy="357.9" r="1.4" fill="#b0173d"/>
<circle cx="165.6" cy="358.8" r="1.4" fill="#b0173d"/>
<circle cx="163.8" cy="361.6" r="1.4" fill="#b0173d"/>
<circle cx="162.9" cy="367.1" r="1.4" fill="#b0173d"/>
<circle cx="165.6" cy="366.6" r="1.4" fill="#b0173d"/>
<circle cx="164.2" cy="376.4" r="1.4" fill="#b0173d"/>
<circle cx="164.2" cy="381" r="1.4" fill="#b0173d"/>
<line x1="156.4" y1="363.1" x2="174" y2="363.1" stroke="#000" stroke-width="1.5"/>
<path d="M143.1 349.6V332H164.7V345" fill="none" stroke="#1a1a1a" stroke-width="1.3"/>
<text x="142.5" y="326.5" font-size="8"><tspan font-style="italic">P</tspan>=0.15</text>
<text id="ylF" transform="translate(20,400.3) rotate(-90)" font-size="9.2" textLength="94.2" lengthAdjust="spacing">%Ly6G<tspan font-size="6.3" dy="-3.4">hi</tspan><tspan dy="3.4">Ly6C</tspan><tspan font-size="6.3" dy="-3.4">low</tspan><tspan dy="3.4"> (neut)</tspan></text>
<line x1="212" y1="307.3" x2="212" y2="397.8" stroke="#111" stroke-width="1.3"/>
<line x1="211.4" y1="397.2" x2="342" y2="397.2" stroke="#111" stroke-width="1.3"/>
<line x1="208.6" y1="397.2" x2="212" y2="397.2" stroke="#111" stroke-width="1.1"/>
<text x="205.5" y="400.1" font-size="8.2" text-anchor="end">0</text>
<line x1="208.6" y1="384.81" x2="212" y2="384.81" stroke="#111" stroke-width="1.1"/>
<text x="205.5" y="387.71" font-size="8.2" text-anchor="end">5</text>
<line x1="208.6" y1="372.43" x2="212" y2="372.43" stroke="#111" stroke-width="1.1"/>
<text x="205.5" y="375.33" font-size="8.2" text-anchor="end">10</text>
<line x1="208.6" y1="360.04" x2="212" y2="360.04" stroke="#111" stroke-width="1.1"/>
<text x="205.5" y="362.94" font-size="8.2" text-anchor="end">15</text>
<line x1="208.6" y1="347.66" x2="212" y2="347.66" stroke="#111" stroke-width="1.1"/>
<text x="205.5" y="350.56" font-size="8.2" text-anchor="end">20</text>
<line x1="208.6" y1="335.27" x2="212" y2="335.27" stroke="#111" stroke-width="1.1"/>
<text x="205.5" y="338.17" font-size="8.2" text-anchor="end">25</text>
<line x1="208.6" y1="322.89" x2="212" y2="322.89" stroke="#111" stroke-width="1.1"/>
<text x="205.5" y="325.79" font-size="8.2" text-anchor="end">30</text>
<line x1="208.6" y1="310.5" x2="212" y2="310.5" stroke="#111" stroke-width="1.1"/>
<text x="205.5" y="313.4" font-size="8.2" text-anchor="end">35</text>
<line x1="223.2" y1="397.2" x2="223.2" y2="400" stroke="#111" stroke-width="1.1"/>
<line x1="244.9" y1="397.2" x2="244.9" y2="400" stroke="#111" stroke-width="1.1"/>
<line x1="266.5" y1="397.2" x2="266.5" y2="400" stroke="#111" stroke-width="1.1"/>
<line x1="288.4" y1="397.2" x2="288.4" y2="400" stroke="#111" stroke-width="1.1"/>
<line x1="310.3" y1="397.2" x2="310.3" y2="400" stroke="#111" stroke-width="1.1"/>
<line x1="332.4" y1="397.2" x2="332.4" y2="400" stroke="#111" stroke-width="1.1"/>
<text x="223.2" y="411.5" font-size="8.2" text-anchor="middle">WT</text>
<text x="244.9" y="411.5" font-size="8.2" text-anchor="middle">th3/+</text>
<text x="266.5" y="411.5" font-size="8.2" text-anchor="middle">WT</text>
<text x="288.4" y="411.5" font-size="8.2" text-anchor="middle">th3/+</text>
<text x="310.3" y="411.5" font-size="8.2" text-anchor="middle">WT</text>
<text x="332.4" y="411.5" font-size="8.2" text-anchor="middle">th3/+</text>
<text x="234.05" y="423.7" font-size="8.2" text-anchor="middle">BM</text>
<text x="277.45" y="423.7" font-size="8.2" text-anchor="middle">Blood</text>
<text x="321.35" y="423.7" font-size="8.2" text-anchor="middle">Spleen</text>
<circle cx="223.7" cy="353.8" r="1.4" fill="#2b4a8a"/>
<circle cx="223.7" cy="362.1" r="1.4" fill="#2b4a8a"/>
<circle cx="225.8" cy="366" r="1.4" fill="#2b4a8a"/>
<circle cx="221.4" cy="367.3" r="1.4" fill="#2b4a8a"/>
<circle cx="220.6" cy="370.8" r="1.4" fill="#2b4a8a"/>
<circle cx="223.2" cy="371.1" r="1.4" fill="#2b4a8a"/>
<circle cx="225.8" cy="371.1" r="1.4" fill="#2b4a8a"/>
<circle cx="223.7" cy="377.7" r="1.4" fill="#2b4a8a"/>
<line x1="214.5" y1="367.7" x2="232.7" y2="367.7" stroke="#000" stroke-width="1.5"/>
<circle cx="245.1" cy="363.7" r="1.4" fill="#b0173d"/>
<circle cx="242.7" cy="370.3" r="1.4" fill="#b0173d"/>
<circle cx="247.4" cy="370.3" r="1.4" fill="#b0173d"/>
<circle cx="243.9" cy="372.9" r="1.4" fill="#b0173d"/>
<circle cx="246.5" cy="373.7" r="1.4" fill="#b0173d"/>
<circle cx="244.8" cy="376.3" r="1.4" fill="#b0173d"/>
<circle cx="245.1" cy="380.3" r="1.4" fill="#b0173d"/>
<line x1="236.1" y1="372.4" x2="254.8" y2="372.4" stroke="#000" stroke-width="1.5"/>
<circle cx="268.7" cy="386.7" r="1.4" fill="#2b4a8a"/>
<circle cx="267.3" cy="388.4" r="1.4" fill="#2b4a8a"/>
<circle cx="263.8" cy="390.2" r="1.4" fill="#2b4a8a"/>
<circle cx="266.4" cy="391" r="1.4" fill="#2b4a8a"/>
<circle cx="269.5" cy="390.5" r="1.4" fill="#2b4a8a"/>
<circle cx="265.6" cy="395" r="1.4" fill="#2b4a8a"/>
<line x1="257.8" y1="391.1" x2="275.7" y2="391.1" stroke="#000" stroke-width="1.5"/>
<circle cx="283" cy="390.5" r="1.4" fill="#b0173d"/>
<circle cx="285" cy="391.5" r="1.4" fill="#b0173d"/>
<circle cx="287" cy="390.8" r="1.4" fill="#b0173d"/>
<circle cx="289" cy="392" r="1.4" fill="#b0173d"/>
<circle cx="291" cy="391" r="1.4" fill="#b0173d"/>
<circle cx="293" cy="392" r="1.4" fill="#b0173d"/>
<circle cx="295" cy="391.5" r="1.4" fill="#b0173d"/>
<circle cx="284" cy="392.8" r="1.4" fill="#b0173d"/>
<circle cx="288" cy="393.2" r="1.4" fill="#b0173d"/>
<circle cx="292" cy="393" r="1.4" fill="#b0173d"/>
<circle cx="286" cy="389.8" r="1.4" fill="#b0173d"/>
<circle cx="290" cy="389.6" r="1.4" fill="#b0173d"/>
<circle cx="296" cy="392.5" r="1.4" fill="#b0173d"/>
<line x1="280.5" y1="392.1" x2="297.1" y2="392.1" stroke="#000" stroke-width="1.5"/>
<circle cx="306" cy="389" r="1.4" fill="#2b4a8a"/>
<circle cx="308" cy="388" r="1.4" fill="#2b4a8a"/>
<circle cx="311" cy="387.5" r="1.4" fill="#2b4a8a"/>
<circle cx="313" cy="388.5" r="1.4" fill="#2b4a8a"/>
<circle cx="315" cy="389.5" r="1.4" fill="#2b4a8a"/>
<circle cx="304" cy="391" r="1.4" fill="#2b4a8a"/>
<circle cx="307" cy="391.5" r="1.4" fill="#2b4a8a"/>
<circle cx="310" cy="392" r="1.4" fill="#2b4a8a"/>
<circle cx="313" cy="391.5" r="1.4" fill="#2b4a8a"/>
<circle cx="316" cy="391" r="1.4" fill="#2b4a8a"/>
<circle cx="318" cy="392" r="1.4" fill="#2b4a8a"/>
<circle cx="305" cy="393.5" r="1.4" fill="#2b4a8a"/>
<circle cx="309" cy="394.5" r="1.4" fill="#2b4a8a"/>
<circle cx="312" cy="394.5" r="1.4" fill="#2b4a8a"/>
<circle cx="315" cy="393.5" r="1.4" fill="#2b4a8a"/>
<circle cx="310.5" cy="390" r="1.4" fill="#2b4a8a"/>
<line x1="302.7" y1="391.7" x2="319.3" y2="391.7" stroke="#000" stroke-width="1.5"/>
<circle cx="332.3" cy="364.7" r="1.4" fill="#b0173d"/>
<circle cx="329" cy="369" r="1.4" fill="#b0173d"/>
<circle cx="334" cy="369.5" r="1.4" fill="#b0173d"/>
<circle cx="327" cy="372" r="1.4" fill="#b0173d"/>
<circle cx="331" cy="373" r="1.4" fill="#b0173d"/>
<circle cx="336" cy="372.5" r="1.4" fill="#b0173d"/>
<circle cx="329" cy="375" r="1.4" fill="#b0173d"/>
<circle cx="333" cy="376" r="1.4" fill="#b0173d"/>
<circle cx="337" cy="375.5" r="1.4" fill="#b0173d"/>
<circle cx="330" cy="378" r="1.4" fill="#b0173d"/>
<circle cx="333" cy="380" r="1.4" fill="#b0173d"/>
<circle cx="332.5" cy="383.8" r="1.4" fill="#b0173d"/>
<line x1="323.6" y1="374.5" x2="341.5" y2="374.5" stroke="#000" stroke-width="1.5"/>
<path d="M310.1 375.5V345H332.6V357.9" fill="none" stroke="#1a1a1a" stroke-width="1.3"/>
<text x="305.5" y="339.4" font-size="8"><tspan font-style="italic">P</tspan>&lt;0.0001</text>
<text id="ylG" transform="translate(191.9,388.7) rotate(-90)" font-size="9.2" textLength="72.5" lengthAdjust="spacing">%Ly6G<tspan font-size="6.3" dy="-3.4">low</tspan><tspan dy="3.4">Ly6C</tspan><tspan font-size="6.3" dy="-3.4">low</tspan></text>
<line x1="380.2" y1="306.5" x2="380.2" y2="397.4" stroke="#111" stroke-width="1.3"/>
<line x1="379.6" y1="396.8" x2="512.8" y2="396.8" stroke="#111" stroke-width="1.3"/>
<line x1="376.8" y1="396.8" x2="380.2" y2="396.8" stroke="#111" stroke-width="1.1"/>
<text x="373.7" y="399.7" font-size="8.2" text-anchor="end">0</text>
<line x1="376.8" y1="384.36" x2="380.2" y2="384.36" stroke="#111" stroke-width="1.1"/>
<text x="373.7" y="387.25" font-size="8.2" text-anchor="end">5</text>
<line x1="376.8" y1="371.91" x2="380.2" y2="371.91" stroke="#111" stroke-width="1.1"/>
<text x="373.7" y="374.81" font-size="8.2" text-anchor="end">10</text>
<line x1="376.8" y1="359.47" x2="380.2" y2="359.47" stroke="#111" stroke-width="1.1"/>
<text x="373.7" y="362.37" font-size="8.2" text-anchor="end">15</text>
<line x1="376.8" y1="347.02" x2="380.2" y2="347.02" stroke="#111" stroke-width="1.1"/>
<text x="373.7" y="349.92" font-size="8.2" text-anchor="end">20</text>
<line x1="376.8" y1="334.58" x2="380.2" y2="334.58" stroke="#111" stroke-width="1.1"/>
<text x="373.7" y="337.48" font-size="8.2" text-anchor="end">25</text>
<line x1="376.8" y1="322.13" x2="380.2" y2="322.13" stroke="#111" stroke-width="1.1"/>
<text x="373.7" y="325.03" font-size="8.2" text-anchor="end">30</text>
<line x1="376.8" y1="309.69" x2="380.2" y2="309.69" stroke="#111" stroke-width="1.1"/>
<text x="373.7" y="312.58" font-size="8.2" text-anchor="end">35</text>
<line x1="391.2" y1="396.8" x2="391.2" y2="399.6" stroke="#111" stroke-width="1.1"/>
<line x1="413.2" y1="396.8" x2="413.2" y2="399.6" stroke="#111" stroke-width="1.1"/>
<line x1="435.4" y1="396.8" x2="435.4" y2="399.6" stroke="#111" stroke-width="1.1"/>
<line x1="457.3" y1="396.8" x2="457.3" y2="399.6" stroke="#111" stroke-width="1.1"/>
<line x1="479.2" y1="396.8" x2="479.2" y2="399.6" stroke="#111" stroke-width="1.1"/>
<line x1="501.3" y1="396.8" x2="501.3" y2="399.6" stroke="#111" stroke-width="1.1"/>
<text x="391.2" y="411.5" font-size="8.2" text-anchor="middle">WT</text>
<text x="413.2" y="411.5" font-size="8.2" text-anchor="middle">th3/+</text>
<text x="435.4" y="411.5" font-size="8.2" text-anchor="middle">WT</text>
<text x="457.3" y="411.5" font-size="8.2" text-anchor="middle">th3/+</text>
<text x="479.2" y="411.5" font-size="8.2" text-anchor="middle">WT</text>
<text x="501.3" y="411.5" font-size="8.2" text-anchor="middle">th3/+</text>
<text x="402.2" y="423.7" font-size="8.2" text-anchor="middle">BM</text>
<text x="446.35" y="423.7" font-size="8.2" text-anchor="middle">Blood</text>
<text x="490.25" y="423.7" font-size="8.2" text-anchor="middle">Spleen</text>
<circle cx="391.8" cy="318.2" r="1.4" fill="#2b4a8a"/>
<circle cx="390" cy="336.6" r="1.4" fill="#2b4a8a"/>
<circle cx="392.5" cy="338.7" r="1.4" fill="#2b4a8a"/>
<circle cx="390.4" cy="352.5" r="1.4" fill="#2b4a8a"/>
<circle cx="392.5" cy="355.6" r="1.4" fill="#2b4a8a"/>
<circle cx="391.2" cy="359.4" r="1.4" fill="#2b4a8a"/>
<circle cx="391.2" cy="372.9" r="1.4" fill="#2b4a8a"/>
<circle cx="391.2" cy="375.8" r="1.4" fill="#2b4a8a"/>
<line x1="382" y1="351.3" x2="400.4" y2="351.3" stroke="#000" stroke-width="1.5"/>
<circle cx="413.2" cy="332.6" r="1.4" fill="#b0173d"/>
<circle cx="413.2" cy="352.1" r="1.4" fill="#b0173d"/>
<circle cx="414.6" cy="356" r="1.4" fill="#b0173d"/>
<circle cx="412" cy="357.3" r="1.4" fill="#b0173d"/>
<circle cx="410.8" cy="367.7" r="1.4" fill="#b0173d"/>
<circle cx="413.7" cy="367.2" r="1.4" fill="#b0173d"/>
<circle cx="416.3" cy="368.9" r="1.4" fill="#b0173d"/>
<circle cx="412.9" cy="370.1" r="1.4" fill="#b0173d"/>
<line x1="404.2" y1="358.9" x2="422" y2="358.9" stroke="#000" stroke-width="1.5"/>
<circle cx="435.4" cy="335.2" r="1.4" fill="#2b4a8a"/>
<circle cx="434" cy="338.3" r="1.4" fill="#2b4a8a"/>
<circle cx="436.7" cy="338.3" r="1.4" fill="#2b4a8a"/>
<circle cx="435.4" cy="347.8" r="1.4" fill="#2b4a8a"/>
<circle cx="435.4" cy="359.9" r="1.4" fill="#2b4a8a"/>
<line x1="426.4" y1="343.8" x2="444.4" y2="343.8" stroke="#000" stroke-width="1.5"/>
<circle cx="458.7" cy="341.8" r="1.4" fill="#b0173d"/>
<circle cx="456.1" cy="343.5" r="1.4" fill="#b0173d"/>
<circle cx="458.7" cy="353.4" r="1.4" fill="#b0173d"/>
<circle cx="456.1" cy="356.3" r="1.4" fill="#b0173d"/>
<line x1="448.3" y1="348.2" x2="466.5" y2="348.2" stroke="#000" stroke-width="1.5"/>
<circle cx="479.3" cy="323.8" r="1.4" fill="#2b4a8a"/>
<circle cx="481.2" cy="334.2" r="1.4" fill="#2b4a8a"/>
<circle cx="478.2" cy="335.8" r="1.4" fill="#2b4a8a"/>
<circle cx="474.7" cy="347.4" r="1.4" fill="#2b4a8a"/>
<circle cx="478.2" cy="347.4" r="1.4" fill="#2b4a8a"/>
<circle cx="481.6" cy="348.1" r="1.4" fill="#2b4a8a"/>
<circle cx="483.9" cy="347.4" r="1.4" fill="#2b4a8a"/>
<circle cx="474.7" cy="352" r="1.4" fill="#2b4a8a"/>
<circle cx="478.2" cy="353.2" r="1.4" fill="#2b4a8a"/>
<circle cx="482.8" cy="352" r="1.4" fill="#2b4a8a"/>
<circle cx="479.3" cy="357.8" r="1.4" fill="#2b4a8a"/>
<circle cx="479.3" cy="367.7" r="1.4" fill="#2b4a8a"/>
<line x1="470" y1="348.1" x2="488.6" y2="348.1" stroke="#000" stroke-width="1.5"/>
<circle cx="501.3" cy="342.1" r="1.4" fill="#b0173d"/>
<circle cx="500.6" cy="351.3" r="1.4" fill="#b0173d"/>
<circle cx="502.9" cy="352" r="1.4" fill="#b0173d"/>
<circle cx="501.3" cy="360.6" r="1.4" fill="#b0173d"/>
<circle cx="496" cy="369.5" r="1.4" fill="#b0173d"/>
<circle cx="499" cy="370.5" r="1.4" fill="#b0173d"/>
<circle cx="502" cy="371" r="1.4" fill="#b0173d"/>
<circle cx="505" cy="370" r="1.4" fill="#b0173d"/>
<circle cx="507.5" cy="371.5" r="1.4" fill="#b0173d"/>
<circle cx="497.5" cy="372" r="1.4" fill="#b0173d"/>
<circle cx="503.5" cy="372.5" r="1.4" fill="#b0173d"/>
<line x1="492" y1="363.1" x2="510.5" y2="363.1" stroke="#000" stroke-width="1.5"/>
<path d="M478.2 318.5V310.4H502V328.9" fill="none" stroke="#1a1a1a" stroke-width="1.3"/>
<text x="477" y="305.8" font-size="8"><tspan font-style="italic">P</tspan>=0.002</text>
<text id="ylH" transform="translate(359.4,396) rotate(-90)" font-size="9.2" textLength="88.6" lengthAdjust="spacing">%Ly6G<tspan font-size="6.3" dy="-3.4">neg</tspan><tspan dy="3.4">Ly6C</tspan><tspan font-size="6.3" dy="-3.4">hi</tspan><tspan dy="3.4"> (Mo)</tspan></text>
</svg>
</body></html>
